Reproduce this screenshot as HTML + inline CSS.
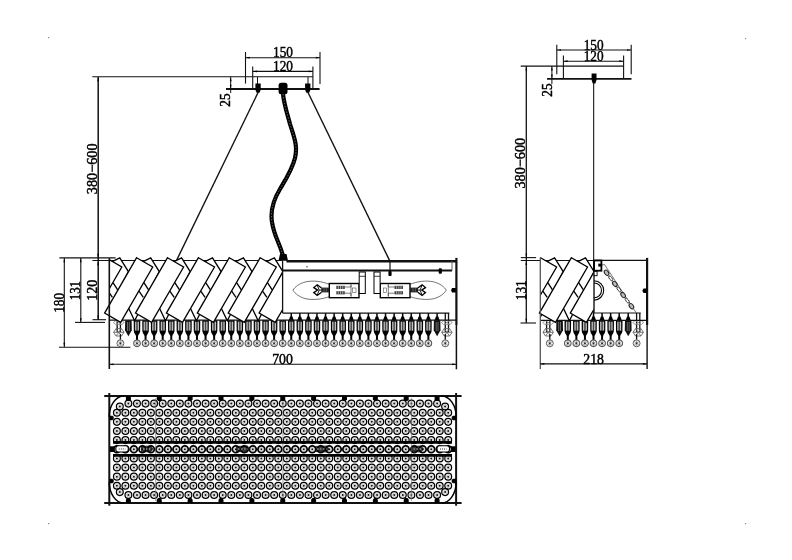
<!DOCTYPE html>
<html><head><meta charset="utf-8"><style>
html,body{margin:0;padding:0;background:#fff;}
svg{display:block;will-change:transform;}
</style></head><body>
<svg width="792" height="560" viewBox="0 0 792 560" shape-rendering="geometricPrecision">
<rect width="792" height="560" fill="#fff"/>
<line x1="92.30" y1="76.80" x2="312.90" y2="76.80" stroke="#111" stroke-width="1.1"/>
<line x1="98.20" y1="77.00" x2="98.20" y2="320.00" stroke="#111" stroke-width="1.5"/>
<path d="M98.10,77.00 l-0.85,4.20 l1.7,0 z" fill="#000"/>
<path d="M98.10,258.00 l-0.85,-4.20 l1.7,0 z" fill="#000"/>
<path d="M98.10,261.00 l-0.85,4.20 l1.7,0 z" fill="#000"/>
<path d="M98.10,319.70 l-0.85,-4.20 l1.7,0 z" fill="#000"/>
<text x="0" y="0" font-family="Liberation Serif"  font-size="15" text-anchor="middle" fill="#000" stroke="#000" stroke-width="0.45" transform="translate(97.00,168.80) rotate(-90) scale(0.95,1)">380−600</text>
<line x1="245.50" y1="57.70" x2="320.00" y2="57.70" stroke="#111" stroke-width="1.1"/>
<path d="M245.50,57.70 l4.20,-0.85 l0,1.7 z" fill="#000"/>
<path d="M320.00,57.70 l-4.20,-0.85 l0,1.7 z" fill="#000"/>
<line x1="245.50" y1="52.00" x2="245.50" y2="83.60" stroke="#111" stroke-width="1.1"/>
<line x1="320.00" y1="52.00" x2="320.00" y2="84.00" stroke="#111" stroke-width="1.1"/>
<text x="0" y="0" font-family="Liberation Serif"  font-size="14" text-anchor="middle" fill="#000" stroke="#000" stroke-width="0.45" transform="translate(283.00,56.60) scale(0.95,1)">150</text>
<line x1="252.70" y1="71.40" x2="312.90" y2="71.40" stroke="#111" stroke-width="1.1"/>
<path d="M252.70,71.40 l4.20,-0.85 l0,1.7 z" fill="#000"/>
<path d="M312.90,71.40 l-4.20,-0.85 l0,1.7 z" fill="#000"/>
<line x1="252.70" y1="66.60" x2="252.70" y2="89.00" stroke="#111" stroke-width="1.1"/>
<line x1="312.90" y1="66.60" x2="312.90" y2="89.00" stroke="#111" stroke-width="1.1"/>
<line x1="257.50" y1="77.00" x2="257.50" y2="89.00" stroke="#111" stroke-width="1"/>
<line x1="308.00" y1="77.00" x2="308.00" y2="89.00" stroke="#111" stroke-width="1"/>
<text x="0" y="0" font-family="Liberation Serif"  font-size="14" text-anchor="middle" fill="#000" stroke="#000" stroke-width="0.45" transform="translate(283.00,70.50) scale(0.95,1)">120</text>
<line x1="226.00" y1="89.00" x2="319.60" y2="89.00" stroke="#111" stroke-width="2"/>
<line x1="230.70" y1="76.80" x2="230.70" y2="93.00" stroke="#111" stroke-width="1"/>
<path d="M230.70,77.00 l-0.85,4.20 l1.7,0 z" fill="#000"/>
<path d="M230.70,89.00 l-0.85,-4.20 l1.7,0 z" fill="#000"/>
<line x1="226.00" y1="89.00" x2="236.00" y2="89.00" stroke="#111" stroke-width="1"/>
<text x="0" y="0" font-family="Liberation Serif"  font-size="14" text-anchor="middle" fill="#000" stroke="#000" stroke-width="0.45" transform="translate(230.20,100.00) rotate(-90) scale(0.95,1)">25</text>
<path d="M255.4,83.6 h5.3 v6.2 l-1.2,3 h-2.9 l-1.2,-3 z" fill="#000"/>
<path d="M305.1,83.6 h5.3 v6.2 l-1.2,3 h-2.9 l-1.2,-3 z" fill="#000"/>
<rect x="278.6" y="82.7" width="8.9" height="11.6" rx="2.5" fill="#000"/>
<line x1="258.30" y1="92.00" x2="176.40" y2="260.70" stroke="#111" stroke-width="1.4"/>
<line x1="307.80" y1="92.00" x2="390.00" y2="261.40" stroke="#111" stroke-width="1.4"/>
<path d="M283,94 C284,104 287,113 290,124 C294,137 298,146 295,158 C292,170 286,179 280,189 C274,199 270,210 272,222 C274,236 280,244 283,256" fill="none" stroke="#000" stroke-width="4.2" stroke-linecap="round"/>
<path d="M283,94 C284,104 287,113 290,124 C294,137 298,146 295,158 C292,170 286,179 280,189 C274,199 270,210 272,222 C274,236 280,244 283,256" fill="none" stroke="#666" stroke-width="1" stroke-dasharray="1.5 1.5"/>
<path d="M280,254 h6.5 l1.5,6.8 h-9.5 z" fill="#000"/>
<line x1="59.40" y1="257.90" x2="115.60" y2="257.90" stroke="#111" stroke-width="1.1"/>
<line x1="64.30" y1="257.90" x2="64.30" y2="347.00" stroke="#111" stroke-width="1.1"/>
<path d="M64.30,258.00 l-0.85,4.20 l1.7,0 z" fill="#000"/>
<path d="M64.30,347.00 l-0.85,-4.20 l1.7,0 z" fill="#000"/>
<line x1="80.80" y1="257.90" x2="80.80" y2="322.40" stroke="#111" stroke-width="1.1"/>
<path d="M80.80,258.00 l-0.85,4.20 l1.7,0 z" fill="#000"/>
<path d="M80.80,322.40 l-0.85,-4.20 l1.7,0 z" fill="#000"/>
<line x1="92.50" y1="319.70" x2="106.00" y2="319.70" stroke="#111" stroke-width="1.1"/>
<line x1="75.00" y1="322.40" x2="105.00" y2="322.40" stroke="#111" stroke-width="1.1"/>
<line x1="59.00" y1="347.20" x2="130.40" y2="347.20" stroke="#111" stroke-width="1.1"/>
<text x="0" y="0" font-family="Liberation Serif"  font-size="14" text-anchor="middle" fill="#000" stroke="#000" stroke-width="0.45" transform="translate(63.50,302.80) rotate(-90) scale(0.95,1)">180</text>
<text x="0" y="0" font-family="Liberation Serif"  font-size="14" text-anchor="middle" fill="#000" stroke="#000" stroke-width="0.45" transform="translate(80.00,290.60) rotate(-90) scale(0.92,1)">131</text>
<text x="0" y="0" font-family="Liberation Serif"  font-size="14" text-anchor="middle" fill="#000" stroke="#000" stroke-width="0.45" transform="translate(96.80,290.30) rotate(-90) scale(1.0,1)">120</text>
<line x1="109.30" y1="364.30" x2="456.40" y2="364.30" stroke="#111" stroke-width="1.1"/>
<path d="M109.30,364.30 l4.20,-0.85 l0,1.7 z" fill="#000"/>
<path d="M456.40,364.30 l-4.20,-0.85 l0,1.7 z" fill="#000"/>
<text x="0" y="0" font-family="Liberation Serif"  font-size="14.5" text-anchor="middle" fill="#000" stroke="#000" stroke-width="0.45" transform="translate(282.50,363.80) scale(0.95,1)">700</text>
<line x1="556.80" y1="50.00" x2="631.20" y2="50.00" stroke="#111" stroke-width="1.1"/>
<path d="M556.80,50.00 l4.20,-0.85 l0,1.7 z" fill="#000"/>
<path d="M631.20,50.00 l-4.20,-0.85 l0,1.7 z" fill="#000"/>
<line x1="556.80" y1="44.80" x2="556.80" y2="74.30" stroke="#111" stroke-width="1.1"/>
<line x1="631.20" y1="44.80" x2="631.20" y2="74.30" stroke="#111" stroke-width="1.1"/>
<text x="0" y="0" font-family="Liberation Serif"  font-size="14" text-anchor="middle" fill="#000" stroke="#000" stroke-width="0.45" transform="translate(593.70,49.60) scale(0.95,1)">150</text>
<line x1="563.40" y1="61.20" x2="623.60" y2="61.20" stroke="#111" stroke-width="1.1"/>
<path d="M563.40,61.20 l4.20,-0.85 l0,1.7 z" fill="#000"/>
<path d="M623.60,61.20 l-4.20,-0.85 l0,1.7 z" fill="#000"/>
<line x1="563.40" y1="55.50" x2="563.40" y2="78.00" stroke="#111" stroke-width="1.1"/>
<line x1="623.60" y1="55.50" x2="623.60" y2="78.00" stroke="#111" stroke-width="1.1"/>
<text x="0" y="0" font-family="Liberation Serif"  font-size="14" text-anchor="middle" fill="#000" stroke="#000" stroke-width="0.45" transform="translate(593.70,60.90) scale(0.95,1)">120</text>
<line x1="520.70" y1="66.10" x2="623.60" y2="66.10" stroke="#111" stroke-width="1.1"/>
<line x1="547.00" y1="78.80" x2="631.50" y2="78.80" stroke="#111" stroke-width="1.8"/>
<path d="M591.6,73.5 h4.9 v6.5 l-1.2,3.5 h-2.5 l-1.2,-3.5 z" fill="#000"/>
<line x1="593.70" y1="79.00" x2="593.70" y2="313.00" stroke="#000" stroke-width="1.0"/>
<line x1="551.90" y1="66.10" x2="551.90" y2="84.00" stroke="#111" stroke-width="1"/>
<path d="M551.90,66.30 l-0.85,4.20 l1.7,0 z" fill="#000"/>
<path d="M551.90,78.80 l-0.85,-4.20 l1.7,0 z" fill="#000"/>
<text x="0" y="0" font-family="Liberation Serif"  font-size="14" text-anchor="middle" fill="#000" stroke="#000" stroke-width="0.45" transform="translate(551.50,90.00) rotate(-90) scale(0.95,1)">25</text>
<line x1="526.30" y1="66.10" x2="526.30" y2="323.00" stroke="#111" stroke-width="1.3"/>
<path d="M526.30,66.30 l-0.85,4.20 l1.7,0 z" fill="#000"/>
<path d="M526.30,257.70 l-0.85,-4.20 l1.7,0 z" fill="#000"/>
<path d="M526.30,260.70 l-0.85,4.20 l1.7,0 z" fill="#000"/>
<path d="M526.30,323.00 l-0.85,-4.20 l1.7,0 z" fill="#000"/>
<line x1="520.80" y1="257.60" x2="536.10" y2="257.60" stroke="#111" stroke-width="1.1"/>
<text x="0" y="0" font-family="Liberation Serif"  font-size="15" text-anchor="middle" fill="#000" stroke="#000" stroke-width="0.45" transform="translate(524.80,163.20) rotate(-90) scale(0.95,1)">380−600</text>
<text x="0" y="0" font-family="Liberation Serif"  font-size="14" text-anchor="middle" fill="#000" stroke="#000" stroke-width="0.45" transform="translate(525.80,290.20) rotate(-90) scale(0.95,1)">131</text>
<line x1="520.50" y1="323.00" x2="536.00" y2="323.00" stroke="#111" stroke-width="1.1"/>
<circle cx="128.40" cy="403.60" r="3.4" fill="none" stroke="#000" stroke-width="1.25"/>
<circle cx="128.40" cy="403.60" r="1.9" fill="none" stroke="#aaa" stroke-width="0.6"/>
<circle cx="128.40" cy="403.60" r="1.0" fill="#111"/>
<circle cx="136.97" cy="403.60" r="3.4" fill="none" stroke="#000" stroke-width="1.25"/>
<circle cx="136.97" cy="403.60" r="1.9" fill="none" stroke="#aaa" stroke-width="0.6"/>
<circle cx="136.97" cy="403.60" r="1.0" fill="#111"/>
<circle cx="145.55" cy="403.60" r="3.4" fill="none" stroke="#000" stroke-width="1.25"/>
<circle cx="145.55" cy="403.60" r="1.9" fill="none" stroke="#aaa" stroke-width="0.6"/>
<circle cx="145.55" cy="403.60" r="1.0" fill="#111"/>
<circle cx="154.12" cy="403.60" r="3.4" fill="none" stroke="#000" stroke-width="1.25"/>
<circle cx="154.12" cy="403.60" r="1.9" fill="none" stroke="#aaa" stroke-width="0.6"/>
<circle cx="154.12" cy="403.60" r="1.0" fill="#111"/>
<circle cx="162.70" cy="403.60" r="3.4" fill="none" stroke="#000" stroke-width="1.25"/>
<circle cx="162.70" cy="403.60" r="1.9" fill="none" stroke="#aaa" stroke-width="0.6"/>
<circle cx="162.70" cy="403.60" r="1.0" fill="#111"/>
<circle cx="171.28" cy="403.60" r="3.4" fill="none" stroke="#000" stroke-width="1.25"/>
<circle cx="171.28" cy="403.60" r="1.9" fill="none" stroke="#aaa" stroke-width="0.6"/>
<circle cx="171.28" cy="403.60" r="1.0" fill="#111"/>
<circle cx="179.85" cy="403.60" r="3.4" fill="none" stroke="#000" stroke-width="1.25"/>
<circle cx="179.85" cy="403.60" r="1.9" fill="none" stroke="#aaa" stroke-width="0.6"/>
<circle cx="179.85" cy="403.60" r="1.0" fill="#111"/>
<circle cx="188.43" cy="403.60" r="3.4" fill="none" stroke="#000" stroke-width="1.25"/>
<circle cx="188.43" cy="403.60" r="1.9" fill="none" stroke="#aaa" stroke-width="0.6"/>
<circle cx="188.43" cy="403.60" r="1.0" fill="#111"/>
<circle cx="197.00" cy="403.60" r="3.4" fill="none" stroke="#000" stroke-width="1.25"/>
<circle cx="197.00" cy="403.60" r="1.9" fill="none" stroke="#aaa" stroke-width="0.6"/>
<circle cx="197.00" cy="403.60" r="1.0" fill="#111"/>
<circle cx="205.57" cy="403.60" r="3.4" fill="none" stroke="#000" stroke-width="1.25"/>
<circle cx="205.57" cy="403.60" r="1.9" fill="none" stroke="#aaa" stroke-width="0.6"/>
<circle cx="205.57" cy="403.60" r="1.0" fill="#111"/>
<circle cx="214.15" cy="403.60" r="3.4" fill="none" stroke="#000" stroke-width="1.25"/>
<circle cx="214.15" cy="403.60" r="1.9" fill="none" stroke="#aaa" stroke-width="0.6"/>
<circle cx="214.15" cy="403.60" r="1.0" fill="#111"/>
<circle cx="222.72" cy="403.60" r="3.4" fill="none" stroke="#000" stroke-width="1.25"/>
<circle cx="222.72" cy="403.60" r="1.9" fill="none" stroke="#aaa" stroke-width="0.6"/>
<circle cx="222.72" cy="403.60" r="1.0" fill="#111"/>
<circle cx="231.30" cy="403.60" r="3.4" fill="none" stroke="#000" stroke-width="1.25"/>
<circle cx="231.30" cy="403.60" r="1.9" fill="none" stroke="#aaa" stroke-width="0.6"/>
<circle cx="231.30" cy="403.60" r="1.0" fill="#111"/>
<circle cx="239.88" cy="403.60" r="3.4" fill="none" stroke="#000" stroke-width="1.25"/>
<circle cx="239.88" cy="403.60" r="1.9" fill="none" stroke="#aaa" stroke-width="0.6"/>
<circle cx="239.88" cy="403.60" r="1.0" fill="#111"/>
<circle cx="248.45" cy="403.60" r="3.4" fill="none" stroke="#000" stroke-width="1.25"/>
<circle cx="248.45" cy="403.60" r="1.9" fill="none" stroke="#aaa" stroke-width="0.6"/>
<circle cx="248.45" cy="403.60" r="1.0" fill="#111"/>
<circle cx="257.02" cy="403.60" r="3.4" fill="none" stroke="#000" stroke-width="1.25"/>
<circle cx="257.02" cy="403.60" r="1.9" fill="none" stroke="#aaa" stroke-width="0.6"/>
<circle cx="257.02" cy="403.60" r="1.0" fill="#111"/>
<circle cx="265.60" cy="403.60" r="3.4" fill="none" stroke="#000" stroke-width="1.25"/>
<circle cx="265.60" cy="403.60" r="1.9" fill="none" stroke="#aaa" stroke-width="0.6"/>
<circle cx="265.60" cy="403.60" r="1.0" fill="#111"/>
<circle cx="274.17" cy="403.60" r="3.4" fill="none" stroke="#000" stroke-width="1.25"/>
<circle cx="274.17" cy="403.60" r="1.9" fill="none" stroke="#aaa" stroke-width="0.6"/>
<circle cx="274.17" cy="403.60" r="1.0" fill="#111"/>
<circle cx="282.75" cy="403.60" r="3.4" fill="none" stroke="#000" stroke-width="1.25"/>
<circle cx="282.75" cy="403.60" r="1.9" fill="none" stroke="#aaa" stroke-width="0.6"/>
<circle cx="282.75" cy="403.60" r="1.0" fill="#111"/>
<circle cx="291.32" cy="403.60" r="3.4" fill="none" stroke="#000" stroke-width="1.25"/>
<circle cx="291.32" cy="403.60" r="1.9" fill="none" stroke="#aaa" stroke-width="0.6"/>
<circle cx="291.32" cy="403.60" r="1.0" fill="#111"/>
<circle cx="299.90" cy="403.60" r="3.4" fill="none" stroke="#000" stroke-width="1.25"/>
<circle cx="299.90" cy="403.60" r="1.9" fill="none" stroke="#aaa" stroke-width="0.6"/>
<circle cx="299.90" cy="403.60" r="1.0" fill="#111"/>
<circle cx="308.48" cy="403.60" r="3.4" fill="none" stroke="#000" stroke-width="1.25"/>
<circle cx="308.48" cy="403.60" r="1.9" fill="none" stroke="#aaa" stroke-width="0.6"/>
<circle cx="308.48" cy="403.60" r="1.0" fill="#111"/>
<circle cx="317.05" cy="403.60" r="3.4" fill="none" stroke="#000" stroke-width="1.25"/>
<circle cx="317.05" cy="403.60" r="1.9" fill="none" stroke="#aaa" stroke-width="0.6"/>
<circle cx="317.05" cy="403.60" r="1.0" fill="#111"/>
<circle cx="325.62" cy="403.60" r="3.4" fill="none" stroke="#000" stroke-width="1.25"/>
<circle cx="325.62" cy="403.60" r="1.9" fill="none" stroke="#aaa" stroke-width="0.6"/>
<circle cx="325.62" cy="403.60" r="1.0" fill="#111"/>
<circle cx="334.20" cy="403.60" r="3.4" fill="none" stroke="#000" stroke-width="1.25"/>
<circle cx="334.20" cy="403.60" r="1.9" fill="none" stroke="#aaa" stroke-width="0.6"/>
<circle cx="334.20" cy="403.60" r="1.0" fill="#111"/>
<circle cx="342.77" cy="403.60" r="3.4" fill="none" stroke="#000" stroke-width="1.25"/>
<circle cx="342.77" cy="403.60" r="1.9" fill="none" stroke="#aaa" stroke-width="0.6"/>
<circle cx="342.77" cy="403.60" r="1.0" fill="#111"/>
<circle cx="351.35" cy="403.60" r="3.4" fill="none" stroke="#000" stroke-width="1.25"/>
<circle cx="351.35" cy="403.60" r="1.9" fill="none" stroke="#aaa" stroke-width="0.6"/>
<circle cx="351.35" cy="403.60" r="1.0" fill="#111"/>
<circle cx="359.92" cy="403.60" r="3.4" fill="none" stroke="#000" stroke-width="1.25"/>
<circle cx="359.92" cy="403.60" r="1.9" fill="none" stroke="#aaa" stroke-width="0.6"/>
<circle cx="359.92" cy="403.60" r="1.0" fill="#111"/>
<circle cx="368.50" cy="403.60" r="3.4" fill="none" stroke="#000" stroke-width="1.25"/>
<circle cx="368.50" cy="403.60" r="1.9" fill="none" stroke="#aaa" stroke-width="0.6"/>
<circle cx="368.50" cy="403.60" r="1.0" fill="#111"/>
<circle cx="377.07" cy="403.60" r="3.4" fill="none" stroke="#000" stroke-width="1.25"/>
<circle cx="377.07" cy="403.60" r="1.9" fill="none" stroke="#aaa" stroke-width="0.6"/>
<circle cx="377.07" cy="403.60" r="1.0" fill="#111"/>
<circle cx="385.65" cy="403.60" r="3.4" fill="none" stroke="#000" stroke-width="1.25"/>
<circle cx="385.65" cy="403.60" r="1.9" fill="none" stroke="#aaa" stroke-width="0.6"/>
<circle cx="385.65" cy="403.60" r="1.0" fill="#111"/>
<circle cx="394.23" cy="403.60" r="3.4" fill="none" stroke="#000" stroke-width="1.25"/>
<circle cx="394.23" cy="403.60" r="1.9" fill="none" stroke="#aaa" stroke-width="0.6"/>
<circle cx="394.23" cy="403.60" r="1.0" fill="#111"/>
<circle cx="402.80" cy="403.60" r="3.4" fill="none" stroke="#000" stroke-width="1.25"/>
<circle cx="402.80" cy="403.60" r="1.9" fill="none" stroke="#aaa" stroke-width="0.6"/>
<circle cx="402.80" cy="403.60" r="1.0" fill="#111"/>
<circle cx="411.38" cy="403.60" r="3.4" fill="none" stroke="#000" stroke-width="1.25"/>
<circle cx="411.38" cy="403.60" r="1.9" fill="none" stroke="#aaa" stroke-width="0.6"/>
<circle cx="411.38" cy="403.60" r="1.0" fill="#111"/>
<circle cx="419.95" cy="403.60" r="3.4" fill="none" stroke="#000" stroke-width="1.25"/>
<circle cx="419.95" cy="403.60" r="1.9" fill="none" stroke="#aaa" stroke-width="0.6"/>
<circle cx="419.95" cy="403.60" r="1.0" fill="#111"/>
<circle cx="428.52" cy="403.60" r="3.4" fill="none" stroke="#000" stroke-width="1.25"/>
<circle cx="428.52" cy="403.60" r="1.9" fill="none" stroke="#aaa" stroke-width="0.6"/>
<circle cx="428.52" cy="403.60" r="1.0" fill="#111"/>
<circle cx="437.10" cy="403.60" r="3.4" fill="none" stroke="#000" stroke-width="1.25"/>
<circle cx="437.10" cy="403.60" r="1.9" fill="none" stroke="#aaa" stroke-width="0.6"/>
<circle cx="437.10" cy="403.60" r="1.0" fill="#111"/>
<circle cx="116.90" cy="412.73" r="3.4" fill="none" stroke="#000" stroke-width="1.25"/>
<circle cx="116.90" cy="412.73" r="1.9" fill="none" stroke="#aaa" stroke-width="0.6"/>
<circle cx="116.90" cy="412.73" r="1.0" fill="#111"/>
<circle cx="125.40" cy="412.73" r="3.4" fill="none" stroke="#000" stroke-width="1.25"/>
<circle cx="125.40" cy="412.73" r="1.9" fill="none" stroke="#aaa" stroke-width="0.6"/>
<circle cx="125.40" cy="412.73" r="1.0" fill="#111"/>
<circle cx="133.89" cy="412.73" r="3.4" fill="none" stroke="#000" stroke-width="1.25"/>
<circle cx="133.89" cy="412.73" r="1.9" fill="none" stroke="#aaa" stroke-width="0.6"/>
<circle cx="133.89" cy="412.73" r="1.0" fill="#111"/>
<circle cx="142.38" cy="412.73" r="3.4" fill="none" stroke="#000" stroke-width="1.25"/>
<circle cx="142.38" cy="412.73" r="1.9" fill="none" stroke="#aaa" stroke-width="0.6"/>
<circle cx="142.38" cy="412.73" r="1.0" fill="#111"/>
<circle cx="150.88" cy="412.73" r="3.4" fill="none" stroke="#000" stroke-width="1.25"/>
<circle cx="150.88" cy="412.73" r="1.9" fill="none" stroke="#aaa" stroke-width="0.6"/>
<circle cx="150.88" cy="412.73" r="1.0" fill="#111"/>
<circle cx="159.38" cy="412.73" r="3.4" fill="none" stroke="#000" stroke-width="1.25"/>
<circle cx="159.38" cy="412.73" r="1.9" fill="none" stroke="#aaa" stroke-width="0.6"/>
<circle cx="159.38" cy="412.73" r="1.0" fill="#111"/>
<circle cx="167.87" cy="412.73" r="3.4" fill="none" stroke="#000" stroke-width="1.25"/>
<circle cx="167.87" cy="412.73" r="1.9" fill="none" stroke="#aaa" stroke-width="0.6"/>
<circle cx="167.87" cy="412.73" r="1.0" fill="#111"/>
<circle cx="176.37" cy="412.73" r="3.4" fill="none" stroke="#000" stroke-width="1.25"/>
<circle cx="176.37" cy="412.73" r="1.9" fill="none" stroke="#aaa" stroke-width="0.6"/>
<circle cx="176.37" cy="412.73" r="1.0" fill="#111"/>
<circle cx="184.86" cy="412.73" r="3.4" fill="none" stroke="#000" stroke-width="1.25"/>
<circle cx="184.86" cy="412.73" r="1.9" fill="none" stroke="#aaa" stroke-width="0.6"/>
<circle cx="184.86" cy="412.73" r="1.0" fill="#111"/>
<circle cx="193.36" cy="412.73" r="3.4" fill="none" stroke="#000" stroke-width="1.25"/>
<circle cx="193.36" cy="412.73" r="1.9" fill="none" stroke="#aaa" stroke-width="0.6"/>
<circle cx="193.36" cy="412.73" r="1.0" fill="#111"/>
<circle cx="201.85" cy="412.73" r="3.4" fill="none" stroke="#000" stroke-width="1.25"/>
<circle cx="201.85" cy="412.73" r="1.9" fill="none" stroke="#aaa" stroke-width="0.6"/>
<circle cx="201.85" cy="412.73" r="1.0" fill="#111"/>
<circle cx="210.34" cy="412.73" r="3.4" fill="none" stroke="#000" stroke-width="1.25"/>
<circle cx="210.34" cy="412.73" r="1.9" fill="none" stroke="#aaa" stroke-width="0.6"/>
<circle cx="210.34" cy="412.73" r="1.0" fill="#111"/>
<circle cx="218.84" cy="412.73" r="3.4" fill="none" stroke="#000" stroke-width="1.25"/>
<circle cx="218.84" cy="412.73" r="1.9" fill="none" stroke="#aaa" stroke-width="0.6"/>
<circle cx="218.84" cy="412.73" r="1.0" fill="#111"/>
<circle cx="227.33" cy="412.73" r="3.4" fill="none" stroke="#000" stroke-width="1.25"/>
<circle cx="227.33" cy="412.73" r="1.9" fill="none" stroke="#aaa" stroke-width="0.6"/>
<circle cx="227.33" cy="412.73" r="1.0" fill="#111"/>
<circle cx="235.83" cy="412.73" r="3.4" fill="none" stroke="#000" stroke-width="1.25"/>
<circle cx="235.83" cy="412.73" r="1.9" fill="none" stroke="#aaa" stroke-width="0.6"/>
<circle cx="235.83" cy="412.73" r="1.0" fill="#111"/>
<circle cx="244.32" cy="412.73" r="3.4" fill="none" stroke="#000" stroke-width="1.25"/>
<circle cx="244.32" cy="412.73" r="1.9" fill="none" stroke="#aaa" stroke-width="0.6"/>
<circle cx="244.32" cy="412.73" r="1.0" fill="#111"/>
<circle cx="252.82" cy="412.73" r="3.4" fill="none" stroke="#000" stroke-width="1.25"/>
<circle cx="252.82" cy="412.73" r="1.9" fill="none" stroke="#aaa" stroke-width="0.6"/>
<circle cx="252.82" cy="412.73" r="1.0" fill="#111"/>
<circle cx="261.31" cy="412.73" r="3.4" fill="none" stroke="#000" stroke-width="1.25"/>
<circle cx="261.31" cy="412.73" r="1.9" fill="none" stroke="#aaa" stroke-width="0.6"/>
<circle cx="261.31" cy="412.73" r="1.0" fill="#111"/>
<circle cx="269.81" cy="412.73" r="3.4" fill="none" stroke="#000" stroke-width="1.25"/>
<circle cx="269.81" cy="412.73" r="1.9" fill="none" stroke="#aaa" stroke-width="0.6"/>
<circle cx="269.81" cy="412.73" r="1.0" fill="#111"/>
<circle cx="278.30" cy="412.73" r="3.4" fill="none" stroke="#000" stroke-width="1.25"/>
<circle cx="278.30" cy="412.73" r="1.9" fill="none" stroke="#aaa" stroke-width="0.6"/>
<circle cx="278.30" cy="412.73" r="1.0" fill="#111"/>
<circle cx="286.80" cy="412.73" r="3.4" fill="none" stroke="#000" stroke-width="1.25"/>
<circle cx="286.80" cy="412.73" r="1.9" fill="none" stroke="#aaa" stroke-width="0.6"/>
<circle cx="286.80" cy="412.73" r="1.0" fill="#111"/>
<circle cx="295.29" cy="412.73" r="3.4" fill="none" stroke="#000" stroke-width="1.25"/>
<circle cx="295.29" cy="412.73" r="1.9" fill="none" stroke="#aaa" stroke-width="0.6"/>
<circle cx="295.29" cy="412.73" r="1.0" fill="#111"/>
<circle cx="303.79" cy="412.73" r="3.4" fill="none" stroke="#000" stroke-width="1.25"/>
<circle cx="303.79" cy="412.73" r="1.9" fill="none" stroke="#aaa" stroke-width="0.6"/>
<circle cx="303.79" cy="412.73" r="1.0" fill="#111"/>
<circle cx="312.28" cy="412.73" r="3.4" fill="none" stroke="#000" stroke-width="1.25"/>
<circle cx="312.28" cy="412.73" r="1.9" fill="none" stroke="#aaa" stroke-width="0.6"/>
<circle cx="312.28" cy="412.73" r="1.0" fill="#111"/>
<circle cx="320.78" cy="412.73" r="3.4" fill="none" stroke="#000" stroke-width="1.25"/>
<circle cx="320.78" cy="412.73" r="1.9" fill="none" stroke="#aaa" stroke-width="0.6"/>
<circle cx="320.78" cy="412.73" r="1.0" fill="#111"/>
<circle cx="329.27" cy="412.73" r="3.4" fill="none" stroke="#000" stroke-width="1.25"/>
<circle cx="329.27" cy="412.73" r="1.9" fill="none" stroke="#aaa" stroke-width="0.6"/>
<circle cx="329.27" cy="412.73" r="1.0" fill="#111"/>
<circle cx="337.77" cy="412.73" r="3.4" fill="none" stroke="#000" stroke-width="1.25"/>
<circle cx="337.77" cy="412.73" r="1.9" fill="none" stroke="#aaa" stroke-width="0.6"/>
<circle cx="337.77" cy="412.73" r="1.0" fill="#111"/>
<circle cx="346.26" cy="412.73" r="3.4" fill="none" stroke="#000" stroke-width="1.25"/>
<circle cx="346.26" cy="412.73" r="1.9" fill="none" stroke="#aaa" stroke-width="0.6"/>
<circle cx="346.26" cy="412.73" r="1.0" fill="#111"/>
<circle cx="354.76" cy="412.73" r="3.4" fill="none" stroke="#000" stroke-width="1.25"/>
<circle cx="354.76" cy="412.73" r="1.9" fill="none" stroke="#aaa" stroke-width="0.6"/>
<circle cx="354.76" cy="412.73" r="1.0" fill="#111"/>
<circle cx="363.25" cy="412.73" r="3.4" fill="none" stroke="#000" stroke-width="1.25"/>
<circle cx="363.25" cy="412.73" r="1.9" fill="none" stroke="#aaa" stroke-width="0.6"/>
<circle cx="363.25" cy="412.73" r="1.0" fill="#111"/>
<circle cx="371.75" cy="412.73" r="3.4" fill="none" stroke="#000" stroke-width="1.25"/>
<circle cx="371.75" cy="412.73" r="1.9" fill="none" stroke="#aaa" stroke-width="0.6"/>
<circle cx="371.75" cy="412.73" r="1.0" fill="#111"/>
<circle cx="380.25" cy="412.73" r="3.4" fill="none" stroke="#000" stroke-width="1.25"/>
<circle cx="380.25" cy="412.73" r="1.9" fill="none" stroke="#aaa" stroke-width="0.6"/>
<circle cx="380.25" cy="412.73" r="1.0" fill="#111"/>
<circle cx="388.74" cy="412.73" r="3.4" fill="none" stroke="#000" stroke-width="1.25"/>
<circle cx="388.74" cy="412.73" r="1.9" fill="none" stroke="#aaa" stroke-width="0.6"/>
<circle cx="388.74" cy="412.73" r="1.0" fill="#111"/>
<circle cx="397.24" cy="412.73" r="3.4" fill="none" stroke="#000" stroke-width="1.25"/>
<circle cx="397.24" cy="412.73" r="1.9" fill="none" stroke="#aaa" stroke-width="0.6"/>
<circle cx="397.24" cy="412.73" r="1.0" fill="#111"/>
<circle cx="405.73" cy="412.73" r="3.4" fill="none" stroke="#000" stroke-width="1.25"/>
<circle cx="405.73" cy="412.73" r="1.9" fill="none" stroke="#aaa" stroke-width="0.6"/>
<circle cx="405.73" cy="412.73" r="1.0" fill="#111"/>
<circle cx="414.23" cy="412.73" r="3.4" fill="none" stroke="#000" stroke-width="1.25"/>
<circle cx="414.23" cy="412.73" r="1.9" fill="none" stroke="#aaa" stroke-width="0.6"/>
<circle cx="414.23" cy="412.73" r="1.0" fill="#111"/>
<circle cx="422.72" cy="412.73" r="3.4" fill="none" stroke="#000" stroke-width="1.25"/>
<circle cx="422.72" cy="412.73" r="1.9" fill="none" stroke="#aaa" stroke-width="0.6"/>
<circle cx="422.72" cy="412.73" r="1.0" fill="#111"/>
<circle cx="431.22" cy="412.73" r="3.4" fill="none" stroke="#000" stroke-width="1.25"/>
<circle cx="431.22" cy="412.73" r="1.9" fill="none" stroke="#aaa" stroke-width="0.6"/>
<circle cx="431.22" cy="412.73" r="1.0" fill="#111"/>
<circle cx="439.71" cy="412.73" r="3.4" fill="none" stroke="#000" stroke-width="1.25"/>
<circle cx="439.71" cy="412.73" r="1.9" fill="none" stroke="#aaa" stroke-width="0.6"/>
<circle cx="439.71" cy="412.73" r="1.0" fill="#111"/>
<circle cx="448.20" cy="412.73" r="3.4" fill="none" stroke="#000" stroke-width="1.25"/>
<circle cx="448.20" cy="412.73" r="1.9" fill="none" stroke="#aaa" stroke-width="0.6"/>
<circle cx="448.20" cy="412.73" r="1.0" fill="#111"/>
<circle cx="116.90" cy="421.86" r="3.4" fill="none" stroke="#000" stroke-width="1.25"/>
<circle cx="116.90" cy="421.86" r="1.9" fill="none" stroke="#aaa" stroke-width="0.6"/>
<circle cx="116.90" cy="421.86" r="1.0" fill="#111"/>
<circle cx="125.40" cy="421.86" r="3.4" fill="none" stroke="#000" stroke-width="1.25"/>
<circle cx="125.40" cy="421.86" r="1.9" fill="none" stroke="#aaa" stroke-width="0.6"/>
<circle cx="125.40" cy="421.86" r="1.0" fill="#111"/>
<circle cx="133.89" cy="421.86" r="3.4" fill="none" stroke="#000" stroke-width="1.25"/>
<circle cx="133.89" cy="421.86" r="1.9" fill="none" stroke="#aaa" stroke-width="0.6"/>
<circle cx="133.89" cy="421.86" r="1.0" fill="#111"/>
<circle cx="142.38" cy="421.86" r="3.4" fill="none" stroke="#000" stroke-width="1.25"/>
<circle cx="142.38" cy="421.86" r="1.9" fill="none" stroke="#aaa" stroke-width="0.6"/>
<circle cx="142.38" cy="421.86" r="1.0" fill="#111"/>
<circle cx="150.88" cy="421.86" r="3.4" fill="none" stroke="#000" stroke-width="1.25"/>
<circle cx="150.88" cy="421.86" r="1.9" fill="none" stroke="#aaa" stroke-width="0.6"/>
<circle cx="150.88" cy="421.86" r="1.0" fill="#111"/>
<circle cx="159.38" cy="421.86" r="3.4" fill="none" stroke="#000" stroke-width="1.25"/>
<circle cx="159.38" cy="421.86" r="1.9" fill="none" stroke="#aaa" stroke-width="0.6"/>
<circle cx="159.38" cy="421.86" r="1.0" fill="#111"/>
<circle cx="167.87" cy="421.86" r="3.4" fill="none" stroke="#000" stroke-width="1.25"/>
<circle cx="167.87" cy="421.86" r="1.9" fill="none" stroke="#aaa" stroke-width="0.6"/>
<circle cx="167.87" cy="421.86" r="1.0" fill="#111"/>
<circle cx="176.37" cy="421.86" r="3.4" fill="none" stroke="#000" stroke-width="1.25"/>
<circle cx="176.37" cy="421.86" r="1.9" fill="none" stroke="#aaa" stroke-width="0.6"/>
<circle cx="176.37" cy="421.86" r="1.0" fill="#111"/>
<circle cx="184.86" cy="421.86" r="3.4" fill="none" stroke="#000" stroke-width="1.25"/>
<circle cx="184.86" cy="421.86" r="1.9" fill="none" stroke="#aaa" stroke-width="0.6"/>
<circle cx="184.86" cy="421.86" r="1.0" fill="#111"/>
<circle cx="193.36" cy="421.86" r="3.4" fill="none" stroke="#000" stroke-width="1.25"/>
<circle cx="193.36" cy="421.86" r="1.9" fill="none" stroke="#aaa" stroke-width="0.6"/>
<circle cx="193.36" cy="421.86" r="1.0" fill="#111"/>
<circle cx="201.85" cy="421.86" r="3.4" fill="none" stroke="#000" stroke-width="1.25"/>
<circle cx="201.85" cy="421.86" r="1.9" fill="none" stroke="#aaa" stroke-width="0.6"/>
<circle cx="201.85" cy="421.86" r="1.0" fill="#111"/>
<circle cx="210.34" cy="421.86" r="3.4" fill="none" stroke="#000" stroke-width="1.25"/>
<circle cx="210.34" cy="421.86" r="1.9" fill="none" stroke="#aaa" stroke-width="0.6"/>
<circle cx="210.34" cy="421.86" r="1.0" fill="#111"/>
<circle cx="218.84" cy="421.86" r="3.4" fill="none" stroke="#000" stroke-width="1.25"/>
<circle cx="218.84" cy="421.86" r="1.9" fill="none" stroke="#aaa" stroke-width="0.6"/>
<circle cx="218.84" cy="421.86" r="1.0" fill="#111"/>
<circle cx="227.33" cy="421.86" r="3.4" fill="none" stroke="#000" stroke-width="1.25"/>
<circle cx="227.33" cy="421.86" r="1.9" fill="none" stroke="#aaa" stroke-width="0.6"/>
<circle cx="227.33" cy="421.86" r="1.0" fill="#111"/>
<circle cx="235.83" cy="421.86" r="3.4" fill="none" stroke="#000" stroke-width="1.25"/>
<circle cx="235.83" cy="421.86" r="1.9" fill="none" stroke="#aaa" stroke-width="0.6"/>
<circle cx="235.83" cy="421.86" r="1.0" fill="#111"/>
<circle cx="244.32" cy="421.86" r="3.4" fill="none" stroke="#000" stroke-width="1.25"/>
<circle cx="244.32" cy="421.86" r="1.9" fill="none" stroke="#aaa" stroke-width="0.6"/>
<circle cx="244.32" cy="421.86" r="1.0" fill="#111"/>
<circle cx="252.82" cy="421.86" r="3.4" fill="none" stroke="#000" stroke-width="1.25"/>
<circle cx="252.82" cy="421.86" r="1.9" fill="none" stroke="#aaa" stroke-width="0.6"/>
<circle cx="252.82" cy="421.86" r="1.0" fill="#111"/>
<circle cx="261.31" cy="421.86" r="3.4" fill="none" stroke="#000" stroke-width="1.25"/>
<circle cx="261.31" cy="421.86" r="1.9" fill="none" stroke="#aaa" stroke-width="0.6"/>
<circle cx="261.31" cy="421.86" r="1.0" fill="#111"/>
<circle cx="269.81" cy="421.86" r="3.4" fill="none" stroke="#000" stroke-width="1.25"/>
<circle cx="269.81" cy="421.86" r="1.9" fill="none" stroke="#aaa" stroke-width="0.6"/>
<circle cx="269.81" cy="421.86" r="1.0" fill="#111"/>
<circle cx="278.30" cy="421.86" r="3.4" fill="none" stroke="#000" stroke-width="1.25"/>
<circle cx="278.30" cy="421.86" r="1.9" fill="none" stroke="#aaa" stroke-width="0.6"/>
<circle cx="278.30" cy="421.86" r="1.0" fill="#111"/>
<circle cx="286.80" cy="421.86" r="3.4" fill="none" stroke="#000" stroke-width="1.25"/>
<circle cx="286.80" cy="421.86" r="1.9" fill="none" stroke="#aaa" stroke-width="0.6"/>
<circle cx="286.80" cy="421.86" r="1.0" fill="#111"/>
<circle cx="295.29" cy="421.86" r="3.4" fill="none" stroke="#000" stroke-width="1.25"/>
<circle cx="295.29" cy="421.86" r="1.9" fill="none" stroke="#aaa" stroke-width="0.6"/>
<circle cx="295.29" cy="421.86" r="1.0" fill="#111"/>
<circle cx="303.79" cy="421.86" r="3.4" fill="none" stroke="#000" stroke-width="1.25"/>
<circle cx="303.79" cy="421.86" r="1.9" fill="none" stroke="#aaa" stroke-width="0.6"/>
<circle cx="303.79" cy="421.86" r="1.0" fill="#111"/>
<circle cx="312.28" cy="421.86" r="3.4" fill="none" stroke="#000" stroke-width="1.25"/>
<circle cx="312.28" cy="421.86" r="1.9" fill="none" stroke="#aaa" stroke-width="0.6"/>
<circle cx="312.28" cy="421.86" r="1.0" fill="#111"/>
<circle cx="320.78" cy="421.86" r="3.4" fill="none" stroke="#000" stroke-width="1.25"/>
<circle cx="320.78" cy="421.86" r="1.9" fill="none" stroke="#aaa" stroke-width="0.6"/>
<circle cx="320.78" cy="421.86" r="1.0" fill="#111"/>
<circle cx="329.27" cy="421.86" r="3.4" fill="none" stroke="#000" stroke-width="1.25"/>
<circle cx="329.27" cy="421.86" r="1.9" fill="none" stroke="#aaa" stroke-width="0.6"/>
<circle cx="329.27" cy="421.86" r="1.0" fill="#111"/>
<circle cx="337.77" cy="421.86" r="3.4" fill="none" stroke="#000" stroke-width="1.25"/>
<circle cx="337.77" cy="421.86" r="1.9" fill="none" stroke="#aaa" stroke-width="0.6"/>
<circle cx="337.77" cy="421.86" r="1.0" fill="#111"/>
<circle cx="346.26" cy="421.86" r="3.4" fill="none" stroke="#000" stroke-width="1.25"/>
<circle cx="346.26" cy="421.86" r="1.9" fill="none" stroke="#aaa" stroke-width="0.6"/>
<circle cx="346.26" cy="421.86" r="1.0" fill="#111"/>
<circle cx="354.76" cy="421.86" r="3.4" fill="none" stroke="#000" stroke-width="1.25"/>
<circle cx="354.76" cy="421.86" r="1.9" fill="none" stroke="#aaa" stroke-width="0.6"/>
<circle cx="354.76" cy="421.86" r="1.0" fill="#111"/>
<circle cx="363.25" cy="421.86" r="3.4" fill="none" stroke="#000" stroke-width="1.25"/>
<circle cx="363.25" cy="421.86" r="1.9" fill="none" stroke="#aaa" stroke-width="0.6"/>
<circle cx="363.25" cy="421.86" r="1.0" fill="#111"/>
<circle cx="371.75" cy="421.86" r="3.4" fill="none" stroke="#000" stroke-width="1.25"/>
<circle cx="371.75" cy="421.86" r="1.9" fill="none" stroke="#aaa" stroke-width="0.6"/>
<circle cx="371.75" cy="421.86" r="1.0" fill="#111"/>
<circle cx="380.25" cy="421.86" r="3.4" fill="none" stroke="#000" stroke-width="1.25"/>
<circle cx="380.25" cy="421.86" r="1.9" fill="none" stroke="#aaa" stroke-width="0.6"/>
<circle cx="380.25" cy="421.86" r="1.0" fill="#111"/>
<circle cx="388.74" cy="421.86" r="3.4" fill="none" stroke="#000" stroke-width="1.25"/>
<circle cx="388.74" cy="421.86" r="1.9" fill="none" stroke="#aaa" stroke-width="0.6"/>
<circle cx="388.74" cy="421.86" r="1.0" fill="#111"/>
<circle cx="397.24" cy="421.86" r="3.4" fill="none" stroke="#000" stroke-width="1.25"/>
<circle cx="397.24" cy="421.86" r="1.9" fill="none" stroke="#aaa" stroke-width="0.6"/>
<circle cx="397.24" cy="421.86" r="1.0" fill="#111"/>
<circle cx="405.73" cy="421.86" r="3.4" fill="none" stroke="#000" stroke-width="1.25"/>
<circle cx="405.73" cy="421.86" r="1.9" fill="none" stroke="#aaa" stroke-width="0.6"/>
<circle cx="405.73" cy="421.86" r="1.0" fill="#111"/>
<circle cx="414.23" cy="421.86" r="3.4" fill="none" stroke="#000" stroke-width="1.25"/>
<circle cx="414.23" cy="421.86" r="1.9" fill="none" stroke="#aaa" stroke-width="0.6"/>
<circle cx="414.23" cy="421.86" r="1.0" fill="#111"/>
<circle cx="422.72" cy="421.86" r="3.4" fill="none" stroke="#000" stroke-width="1.25"/>
<circle cx="422.72" cy="421.86" r="1.9" fill="none" stroke="#aaa" stroke-width="0.6"/>
<circle cx="422.72" cy="421.86" r="1.0" fill="#111"/>
<circle cx="431.22" cy="421.86" r="3.4" fill="none" stroke="#000" stroke-width="1.25"/>
<circle cx="431.22" cy="421.86" r="1.9" fill="none" stroke="#aaa" stroke-width="0.6"/>
<circle cx="431.22" cy="421.86" r="1.0" fill="#111"/>
<circle cx="439.71" cy="421.86" r="3.4" fill="none" stroke="#000" stroke-width="1.25"/>
<circle cx="439.71" cy="421.86" r="1.9" fill="none" stroke="#aaa" stroke-width="0.6"/>
<circle cx="439.71" cy="421.86" r="1.0" fill="#111"/>
<circle cx="448.20" cy="421.86" r="3.4" fill="none" stroke="#000" stroke-width="1.25"/>
<circle cx="448.20" cy="421.86" r="1.9" fill="none" stroke="#aaa" stroke-width="0.6"/>
<circle cx="448.20" cy="421.86" r="1.0" fill="#111"/>
<circle cx="116.90" cy="430.99" r="3.4" fill="none" stroke="#000" stroke-width="1.25"/>
<circle cx="116.90" cy="430.99" r="1.9" fill="none" stroke="#aaa" stroke-width="0.6"/>
<circle cx="116.90" cy="430.99" r="1.0" fill="#111"/>
<circle cx="125.40" cy="430.99" r="3.4" fill="none" stroke="#000" stroke-width="1.25"/>
<circle cx="125.40" cy="430.99" r="1.9" fill="none" stroke="#aaa" stroke-width="0.6"/>
<circle cx="125.40" cy="430.99" r="1.0" fill="#111"/>
<circle cx="133.89" cy="430.99" r="3.4" fill="none" stroke="#000" stroke-width="1.25"/>
<circle cx="133.89" cy="430.99" r="1.9" fill="none" stroke="#aaa" stroke-width="0.6"/>
<circle cx="133.89" cy="430.99" r="1.0" fill="#111"/>
<circle cx="142.38" cy="430.99" r="3.4" fill="none" stroke="#000" stroke-width="1.25"/>
<circle cx="142.38" cy="430.99" r="1.9" fill="none" stroke="#aaa" stroke-width="0.6"/>
<circle cx="142.38" cy="430.99" r="1.0" fill="#111"/>
<circle cx="150.88" cy="430.99" r="3.4" fill="none" stroke="#000" stroke-width="1.25"/>
<circle cx="150.88" cy="430.99" r="1.9" fill="none" stroke="#aaa" stroke-width="0.6"/>
<circle cx="150.88" cy="430.99" r="1.0" fill="#111"/>
<circle cx="159.38" cy="430.99" r="3.4" fill="none" stroke="#000" stroke-width="1.25"/>
<circle cx="159.38" cy="430.99" r="1.9" fill="none" stroke="#aaa" stroke-width="0.6"/>
<circle cx="159.38" cy="430.99" r="1.0" fill="#111"/>
<circle cx="167.87" cy="430.99" r="3.4" fill="none" stroke="#000" stroke-width="1.25"/>
<circle cx="167.87" cy="430.99" r="1.9" fill="none" stroke="#aaa" stroke-width="0.6"/>
<circle cx="167.87" cy="430.99" r="1.0" fill="#111"/>
<circle cx="176.37" cy="430.99" r="3.4" fill="none" stroke="#000" stroke-width="1.25"/>
<circle cx="176.37" cy="430.99" r="1.9" fill="none" stroke="#aaa" stroke-width="0.6"/>
<circle cx="176.37" cy="430.99" r="1.0" fill="#111"/>
<circle cx="184.86" cy="430.99" r="3.4" fill="none" stroke="#000" stroke-width="1.25"/>
<circle cx="184.86" cy="430.99" r="1.9" fill="none" stroke="#aaa" stroke-width="0.6"/>
<circle cx="184.86" cy="430.99" r="1.0" fill="#111"/>
<circle cx="193.36" cy="430.99" r="3.4" fill="none" stroke="#000" stroke-width="1.25"/>
<circle cx="193.36" cy="430.99" r="1.9" fill="none" stroke="#aaa" stroke-width="0.6"/>
<circle cx="193.36" cy="430.99" r="1.0" fill="#111"/>
<circle cx="201.85" cy="430.99" r="3.4" fill="none" stroke="#000" stroke-width="1.25"/>
<circle cx="201.85" cy="430.99" r="1.9" fill="none" stroke="#aaa" stroke-width="0.6"/>
<circle cx="201.85" cy="430.99" r="1.0" fill="#111"/>
<circle cx="210.34" cy="430.99" r="3.4" fill="none" stroke="#000" stroke-width="1.25"/>
<circle cx="210.34" cy="430.99" r="1.9" fill="none" stroke="#aaa" stroke-width="0.6"/>
<circle cx="210.34" cy="430.99" r="1.0" fill="#111"/>
<circle cx="218.84" cy="430.99" r="3.4" fill="none" stroke="#000" stroke-width="1.25"/>
<circle cx="218.84" cy="430.99" r="1.9" fill="none" stroke="#aaa" stroke-width="0.6"/>
<circle cx="218.84" cy="430.99" r="1.0" fill="#111"/>
<circle cx="227.33" cy="430.99" r="3.4" fill="none" stroke="#000" stroke-width="1.25"/>
<circle cx="227.33" cy="430.99" r="1.9" fill="none" stroke="#aaa" stroke-width="0.6"/>
<circle cx="227.33" cy="430.99" r="1.0" fill="#111"/>
<circle cx="235.83" cy="430.99" r="3.4" fill="none" stroke="#000" stroke-width="1.25"/>
<circle cx="235.83" cy="430.99" r="1.9" fill="none" stroke="#aaa" stroke-width="0.6"/>
<circle cx="235.83" cy="430.99" r="1.0" fill="#111"/>
<circle cx="244.32" cy="430.99" r="3.4" fill="none" stroke="#000" stroke-width="1.25"/>
<circle cx="244.32" cy="430.99" r="1.9" fill="none" stroke="#aaa" stroke-width="0.6"/>
<circle cx="244.32" cy="430.99" r="1.0" fill="#111"/>
<circle cx="252.82" cy="430.99" r="3.4" fill="none" stroke="#000" stroke-width="1.25"/>
<circle cx="252.82" cy="430.99" r="1.9" fill="none" stroke="#aaa" stroke-width="0.6"/>
<circle cx="252.82" cy="430.99" r="1.0" fill="#111"/>
<circle cx="261.31" cy="430.99" r="3.4" fill="none" stroke="#000" stroke-width="1.25"/>
<circle cx="261.31" cy="430.99" r="1.9" fill="none" stroke="#aaa" stroke-width="0.6"/>
<circle cx="261.31" cy="430.99" r="1.0" fill="#111"/>
<circle cx="269.81" cy="430.99" r="3.4" fill="none" stroke="#000" stroke-width="1.25"/>
<circle cx="269.81" cy="430.99" r="1.9" fill="none" stroke="#aaa" stroke-width="0.6"/>
<circle cx="269.81" cy="430.99" r="1.0" fill="#111"/>
<circle cx="278.30" cy="430.99" r="3.4" fill="none" stroke="#000" stroke-width="1.25"/>
<circle cx="278.30" cy="430.99" r="1.9" fill="none" stroke="#aaa" stroke-width="0.6"/>
<circle cx="278.30" cy="430.99" r="1.0" fill="#111"/>
<circle cx="286.80" cy="430.99" r="3.4" fill="none" stroke="#000" stroke-width="1.25"/>
<circle cx="286.80" cy="430.99" r="1.9" fill="none" stroke="#aaa" stroke-width="0.6"/>
<circle cx="286.80" cy="430.99" r="1.0" fill="#111"/>
<circle cx="295.29" cy="430.99" r="3.4" fill="none" stroke="#000" stroke-width="1.25"/>
<circle cx="295.29" cy="430.99" r="1.9" fill="none" stroke="#aaa" stroke-width="0.6"/>
<circle cx="295.29" cy="430.99" r="1.0" fill="#111"/>
<circle cx="303.79" cy="430.99" r="3.4" fill="none" stroke="#000" stroke-width="1.25"/>
<circle cx="303.79" cy="430.99" r="1.9" fill="none" stroke="#aaa" stroke-width="0.6"/>
<circle cx="303.79" cy="430.99" r="1.0" fill="#111"/>
<circle cx="312.28" cy="430.99" r="3.4" fill="none" stroke="#000" stroke-width="1.25"/>
<circle cx="312.28" cy="430.99" r="1.9" fill="none" stroke="#aaa" stroke-width="0.6"/>
<circle cx="312.28" cy="430.99" r="1.0" fill="#111"/>
<circle cx="320.78" cy="430.99" r="3.4" fill="none" stroke="#000" stroke-width="1.25"/>
<circle cx="320.78" cy="430.99" r="1.9" fill="none" stroke="#aaa" stroke-width="0.6"/>
<circle cx="320.78" cy="430.99" r="1.0" fill="#111"/>
<circle cx="329.27" cy="430.99" r="3.4" fill="none" stroke="#000" stroke-width="1.25"/>
<circle cx="329.27" cy="430.99" r="1.9" fill="none" stroke="#aaa" stroke-width="0.6"/>
<circle cx="329.27" cy="430.99" r="1.0" fill="#111"/>
<circle cx="337.77" cy="430.99" r="3.4" fill="none" stroke="#000" stroke-width="1.25"/>
<circle cx="337.77" cy="430.99" r="1.9" fill="none" stroke="#aaa" stroke-width="0.6"/>
<circle cx="337.77" cy="430.99" r="1.0" fill="#111"/>
<circle cx="346.26" cy="430.99" r="3.4" fill="none" stroke="#000" stroke-width="1.25"/>
<circle cx="346.26" cy="430.99" r="1.9" fill="none" stroke="#aaa" stroke-width="0.6"/>
<circle cx="346.26" cy="430.99" r="1.0" fill="#111"/>
<circle cx="354.76" cy="430.99" r="3.4" fill="none" stroke="#000" stroke-width="1.25"/>
<circle cx="354.76" cy="430.99" r="1.9" fill="none" stroke="#aaa" stroke-width="0.6"/>
<circle cx="354.76" cy="430.99" r="1.0" fill="#111"/>
<circle cx="363.25" cy="430.99" r="3.4" fill="none" stroke="#000" stroke-width="1.25"/>
<circle cx="363.25" cy="430.99" r="1.9" fill="none" stroke="#aaa" stroke-width="0.6"/>
<circle cx="363.25" cy="430.99" r="1.0" fill="#111"/>
<circle cx="371.75" cy="430.99" r="3.4" fill="none" stroke="#000" stroke-width="1.25"/>
<circle cx="371.75" cy="430.99" r="1.9" fill="none" stroke="#aaa" stroke-width="0.6"/>
<circle cx="371.75" cy="430.99" r="1.0" fill="#111"/>
<circle cx="380.25" cy="430.99" r="3.4" fill="none" stroke="#000" stroke-width="1.25"/>
<circle cx="380.25" cy="430.99" r="1.9" fill="none" stroke="#aaa" stroke-width="0.6"/>
<circle cx="380.25" cy="430.99" r="1.0" fill="#111"/>
<circle cx="388.74" cy="430.99" r="3.4" fill="none" stroke="#000" stroke-width="1.25"/>
<circle cx="388.74" cy="430.99" r="1.9" fill="none" stroke="#aaa" stroke-width="0.6"/>
<circle cx="388.74" cy="430.99" r="1.0" fill="#111"/>
<circle cx="397.24" cy="430.99" r="3.4" fill="none" stroke="#000" stroke-width="1.25"/>
<circle cx="397.24" cy="430.99" r="1.9" fill="none" stroke="#aaa" stroke-width="0.6"/>
<circle cx="397.24" cy="430.99" r="1.0" fill="#111"/>
<circle cx="405.73" cy="430.99" r="3.4" fill="none" stroke="#000" stroke-width="1.25"/>
<circle cx="405.73" cy="430.99" r="1.9" fill="none" stroke="#aaa" stroke-width="0.6"/>
<circle cx="405.73" cy="430.99" r="1.0" fill="#111"/>
<circle cx="414.23" cy="430.99" r="3.4" fill="none" stroke="#000" stroke-width="1.25"/>
<circle cx="414.23" cy="430.99" r="1.9" fill="none" stroke="#aaa" stroke-width="0.6"/>
<circle cx="414.23" cy="430.99" r="1.0" fill="#111"/>
<circle cx="422.72" cy="430.99" r="3.4" fill="none" stroke="#000" stroke-width="1.25"/>
<circle cx="422.72" cy="430.99" r="1.9" fill="none" stroke="#aaa" stroke-width="0.6"/>
<circle cx="422.72" cy="430.99" r="1.0" fill="#111"/>
<circle cx="431.22" cy="430.99" r="3.4" fill="none" stroke="#000" stroke-width="1.25"/>
<circle cx="431.22" cy="430.99" r="1.9" fill="none" stroke="#aaa" stroke-width="0.6"/>
<circle cx="431.22" cy="430.99" r="1.0" fill="#111"/>
<circle cx="439.71" cy="430.99" r="3.4" fill="none" stroke="#000" stroke-width="1.25"/>
<circle cx="439.71" cy="430.99" r="1.9" fill="none" stroke="#aaa" stroke-width="0.6"/>
<circle cx="439.71" cy="430.99" r="1.0" fill="#111"/>
<circle cx="448.20" cy="430.99" r="3.4" fill="none" stroke="#000" stroke-width="1.25"/>
<circle cx="448.20" cy="430.99" r="1.9" fill="none" stroke="#aaa" stroke-width="0.6"/>
<circle cx="448.20" cy="430.99" r="1.0" fill="#111"/>
<circle cx="116.90" cy="440.12" r="3.4" fill="none" stroke="#000" stroke-width="1.25"/>
<circle cx="116.90" cy="440.12" r="1.9" fill="none" stroke="#aaa" stroke-width="0.6"/>
<circle cx="116.90" cy="440.12" r="1.0" fill="#111"/>
<circle cx="125.40" cy="440.12" r="3.4" fill="none" stroke="#000" stroke-width="1.25"/>
<circle cx="125.40" cy="440.12" r="1.9" fill="none" stroke="#aaa" stroke-width="0.6"/>
<circle cx="125.40" cy="440.12" r="1.0" fill="#111"/>
<circle cx="133.89" cy="440.12" r="3.4" fill="none" stroke="#000" stroke-width="1.25"/>
<circle cx="133.89" cy="440.12" r="1.9" fill="none" stroke="#aaa" stroke-width="0.6"/>
<circle cx="133.89" cy="440.12" r="1.0" fill="#111"/>
<circle cx="142.38" cy="440.12" r="3.4" fill="none" stroke="#000" stroke-width="1.25"/>
<circle cx="142.38" cy="440.12" r="1.9" fill="none" stroke="#aaa" stroke-width="0.6"/>
<circle cx="142.38" cy="440.12" r="1.0" fill="#111"/>
<circle cx="150.88" cy="440.12" r="3.4" fill="none" stroke="#000" stroke-width="1.25"/>
<circle cx="150.88" cy="440.12" r="1.9" fill="none" stroke="#aaa" stroke-width="0.6"/>
<circle cx="150.88" cy="440.12" r="1.0" fill="#111"/>
<circle cx="159.38" cy="440.12" r="3.4" fill="none" stroke="#000" stroke-width="1.25"/>
<circle cx="159.38" cy="440.12" r="1.9" fill="none" stroke="#aaa" stroke-width="0.6"/>
<circle cx="159.38" cy="440.12" r="1.0" fill="#111"/>
<circle cx="167.87" cy="440.12" r="3.4" fill="none" stroke="#000" stroke-width="1.25"/>
<circle cx="167.87" cy="440.12" r="1.9" fill="none" stroke="#aaa" stroke-width="0.6"/>
<circle cx="167.87" cy="440.12" r="1.0" fill="#111"/>
<circle cx="176.37" cy="440.12" r="3.4" fill="none" stroke="#000" stroke-width="1.25"/>
<circle cx="176.37" cy="440.12" r="1.9" fill="none" stroke="#aaa" stroke-width="0.6"/>
<circle cx="176.37" cy="440.12" r="1.0" fill="#111"/>
<circle cx="184.86" cy="440.12" r="3.4" fill="none" stroke="#000" stroke-width="1.25"/>
<circle cx="184.86" cy="440.12" r="1.9" fill="none" stroke="#aaa" stroke-width="0.6"/>
<circle cx="184.86" cy="440.12" r="1.0" fill="#111"/>
<circle cx="193.36" cy="440.12" r="3.4" fill="none" stroke="#000" stroke-width="1.25"/>
<circle cx="193.36" cy="440.12" r="1.9" fill="none" stroke="#aaa" stroke-width="0.6"/>
<circle cx="193.36" cy="440.12" r="1.0" fill="#111"/>
<circle cx="201.85" cy="440.12" r="3.4" fill="none" stroke="#000" stroke-width="1.25"/>
<circle cx="201.85" cy="440.12" r="1.9" fill="none" stroke="#aaa" stroke-width="0.6"/>
<circle cx="201.85" cy="440.12" r="1.0" fill="#111"/>
<circle cx="210.34" cy="440.12" r="3.4" fill="none" stroke="#000" stroke-width="1.25"/>
<circle cx="210.34" cy="440.12" r="1.9" fill="none" stroke="#aaa" stroke-width="0.6"/>
<circle cx="210.34" cy="440.12" r="1.0" fill="#111"/>
<circle cx="218.84" cy="440.12" r="3.4" fill="none" stroke="#000" stroke-width="1.25"/>
<circle cx="218.84" cy="440.12" r="1.9" fill="none" stroke="#aaa" stroke-width="0.6"/>
<circle cx="218.84" cy="440.12" r="1.0" fill="#111"/>
<circle cx="227.33" cy="440.12" r="3.4" fill="none" stroke="#000" stroke-width="1.25"/>
<circle cx="227.33" cy="440.12" r="1.9" fill="none" stroke="#aaa" stroke-width="0.6"/>
<circle cx="227.33" cy="440.12" r="1.0" fill="#111"/>
<circle cx="235.83" cy="440.12" r="3.4" fill="none" stroke="#000" stroke-width="1.25"/>
<circle cx="235.83" cy="440.12" r="1.9" fill="none" stroke="#aaa" stroke-width="0.6"/>
<circle cx="235.83" cy="440.12" r="1.0" fill="#111"/>
<circle cx="244.32" cy="440.12" r="3.4" fill="none" stroke="#000" stroke-width="1.25"/>
<circle cx="244.32" cy="440.12" r="1.9" fill="none" stroke="#aaa" stroke-width="0.6"/>
<circle cx="244.32" cy="440.12" r="1.0" fill="#111"/>
<circle cx="252.82" cy="440.12" r="3.4" fill="none" stroke="#000" stroke-width="1.25"/>
<circle cx="252.82" cy="440.12" r="1.9" fill="none" stroke="#aaa" stroke-width="0.6"/>
<circle cx="252.82" cy="440.12" r="1.0" fill="#111"/>
<circle cx="261.31" cy="440.12" r="3.4" fill="none" stroke="#000" stroke-width="1.25"/>
<circle cx="261.31" cy="440.12" r="1.9" fill="none" stroke="#aaa" stroke-width="0.6"/>
<circle cx="261.31" cy="440.12" r="1.0" fill="#111"/>
<circle cx="269.81" cy="440.12" r="3.4" fill="none" stroke="#000" stroke-width="1.25"/>
<circle cx="269.81" cy="440.12" r="1.9" fill="none" stroke="#aaa" stroke-width="0.6"/>
<circle cx="269.81" cy="440.12" r="1.0" fill="#111"/>
<circle cx="278.30" cy="440.12" r="3.4" fill="none" stroke="#000" stroke-width="1.25"/>
<circle cx="278.30" cy="440.12" r="1.9" fill="none" stroke="#aaa" stroke-width="0.6"/>
<circle cx="278.30" cy="440.12" r="1.0" fill="#111"/>
<circle cx="286.80" cy="440.12" r="3.4" fill="none" stroke="#000" stroke-width="1.25"/>
<circle cx="286.80" cy="440.12" r="1.9" fill="none" stroke="#aaa" stroke-width="0.6"/>
<circle cx="286.80" cy="440.12" r="1.0" fill="#111"/>
<circle cx="295.29" cy="440.12" r="3.4" fill="none" stroke="#000" stroke-width="1.25"/>
<circle cx="295.29" cy="440.12" r="1.9" fill="none" stroke="#aaa" stroke-width="0.6"/>
<circle cx="295.29" cy="440.12" r="1.0" fill="#111"/>
<circle cx="303.79" cy="440.12" r="3.4" fill="none" stroke="#000" stroke-width="1.25"/>
<circle cx="303.79" cy="440.12" r="1.9" fill="none" stroke="#aaa" stroke-width="0.6"/>
<circle cx="303.79" cy="440.12" r="1.0" fill="#111"/>
<circle cx="312.28" cy="440.12" r="3.4" fill="none" stroke="#000" stroke-width="1.25"/>
<circle cx="312.28" cy="440.12" r="1.9" fill="none" stroke="#aaa" stroke-width="0.6"/>
<circle cx="312.28" cy="440.12" r="1.0" fill="#111"/>
<circle cx="320.78" cy="440.12" r="3.4" fill="none" stroke="#000" stroke-width="1.25"/>
<circle cx="320.78" cy="440.12" r="1.9" fill="none" stroke="#aaa" stroke-width="0.6"/>
<circle cx="320.78" cy="440.12" r="1.0" fill="#111"/>
<circle cx="329.27" cy="440.12" r="3.4" fill="none" stroke="#000" stroke-width="1.25"/>
<circle cx="329.27" cy="440.12" r="1.9" fill="none" stroke="#aaa" stroke-width="0.6"/>
<circle cx="329.27" cy="440.12" r="1.0" fill="#111"/>
<circle cx="337.77" cy="440.12" r="3.4" fill="none" stroke="#000" stroke-width="1.25"/>
<circle cx="337.77" cy="440.12" r="1.9" fill="none" stroke="#aaa" stroke-width="0.6"/>
<circle cx="337.77" cy="440.12" r="1.0" fill="#111"/>
<circle cx="346.26" cy="440.12" r="3.4" fill="none" stroke="#000" stroke-width="1.25"/>
<circle cx="346.26" cy="440.12" r="1.9" fill="none" stroke="#aaa" stroke-width="0.6"/>
<circle cx="346.26" cy="440.12" r="1.0" fill="#111"/>
<circle cx="354.76" cy="440.12" r="3.4" fill="none" stroke="#000" stroke-width="1.25"/>
<circle cx="354.76" cy="440.12" r="1.9" fill="none" stroke="#aaa" stroke-width="0.6"/>
<circle cx="354.76" cy="440.12" r="1.0" fill="#111"/>
<circle cx="363.25" cy="440.12" r="3.4" fill="none" stroke="#000" stroke-width="1.25"/>
<circle cx="363.25" cy="440.12" r="1.9" fill="none" stroke="#aaa" stroke-width="0.6"/>
<circle cx="363.25" cy="440.12" r="1.0" fill="#111"/>
<circle cx="371.75" cy="440.12" r="3.4" fill="none" stroke="#000" stroke-width="1.25"/>
<circle cx="371.75" cy="440.12" r="1.9" fill="none" stroke="#aaa" stroke-width="0.6"/>
<circle cx="371.75" cy="440.12" r="1.0" fill="#111"/>
<circle cx="380.25" cy="440.12" r="3.4" fill="none" stroke="#000" stroke-width="1.25"/>
<circle cx="380.25" cy="440.12" r="1.9" fill="none" stroke="#aaa" stroke-width="0.6"/>
<circle cx="380.25" cy="440.12" r="1.0" fill="#111"/>
<circle cx="388.74" cy="440.12" r="3.4" fill="none" stroke="#000" stroke-width="1.25"/>
<circle cx="388.74" cy="440.12" r="1.9" fill="none" stroke="#aaa" stroke-width="0.6"/>
<circle cx="388.74" cy="440.12" r="1.0" fill="#111"/>
<circle cx="397.24" cy="440.12" r="3.4" fill="none" stroke="#000" stroke-width="1.25"/>
<circle cx="397.24" cy="440.12" r="1.9" fill="none" stroke="#aaa" stroke-width="0.6"/>
<circle cx="397.24" cy="440.12" r="1.0" fill="#111"/>
<circle cx="405.73" cy="440.12" r="3.4" fill="none" stroke="#000" stroke-width="1.25"/>
<circle cx="405.73" cy="440.12" r="1.9" fill="none" stroke="#aaa" stroke-width="0.6"/>
<circle cx="405.73" cy="440.12" r="1.0" fill="#111"/>
<circle cx="414.23" cy="440.12" r="3.4" fill="none" stroke="#000" stroke-width="1.25"/>
<circle cx="414.23" cy="440.12" r="1.9" fill="none" stroke="#aaa" stroke-width="0.6"/>
<circle cx="414.23" cy="440.12" r="1.0" fill="#111"/>
<circle cx="422.72" cy="440.12" r="3.4" fill="none" stroke="#000" stroke-width="1.25"/>
<circle cx="422.72" cy="440.12" r="1.9" fill="none" stroke="#aaa" stroke-width="0.6"/>
<circle cx="422.72" cy="440.12" r="1.0" fill="#111"/>
<circle cx="431.22" cy="440.12" r="3.4" fill="none" stroke="#000" stroke-width="1.25"/>
<circle cx="431.22" cy="440.12" r="1.9" fill="none" stroke="#aaa" stroke-width="0.6"/>
<circle cx="431.22" cy="440.12" r="1.0" fill="#111"/>
<circle cx="439.71" cy="440.12" r="3.4" fill="none" stroke="#000" stroke-width="1.25"/>
<circle cx="439.71" cy="440.12" r="1.9" fill="none" stroke="#aaa" stroke-width="0.6"/>
<circle cx="439.71" cy="440.12" r="1.0" fill="#111"/>
<circle cx="448.20" cy="440.12" r="3.4" fill="none" stroke="#000" stroke-width="1.25"/>
<circle cx="448.20" cy="440.12" r="1.9" fill="none" stroke="#aaa" stroke-width="0.6"/>
<circle cx="448.20" cy="440.12" r="1.0" fill="#111"/>
<circle cx="116.90" cy="449.25" r="3.4" fill="none" stroke="#000" stroke-width="1.8"/>
<circle cx="116.90" cy="449.25" r="1.9" fill="none" stroke="#aaa" stroke-width="0.6"/>
<circle cx="116.90" cy="449.25" r="1.0" fill="#111"/>
<circle cx="125.40" cy="449.25" r="3.4" fill="none" stroke="#000" stroke-width="1.8"/>
<circle cx="125.40" cy="449.25" r="1.9" fill="none" stroke="#aaa" stroke-width="0.6"/>
<circle cx="125.40" cy="449.25" r="1.0" fill="#111"/>
<circle cx="133.89" cy="449.25" r="3.4" fill="none" stroke="#000" stroke-width="1.8"/>
<circle cx="133.89" cy="449.25" r="1.9" fill="none" stroke="#aaa" stroke-width="0.6"/>
<circle cx="133.89" cy="449.25" r="1.0" fill="#111"/>
<circle cx="142.38" cy="449.25" r="3.4" fill="none" stroke="#000" stroke-width="1.8"/>
<circle cx="142.38" cy="449.25" r="1.9" fill="none" stroke="#aaa" stroke-width="0.6"/>
<circle cx="142.38" cy="449.25" r="1.0" fill="#111"/>
<circle cx="150.88" cy="449.25" r="3.4" fill="none" stroke="#000" stroke-width="1.8"/>
<circle cx="150.88" cy="449.25" r="1.9" fill="none" stroke="#aaa" stroke-width="0.6"/>
<circle cx="150.88" cy="449.25" r="1.0" fill="#111"/>
<circle cx="159.38" cy="449.25" r="3.4" fill="none" stroke="#000" stroke-width="1.8"/>
<circle cx="159.38" cy="449.25" r="1.9" fill="none" stroke="#aaa" stroke-width="0.6"/>
<circle cx="159.38" cy="449.25" r="1.0" fill="#111"/>
<circle cx="167.87" cy="449.25" r="3.4" fill="none" stroke="#000" stroke-width="1.8"/>
<circle cx="167.87" cy="449.25" r="1.9" fill="none" stroke="#aaa" stroke-width="0.6"/>
<circle cx="167.87" cy="449.25" r="1.0" fill="#111"/>
<circle cx="176.37" cy="449.25" r="3.4" fill="none" stroke="#000" stroke-width="1.8"/>
<circle cx="176.37" cy="449.25" r="1.9" fill="none" stroke="#aaa" stroke-width="0.6"/>
<circle cx="176.37" cy="449.25" r="1.0" fill="#111"/>
<circle cx="184.86" cy="449.25" r="3.4" fill="none" stroke="#000" stroke-width="1.8"/>
<circle cx="184.86" cy="449.25" r="1.9" fill="none" stroke="#aaa" stroke-width="0.6"/>
<circle cx="184.86" cy="449.25" r="1.0" fill="#111"/>
<circle cx="193.36" cy="449.25" r="3.4" fill="none" stroke="#000" stroke-width="1.8"/>
<circle cx="193.36" cy="449.25" r="1.9" fill="none" stroke="#aaa" stroke-width="0.6"/>
<circle cx="193.36" cy="449.25" r="1.0" fill="#111"/>
<circle cx="201.85" cy="449.25" r="3.4" fill="none" stroke="#000" stroke-width="1.8"/>
<circle cx="201.85" cy="449.25" r="1.9" fill="none" stroke="#aaa" stroke-width="0.6"/>
<circle cx="201.85" cy="449.25" r="1.0" fill="#111"/>
<circle cx="210.34" cy="449.25" r="3.4" fill="none" stroke="#000" stroke-width="1.8"/>
<circle cx="210.34" cy="449.25" r="1.9" fill="none" stroke="#aaa" stroke-width="0.6"/>
<circle cx="210.34" cy="449.25" r="1.0" fill="#111"/>
<circle cx="218.84" cy="449.25" r="3.4" fill="none" stroke="#000" stroke-width="1.8"/>
<circle cx="218.84" cy="449.25" r="1.9" fill="none" stroke="#aaa" stroke-width="0.6"/>
<circle cx="218.84" cy="449.25" r="1.0" fill="#111"/>
<circle cx="227.33" cy="449.25" r="3.4" fill="none" stroke="#000" stroke-width="1.8"/>
<circle cx="227.33" cy="449.25" r="1.9" fill="none" stroke="#aaa" stroke-width="0.6"/>
<circle cx="227.33" cy="449.25" r="1.0" fill="#111"/>
<circle cx="235.83" cy="449.25" r="3.4" fill="none" stroke="#000" stroke-width="1.8"/>
<circle cx="235.83" cy="449.25" r="1.9" fill="none" stroke="#aaa" stroke-width="0.6"/>
<circle cx="235.83" cy="449.25" r="1.0" fill="#111"/>
<circle cx="244.32" cy="449.25" r="3.4" fill="none" stroke="#000" stroke-width="1.8"/>
<circle cx="244.32" cy="449.25" r="1.9" fill="none" stroke="#aaa" stroke-width="0.6"/>
<circle cx="244.32" cy="449.25" r="1.0" fill="#111"/>
<circle cx="252.82" cy="449.25" r="3.4" fill="none" stroke="#000" stroke-width="1.8"/>
<circle cx="252.82" cy="449.25" r="1.9" fill="none" stroke="#aaa" stroke-width="0.6"/>
<circle cx="252.82" cy="449.25" r="1.0" fill="#111"/>
<circle cx="261.31" cy="449.25" r="3.4" fill="none" stroke="#000" stroke-width="1.8"/>
<circle cx="261.31" cy="449.25" r="1.9" fill="none" stroke="#aaa" stroke-width="0.6"/>
<circle cx="261.31" cy="449.25" r="1.0" fill="#111"/>
<circle cx="269.81" cy="449.25" r="3.4" fill="none" stroke="#000" stroke-width="1.8"/>
<circle cx="269.81" cy="449.25" r="1.9" fill="none" stroke="#aaa" stroke-width="0.6"/>
<circle cx="269.81" cy="449.25" r="1.0" fill="#111"/>
<circle cx="278.30" cy="449.25" r="3.4" fill="none" stroke="#000" stroke-width="1.8"/>
<circle cx="278.30" cy="449.25" r="1.9" fill="none" stroke="#aaa" stroke-width="0.6"/>
<circle cx="278.30" cy="449.25" r="1.0" fill="#111"/>
<circle cx="286.80" cy="449.25" r="3.4" fill="none" stroke="#000" stroke-width="1.8"/>
<circle cx="286.80" cy="449.25" r="1.9" fill="none" stroke="#aaa" stroke-width="0.6"/>
<circle cx="286.80" cy="449.25" r="1.0" fill="#111"/>
<circle cx="295.29" cy="449.25" r="3.4" fill="none" stroke="#000" stroke-width="1.8"/>
<circle cx="295.29" cy="449.25" r="1.9" fill="none" stroke="#aaa" stroke-width="0.6"/>
<circle cx="295.29" cy="449.25" r="1.0" fill="#111"/>
<circle cx="303.79" cy="449.25" r="3.4" fill="none" stroke="#000" stroke-width="1.8"/>
<circle cx="303.79" cy="449.25" r="1.9" fill="none" stroke="#aaa" stroke-width="0.6"/>
<circle cx="303.79" cy="449.25" r="1.0" fill="#111"/>
<circle cx="312.28" cy="449.25" r="3.4" fill="none" stroke="#000" stroke-width="1.8"/>
<circle cx="312.28" cy="449.25" r="1.9" fill="none" stroke="#aaa" stroke-width="0.6"/>
<circle cx="312.28" cy="449.25" r="1.0" fill="#111"/>
<circle cx="320.78" cy="449.25" r="3.4" fill="none" stroke="#000" stroke-width="1.8"/>
<circle cx="320.78" cy="449.25" r="1.9" fill="none" stroke="#aaa" stroke-width="0.6"/>
<circle cx="320.78" cy="449.25" r="1.0" fill="#111"/>
<circle cx="329.27" cy="449.25" r="3.4" fill="none" stroke="#000" stroke-width="1.8"/>
<circle cx="329.27" cy="449.25" r="1.9" fill="none" stroke="#aaa" stroke-width="0.6"/>
<circle cx="329.27" cy="449.25" r="1.0" fill="#111"/>
<circle cx="337.77" cy="449.25" r="3.4" fill="none" stroke="#000" stroke-width="1.8"/>
<circle cx="337.77" cy="449.25" r="1.9" fill="none" stroke="#aaa" stroke-width="0.6"/>
<circle cx="337.77" cy="449.25" r="1.0" fill="#111"/>
<circle cx="346.26" cy="449.25" r="3.4" fill="none" stroke="#000" stroke-width="1.8"/>
<circle cx="346.26" cy="449.25" r="1.9" fill="none" stroke="#aaa" stroke-width="0.6"/>
<circle cx="346.26" cy="449.25" r="1.0" fill="#111"/>
<circle cx="354.76" cy="449.25" r="3.4" fill="none" stroke="#000" stroke-width="1.8"/>
<circle cx="354.76" cy="449.25" r="1.9" fill="none" stroke="#aaa" stroke-width="0.6"/>
<circle cx="354.76" cy="449.25" r="1.0" fill="#111"/>
<circle cx="363.25" cy="449.25" r="3.4" fill="none" stroke="#000" stroke-width="1.8"/>
<circle cx="363.25" cy="449.25" r="1.9" fill="none" stroke="#aaa" stroke-width="0.6"/>
<circle cx="363.25" cy="449.25" r="1.0" fill="#111"/>
<circle cx="371.75" cy="449.25" r="3.4" fill="none" stroke="#000" stroke-width="1.8"/>
<circle cx="371.75" cy="449.25" r="1.9" fill="none" stroke="#aaa" stroke-width="0.6"/>
<circle cx="371.75" cy="449.25" r="1.0" fill="#111"/>
<circle cx="380.25" cy="449.25" r="3.4" fill="none" stroke="#000" stroke-width="1.8"/>
<circle cx="380.25" cy="449.25" r="1.9" fill="none" stroke="#aaa" stroke-width="0.6"/>
<circle cx="380.25" cy="449.25" r="1.0" fill="#111"/>
<circle cx="388.74" cy="449.25" r="3.4" fill="none" stroke="#000" stroke-width="1.8"/>
<circle cx="388.74" cy="449.25" r="1.9" fill="none" stroke="#aaa" stroke-width="0.6"/>
<circle cx="388.74" cy="449.25" r="1.0" fill="#111"/>
<circle cx="397.24" cy="449.25" r="3.4" fill="none" stroke="#000" stroke-width="1.8"/>
<circle cx="397.24" cy="449.25" r="1.9" fill="none" stroke="#aaa" stroke-width="0.6"/>
<circle cx="397.24" cy="449.25" r="1.0" fill="#111"/>
<circle cx="405.73" cy="449.25" r="3.4" fill="none" stroke="#000" stroke-width="1.8"/>
<circle cx="405.73" cy="449.25" r="1.9" fill="none" stroke="#aaa" stroke-width="0.6"/>
<circle cx="405.73" cy="449.25" r="1.0" fill="#111"/>
<circle cx="414.23" cy="449.25" r="3.4" fill="none" stroke="#000" stroke-width="1.8"/>
<circle cx="414.23" cy="449.25" r="1.9" fill="none" stroke="#aaa" stroke-width="0.6"/>
<circle cx="414.23" cy="449.25" r="1.0" fill="#111"/>
<circle cx="422.72" cy="449.25" r="3.4" fill="none" stroke="#000" stroke-width="1.8"/>
<circle cx="422.72" cy="449.25" r="1.9" fill="none" stroke="#aaa" stroke-width="0.6"/>
<circle cx="422.72" cy="449.25" r="1.0" fill="#111"/>
<circle cx="431.22" cy="449.25" r="3.4" fill="none" stroke="#000" stroke-width="1.8"/>
<circle cx="431.22" cy="449.25" r="1.9" fill="none" stroke="#aaa" stroke-width="0.6"/>
<circle cx="431.22" cy="449.25" r="1.0" fill="#111"/>
<circle cx="439.71" cy="449.25" r="3.4" fill="none" stroke="#000" stroke-width="1.8"/>
<circle cx="439.71" cy="449.25" r="1.9" fill="none" stroke="#aaa" stroke-width="0.6"/>
<circle cx="439.71" cy="449.25" r="1.0" fill="#111"/>
<circle cx="448.20" cy="449.25" r="3.4" fill="none" stroke="#000" stroke-width="1.8"/>
<circle cx="448.20" cy="449.25" r="1.9" fill="none" stroke="#aaa" stroke-width="0.6"/>
<circle cx="448.20" cy="449.25" r="1.0" fill="#111"/>
<circle cx="116.90" cy="458.38" r="3.4" fill="none" stroke="#000" stroke-width="1.25"/>
<circle cx="116.90" cy="458.38" r="1.9" fill="none" stroke="#aaa" stroke-width="0.6"/>
<circle cx="116.90" cy="458.38" r="1.0" fill="#111"/>
<circle cx="125.40" cy="458.38" r="3.4" fill="none" stroke="#000" stroke-width="1.25"/>
<circle cx="125.40" cy="458.38" r="1.9" fill="none" stroke="#aaa" stroke-width="0.6"/>
<circle cx="125.40" cy="458.38" r="1.0" fill="#111"/>
<circle cx="133.89" cy="458.38" r="3.4" fill="none" stroke="#000" stroke-width="1.25"/>
<circle cx="133.89" cy="458.38" r="1.9" fill="none" stroke="#aaa" stroke-width="0.6"/>
<circle cx="133.89" cy="458.38" r="1.0" fill="#111"/>
<circle cx="142.38" cy="458.38" r="3.4" fill="none" stroke="#000" stroke-width="1.25"/>
<circle cx="142.38" cy="458.38" r="1.9" fill="none" stroke="#aaa" stroke-width="0.6"/>
<circle cx="142.38" cy="458.38" r="1.0" fill="#111"/>
<circle cx="150.88" cy="458.38" r="3.4" fill="none" stroke="#000" stroke-width="1.25"/>
<circle cx="150.88" cy="458.38" r="1.9" fill="none" stroke="#aaa" stroke-width="0.6"/>
<circle cx="150.88" cy="458.38" r="1.0" fill="#111"/>
<circle cx="159.38" cy="458.38" r="3.4" fill="none" stroke="#000" stroke-width="1.25"/>
<circle cx="159.38" cy="458.38" r="1.9" fill="none" stroke="#aaa" stroke-width="0.6"/>
<circle cx="159.38" cy="458.38" r="1.0" fill="#111"/>
<circle cx="167.87" cy="458.38" r="3.4" fill="none" stroke="#000" stroke-width="1.25"/>
<circle cx="167.87" cy="458.38" r="1.9" fill="none" stroke="#aaa" stroke-width="0.6"/>
<circle cx="167.87" cy="458.38" r="1.0" fill="#111"/>
<circle cx="176.37" cy="458.38" r="3.4" fill="none" stroke="#000" stroke-width="1.25"/>
<circle cx="176.37" cy="458.38" r="1.9" fill="none" stroke="#aaa" stroke-width="0.6"/>
<circle cx="176.37" cy="458.38" r="1.0" fill="#111"/>
<circle cx="184.86" cy="458.38" r="3.4" fill="none" stroke="#000" stroke-width="1.25"/>
<circle cx="184.86" cy="458.38" r="1.9" fill="none" stroke="#aaa" stroke-width="0.6"/>
<circle cx="184.86" cy="458.38" r="1.0" fill="#111"/>
<circle cx="193.36" cy="458.38" r="3.4" fill="none" stroke="#000" stroke-width="1.25"/>
<circle cx="193.36" cy="458.38" r="1.9" fill="none" stroke="#aaa" stroke-width="0.6"/>
<circle cx="193.36" cy="458.38" r="1.0" fill="#111"/>
<circle cx="201.85" cy="458.38" r="3.4" fill="none" stroke="#000" stroke-width="1.25"/>
<circle cx="201.85" cy="458.38" r="1.9" fill="none" stroke="#aaa" stroke-width="0.6"/>
<circle cx="201.85" cy="458.38" r="1.0" fill="#111"/>
<circle cx="210.34" cy="458.38" r="3.4" fill="none" stroke="#000" stroke-width="1.25"/>
<circle cx="210.34" cy="458.38" r="1.9" fill="none" stroke="#aaa" stroke-width="0.6"/>
<circle cx="210.34" cy="458.38" r="1.0" fill="#111"/>
<circle cx="218.84" cy="458.38" r="3.4" fill="none" stroke="#000" stroke-width="1.25"/>
<circle cx="218.84" cy="458.38" r="1.9" fill="none" stroke="#aaa" stroke-width="0.6"/>
<circle cx="218.84" cy="458.38" r="1.0" fill="#111"/>
<circle cx="227.33" cy="458.38" r="3.4" fill="none" stroke="#000" stroke-width="1.25"/>
<circle cx="227.33" cy="458.38" r="1.9" fill="none" stroke="#aaa" stroke-width="0.6"/>
<circle cx="227.33" cy="458.38" r="1.0" fill="#111"/>
<circle cx="235.83" cy="458.38" r="3.4" fill="none" stroke="#000" stroke-width="1.25"/>
<circle cx="235.83" cy="458.38" r="1.9" fill="none" stroke="#aaa" stroke-width="0.6"/>
<circle cx="235.83" cy="458.38" r="1.0" fill="#111"/>
<circle cx="244.32" cy="458.38" r="3.4" fill="none" stroke="#000" stroke-width="1.25"/>
<circle cx="244.32" cy="458.38" r="1.9" fill="none" stroke="#aaa" stroke-width="0.6"/>
<circle cx="244.32" cy="458.38" r="1.0" fill="#111"/>
<circle cx="252.82" cy="458.38" r="3.4" fill="none" stroke="#000" stroke-width="1.25"/>
<circle cx="252.82" cy="458.38" r="1.9" fill="none" stroke="#aaa" stroke-width="0.6"/>
<circle cx="252.82" cy="458.38" r="1.0" fill="#111"/>
<circle cx="261.31" cy="458.38" r="3.4" fill="none" stroke="#000" stroke-width="1.25"/>
<circle cx="261.31" cy="458.38" r="1.9" fill="none" stroke="#aaa" stroke-width="0.6"/>
<circle cx="261.31" cy="458.38" r="1.0" fill="#111"/>
<circle cx="269.81" cy="458.38" r="3.4" fill="none" stroke="#000" stroke-width="1.25"/>
<circle cx="269.81" cy="458.38" r="1.9" fill="none" stroke="#aaa" stroke-width="0.6"/>
<circle cx="269.81" cy="458.38" r="1.0" fill="#111"/>
<circle cx="278.30" cy="458.38" r="3.4" fill="none" stroke="#000" stroke-width="1.25"/>
<circle cx="278.30" cy="458.38" r="1.9" fill="none" stroke="#aaa" stroke-width="0.6"/>
<circle cx="278.30" cy="458.38" r="1.0" fill="#111"/>
<circle cx="286.80" cy="458.38" r="3.4" fill="none" stroke="#000" stroke-width="1.25"/>
<circle cx="286.80" cy="458.38" r="1.9" fill="none" stroke="#aaa" stroke-width="0.6"/>
<circle cx="286.80" cy="458.38" r="1.0" fill="#111"/>
<circle cx="295.29" cy="458.38" r="3.4" fill="none" stroke="#000" stroke-width="1.25"/>
<circle cx="295.29" cy="458.38" r="1.9" fill="none" stroke="#aaa" stroke-width="0.6"/>
<circle cx="295.29" cy="458.38" r="1.0" fill="#111"/>
<circle cx="303.79" cy="458.38" r="3.4" fill="none" stroke="#000" stroke-width="1.25"/>
<circle cx="303.79" cy="458.38" r="1.9" fill="none" stroke="#aaa" stroke-width="0.6"/>
<circle cx="303.79" cy="458.38" r="1.0" fill="#111"/>
<circle cx="312.28" cy="458.38" r="3.4" fill="none" stroke="#000" stroke-width="1.25"/>
<circle cx="312.28" cy="458.38" r="1.9" fill="none" stroke="#aaa" stroke-width="0.6"/>
<circle cx="312.28" cy="458.38" r="1.0" fill="#111"/>
<circle cx="320.78" cy="458.38" r="3.4" fill="none" stroke="#000" stroke-width="1.25"/>
<circle cx="320.78" cy="458.38" r="1.9" fill="none" stroke="#aaa" stroke-width="0.6"/>
<circle cx="320.78" cy="458.38" r="1.0" fill="#111"/>
<circle cx="329.27" cy="458.38" r="3.4" fill="none" stroke="#000" stroke-width="1.25"/>
<circle cx="329.27" cy="458.38" r="1.9" fill="none" stroke="#aaa" stroke-width="0.6"/>
<circle cx="329.27" cy="458.38" r="1.0" fill="#111"/>
<circle cx="337.77" cy="458.38" r="3.4" fill="none" stroke="#000" stroke-width="1.25"/>
<circle cx="337.77" cy="458.38" r="1.9" fill="none" stroke="#aaa" stroke-width="0.6"/>
<circle cx="337.77" cy="458.38" r="1.0" fill="#111"/>
<circle cx="346.26" cy="458.38" r="3.4" fill="none" stroke="#000" stroke-width="1.25"/>
<circle cx="346.26" cy="458.38" r="1.9" fill="none" stroke="#aaa" stroke-width="0.6"/>
<circle cx="346.26" cy="458.38" r="1.0" fill="#111"/>
<circle cx="354.76" cy="458.38" r="3.4" fill="none" stroke="#000" stroke-width="1.25"/>
<circle cx="354.76" cy="458.38" r="1.9" fill="none" stroke="#aaa" stroke-width="0.6"/>
<circle cx="354.76" cy="458.38" r="1.0" fill="#111"/>
<circle cx="363.25" cy="458.38" r="3.4" fill="none" stroke="#000" stroke-width="1.25"/>
<circle cx="363.25" cy="458.38" r="1.9" fill="none" stroke="#aaa" stroke-width="0.6"/>
<circle cx="363.25" cy="458.38" r="1.0" fill="#111"/>
<circle cx="371.75" cy="458.38" r="3.4" fill="none" stroke="#000" stroke-width="1.25"/>
<circle cx="371.75" cy="458.38" r="1.9" fill="none" stroke="#aaa" stroke-width="0.6"/>
<circle cx="371.75" cy="458.38" r="1.0" fill="#111"/>
<circle cx="380.25" cy="458.38" r="3.4" fill="none" stroke="#000" stroke-width="1.25"/>
<circle cx="380.25" cy="458.38" r="1.9" fill="none" stroke="#aaa" stroke-width="0.6"/>
<circle cx="380.25" cy="458.38" r="1.0" fill="#111"/>
<circle cx="388.74" cy="458.38" r="3.4" fill="none" stroke="#000" stroke-width="1.25"/>
<circle cx="388.74" cy="458.38" r="1.9" fill="none" stroke="#aaa" stroke-width="0.6"/>
<circle cx="388.74" cy="458.38" r="1.0" fill="#111"/>
<circle cx="397.24" cy="458.38" r="3.4" fill="none" stroke="#000" stroke-width="1.25"/>
<circle cx="397.24" cy="458.38" r="1.9" fill="none" stroke="#aaa" stroke-width="0.6"/>
<circle cx="397.24" cy="458.38" r="1.0" fill="#111"/>
<circle cx="405.73" cy="458.38" r="3.4" fill="none" stroke="#000" stroke-width="1.25"/>
<circle cx="405.73" cy="458.38" r="1.9" fill="none" stroke="#aaa" stroke-width="0.6"/>
<circle cx="405.73" cy="458.38" r="1.0" fill="#111"/>
<circle cx="414.23" cy="458.38" r="3.4" fill="none" stroke="#000" stroke-width="1.25"/>
<circle cx="414.23" cy="458.38" r="1.9" fill="none" stroke="#aaa" stroke-width="0.6"/>
<circle cx="414.23" cy="458.38" r="1.0" fill="#111"/>
<circle cx="422.72" cy="458.38" r="3.4" fill="none" stroke="#000" stroke-width="1.25"/>
<circle cx="422.72" cy="458.38" r="1.9" fill="none" stroke="#aaa" stroke-width="0.6"/>
<circle cx="422.72" cy="458.38" r="1.0" fill="#111"/>
<circle cx="431.22" cy="458.38" r="3.4" fill="none" stroke="#000" stroke-width="1.25"/>
<circle cx="431.22" cy="458.38" r="1.9" fill="none" stroke="#aaa" stroke-width="0.6"/>
<circle cx="431.22" cy="458.38" r="1.0" fill="#111"/>
<circle cx="439.71" cy="458.38" r="3.4" fill="none" stroke="#000" stroke-width="1.25"/>
<circle cx="439.71" cy="458.38" r="1.9" fill="none" stroke="#aaa" stroke-width="0.6"/>
<circle cx="439.71" cy="458.38" r="1.0" fill="#111"/>
<circle cx="448.20" cy="458.38" r="3.4" fill="none" stroke="#000" stroke-width="1.25"/>
<circle cx="448.20" cy="458.38" r="1.9" fill="none" stroke="#aaa" stroke-width="0.6"/>
<circle cx="448.20" cy="458.38" r="1.0" fill="#111"/>
<circle cx="116.90" cy="467.51" r="3.4" fill="none" stroke="#000" stroke-width="1.25"/>
<circle cx="116.90" cy="467.51" r="1.9" fill="none" stroke="#aaa" stroke-width="0.6"/>
<circle cx="116.90" cy="467.51" r="1.0" fill="#111"/>
<circle cx="125.40" cy="467.51" r="3.4" fill="none" stroke="#000" stroke-width="1.25"/>
<circle cx="125.40" cy="467.51" r="1.9" fill="none" stroke="#aaa" stroke-width="0.6"/>
<circle cx="125.40" cy="467.51" r="1.0" fill="#111"/>
<circle cx="133.89" cy="467.51" r="3.4" fill="none" stroke="#000" stroke-width="1.25"/>
<circle cx="133.89" cy="467.51" r="1.9" fill="none" stroke="#aaa" stroke-width="0.6"/>
<circle cx="133.89" cy="467.51" r="1.0" fill="#111"/>
<circle cx="142.38" cy="467.51" r="3.4" fill="none" stroke="#000" stroke-width="1.25"/>
<circle cx="142.38" cy="467.51" r="1.9" fill="none" stroke="#aaa" stroke-width="0.6"/>
<circle cx="142.38" cy="467.51" r="1.0" fill="#111"/>
<circle cx="150.88" cy="467.51" r="3.4" fill="none" stroke="#000" stroke-width="1.25"/>
<circle cx="150.88" cy="467.51" r="1.9" fill="none" stroke="#aaa" stroke-width="0.6"/>
<circle cx="150.88" cy="467.51" r="1.0" fill="#111"/>
<circle cx="159.38" cy="467.51" r="3.4" fill="none" stroke="#000" stroke-width="1.25"/>
<circle cx="159.38" cy="467.51" r="1.9" fill="none" stroke="#aaa" stroke-width="0.6"/>
<circle cx="159.38" cy="467.51" r="1.0" fill="#111"/>
<circle cx="167.87" cy="467.51" r="3.4" fill="none" stroke="#000" stroke-width="1.25"/>
<circle cx="167.87" cy="467.51" r="1.9" fill="none" stroke="#aaa" stroke-width="0.6"/>
<circle cx="167.87" cy="467.51" r="1.0" fill="#111"/>
<circle cx="176.37" cy="467.51" r="3.4" fill="none" stroke="#000" stroke-width="1.25"/>
<circle cx="176.37" cy="467.51" r="1.9" fill="none" stroke="#aaa" stroke-width="0.6"/>
<circle cx="176.37" cy="467.51" r="1.0" fill="#111"/>
<circle cx="184.86" cy="467.51" r="3.4" fill="none" stroke="#000" stroke-width="1.25"/>
<circle cx="184.86" cy="467.51" r="1.9" fill="none" stroke="#aaa" stroke-width="0.6"/>
<circle cx="184.86" cy="467.51" r="1.0" fill="#111"/>
<circle cx="193.36" cy="467.51" r="3.4" fill="none" stroke="#000" stroke-width="1.25"/>
<circle cx="193.36" cy="467.51" r="1.9" fill="none" stroke="#aaa" stroke-width="0.6"/>
<circle cx="193.36" cy="467.51" r="1.0" fill="#111"/>
<circle cx="201.85" cy="467.51" r="3.4" fill="none" stroke="#000" stroke-width="1.25"/>
<circle cx="201.85" cy="467.51" r="1.9" fill="none" stroke="#aaa" stroke-width="0.6"/>
<circle cx="201.85" cy="467.51" r="1.0" fill="#111"/>
<circle cx="210.34" cy="467.51" r="3.4" fill="none" stroke="#000" stroke-width="1.25"/>
<circle cx="210.34" cy="467.51" r="1.9" fill="none" stroke="#aaa" stroke-width="0.6"/>
<circle cx="210.34" cy="467.51" r="1.0" fill="#111"/>
<circle cx="218.84" cy="467.51" r="3.4" fill="none" stroke="#000" stroke-width="1.25"/>
<circle cx="218.84" cy="467.51" r="1.9" fill="none" stroke="#aaa" stroke-width="0.6"/>
<circle cx="218.84" cy="467.51" r="1.0" fill="#111"/>
<circle cx="227.33" cy="467.51" r="3.4" fill="none" stroke="#000" stroke-width="1.25"/>
<circle cx="227.33" cy="467.51" r="1.9" fill="none" stroke="#aaa" stroke-width="0.6"/>
<circle cx="227.33" cy="467.51" r="1.0" fill="#111"/>
<circle cx="235.83" cy="467.51" r="3.4" fill="none" stroke="#000" stroke-width="1.25"/>
<circle cx="235.83" cy="467.51" r="1.9" fill="none" stroke="#aaa" stroke-width="0.6"/>
<circle cx="235.83" cy="467.51" r="1.0" fill="#111"/>
<circle cx="244.32" cy="467.51" r="3.4" fill="none" stroke="#000" stroke-width="1.25"/>
<circle cx="244.32" cy="467.51" r="1.9" fill="none" stroke="#aaa" stroke-width="0.6"/>
<circle cx="244.32" cy="467.51" r="1.0" fill="#111"/>
<circle cx="252.82" cy="467.51" r="3.4" fill="none" stroke="#000" stroke-width="1.25"/>
<circle cx="252.82" cy="467.51" r="1.9" fill="none" stroke="#aaa" stroke-width="0.6"/>
<circle cx="252.82" cy="467.51" r="1.0" fill="#111"/>
<circle cx="261.31" cy="467.51" r="3.4" fill="none" stroke="#000" stroke-width="1.25"/>
<circle cx="261.31" cy="467.51" r="1.9" fill="none" stroke="#aaa" stroke-width="0.6"/>
<circle cx="261.31" cy="467.51" r="1.0" fill="#111"/>
<circle cx="269.81" cy="467.51" r="3.4" fill="none" stroke="#000" stroke-width="1.25"/>
<circle cx="269.81" cy="467.51" r="1.9" fill="none" stroke="#aaa" stroke-width="0.6"/>
<circle cx="269.81" cy="467.51" r="1.0" fill="#111"/>
<circle cx="278.30" cy="467.51" r="3.4" fill="none" stroke="#000" stroke-width="1.25"/>
<circle cx="278.30" cy="467.51" r="1.9" fill="none" stroke="#aaa" stroke-width="0.6"/>
<circle cx="278.30" cy="467.51" r="1.0" fill="#111"/>
<circle cx="286.80" cy="467.51" r="3.4" fill="none" stroke="#000" stroke-width="1.25"/>
<circle cx="286.80" cy="467.51" r="1.9" fill="none" stroke="#aaa" stroke-width="0.6"/>
<circle cx="286.80" cy="467.51" r="1.0" fill="#111"/>
<circle cx="295.29" cy="467.51" r="3.4" fill="none" stroke="#000" stroke-width="1.25"/>
<circle cx="295.29" cy="467.51" r="1.9" fill="none" stroke="#aaa" stroke-width="0.6"/>
<circle cx="295.29" cy="467.51" r="1.0" fill="#111"/>
<circle cx="303.79" cy="467.51" r="3.4" fill="none" stroke="#000" stroke-width="1.25"/>
<circle cx="303.79" cy="467.51" r="1.9" fill="none" stroke="#aaa" stroke-width="0.6"/>
<circle cx="303.79" cy="467.51" r="1.0" fill="#111"/>
<circle cx="312.28" cy="467.51" r="3.4" fill="none" stroke="#000" stroke-width="1.25"/>
<circle cx="312.28" cy="467.51" r="1.9" fill="none" stroke="#aaa" stroke-width="0.6"/>
<circle cx="312.28" cy="467.51" r="1.0" fill="#111"/>
<circle cx="320.78" cy="467.51" r="3.4" fill="none" stroke="#000" stroke-width="1.25"/>
<circle cx="320.78" cy="467.51" r="1.9" fill="none" stroke="#aaa" stroke-width="0.6"/>
<circle cx="320.78" cy="467.51" r="1.0" fill="#111"/>
<circle cx="329.27" cy="467.51" r="3.4" fill="none" stroke="#000" stroke-width="1.25"/>
<circle cx="329.27" cy="467.51" r="1.9" fill="none" stroke="#aaa" stroke-width="0.6"/>
<circle cx="329.27" cy="467.51" r="1.0" fill="#111"/>
<circle cx="337.77" cy="467.51" r="3.4" fill="none" stroke="#000" stroke-width="1.25"/>
<circle cx="337.77" cy="467.51" r="1.9" fill="none" stroke="#aaa" stroke-width="0.6"/>
<circle cx="337.77" cy="467.51" r="1.0" fill="#111"/>
<circle cx="346.26" cy="467.51" r="3.4" fill="none" stroke="#000" stroke-width="1.25"/>
<circle cx="346.26" cy="467.51" r="1.9" fill="none" stroke="#aaa" stroke-width="0.6"/>
<circle cx="346.26" cy="467.51" r="1.0" fill="#111"/>
<circle cx="354.76" cy="467.51" r="3.4" fill="none" stroke="#000" stroke-width="1.25"/>
<circle cx="354.76" cy="467.51" r="1.9" fill="none" stroke="#aaa" stroke-width="0.6"/>
<circle cx="354.76" cy="467.51" r="1.0" fill="#111"/>
<circle cx="363.25" cy="467.51" r="3.4" fill="none" stroke="#000" stroke-width="1.25"/>
<circle cx="363.25" cy="467.51" r="1.9" fill="none" stroke="#aaa" stroke-width="0.6"/>
<circle cx="363.25" cy="467.51" r="1.0" fill="#111"/>
<circle cx="371.75" cy="467.51" r="3.4" fill="none" stroke="#000" stroke-width="1.25"/>
<circle cx="371.75" cy="467.51" r="1.9" fill="none" stroke="#aaa" stroke-width="0.6"/>
<circle cx="371.75" cy="467.51" r="1.0" fill="#111"/>
<circle cx="380.25" cy="467.51" r="3.4" fill="none" stroke="#000" stroke-width="1.25"/>
<circle cx="380.25" cy="467.51" r="1.9" fill="none" stroke="#aaa" stroke-width="0.6"/>
<circle cx="380.25" cy="467.51" r="1.0" fill="#111"/>
<circle cx="388.74" cy="467.51" r="3.4" fill="none" stroke="#000" stroke-width="1.25"/>
<circle cx="388.74" cy="467.51" r="1.9" fill="none" stroke="#aaa" stroke-width="0.6"/>
<circle cx="388.74" cy="467.51" r="1.0" fill="#111"/>
<circle cx="397.24" cy="467.51" r="3.4" fill="none" stroke="#000" stroke-width="1.25"/>
<circle cx="397.24" cy="467.51" r="1.9" fill="none" stroke="#aaa" stroke-width="0.6"/>
<circle cx="397.24" cy="467.51" r="1.0" fill="#111"/>
<circle cx="405.73" cy="467.51" r="3.4" fill="none" stroke="#000" stroke-width="1.25"/>
<circle cx="405.73" cy="467.51" r="1.9" fill="none" stroke="#aaa" stroke-width="0.6"/>
<circle cx="405.73" cy="467.51" r="1.0" fill="#111"/>
<circle cx="414.23" cy="467.51" r="3.4" fill="none" stroke="#000" stroke-width="1.25"/>
<circle cx="414.23" cy="467.51" r="1.9" fill="none" stroke="#aaa" stroke-width="0.6"/>
<circle cx="414.23" cy="467.51" r="1.0" fill="#111"/>
<circle cx="422.72" cy="467.51" r="3.4" fill="none" stroke="#000" stroke-width="1.25"/>
<circle cx="422.72" cy="467.51" r="1.9" fill="none" stroke="#aaa" stroke-width="0.6"/>
<circle cx="422.72" cy="467.51" r="1.0" fill="#111"/>
<circle cx="431.22" cy="467.51" r="3.4" fill="none" stroke="#000" stroke-width="1.25"/>
<circle cx="431.22" cy="467.51" r="1.9" fill="none" stroke="#aaa" stroke-width="0.6"/>
<circle cx="431.22" cy="467.51" r="1.0" fill="#111"/>
<circle cx="439.71" cy="467.51" r="3.4" fill="none" stroke="#000" stroke-width="1.25"/>
<circle cx="439.71" cy="467.51" r="1.9" fill="none" stroke="#aaa" stroke-width="0.6"/>
<circle cx="439.71" cy="467.51" r="1.0" fill="#111"/>
<circle cx="448.20" cy="467.51" r="3.4" fill="none" stroke="#000" stroke-width="1.25"/>
<circle cx="448.20" cy="467.51" r="1.9" fill="none" stroke="#aaa" stroke-width="0.6"/>
<circle cx="448.20" cy="467.51" r="1.0" fill="#111"/>
<circle cx="116.90" cy="476.64" r="3.4" fill="none" stroke="#000" stroke-width="1.25"/>
<circle cx="116.90" cy="476.64" r="1.9" fill="none" stroke="#aaa" stroke-width="0.6"/>
<circle cx="116.90" cy="476.64" r="1.0" fill="#111"/>
<circle cx="125.40" cy="476.64" r="3.4" fill="none" stroke="#000" stroke-width="1.25"/>
<circle cx="125.40" cy="476.64" r="1.9" fill="none" stroke="#aaa" stroke-width="0.6"/>
<circle cx="125.40" cy="476.64" r="1.0" fill="#111"/>
<circle cx="133.89" cy="476.64" r="3.4" fill="none" stroke="#000" stroke-width="1.25"/>
<circle cx="133.89" cy="476.64" r="1.9" fill="none" stroke="#aaa" stroke-width="0.6"/>
<circle cx="133.89" cy="476.64" r="1.0" fill="#111"/>
<circle cx="142.38" cy="476.64" r="3.4" fill="none" stroke="#000" stroke-width="1.25"/>
<circle cx="142.38" cy="476.64" r="1.9" fill="none" stroke="#aaa" stroke-width="0.6"/>
<circle cx="142.38" cy="476.64" r="1.0" fill="#111"/>
<circle cx="150.88" cy="476.64" r="3.4" fill="none" stroke="#000" stroke-width="1.25"/>
<circle cx="150.88" cy="476.64" r="1.9" fill="none" stroke="#aaa" stroke-width="0.6"/>
<circle cx="150.88" cy="476.64" r="1.0" fill="#111"/>
<circle cx="159.38" cy="476.64" r="3.4" fill="none" stroke="#000" stroke-width="1.25"/>
<circle cx="159.38" cy="476.64" r="1.9" fill="none" stroke="#aaa" stroke-width="0.6"/>
<circle cx="159.38" cy="476.64" r="1.0" fill="#111"/>
<circle cx="167.87" cy="476.64" r="3.4" fill="none" stroke="#000" stroke-width="1.25"/>
<circle cx="167.87" cy="476.64" r="1.9" fill="none" stroke="#aaa" stroke-width="0.6"/>
<circle cx="167.87" cy="476.64" r="1.0" fill="#111"/>
<circle cx="176.37" cy="476.64" r="3.4" fill="none" stroke="#000" stroke-width="1.25"/>
<circle cx="176.37" cy="476.64" r="1.9" fill="none" stroke="#aaa" stroke-width="0.6"/>
<circle cx="176.37" cy="476.64" r="1.0" fill="#111"/>
<circle cx="184.86" cy="476.64" r="3.4" fill="none" stroke="#000" stroke-width="1.25"/>
<circle cx="184.86" cy="476.64" r="1.9" fill="none" stroke="#aaa" stroke-width="0.6"/>
<circle cx="184.86" cy="476.64" r="1.0" fill="#111"/>
<circle cx="193.36" cy="476.64" r="3.4" fill="none" stroke="#000" stroke-width="1.25"/>
<circle cx="193.36" cy="476.64" r="1.9" fill="none" stroke="#aaa" stroke-width="0.6"/>
<circle cx="193.36" cy="476.64" r="1.0" fill="#111"/>
<circle cx="201.85" cy="476.64" r="3.4" fill="none" stroke="#000" stroke-width="1.25"/>
<circle cx="201.85" cy="476.64" r="1.9" fill="none" stroke="#aaa" stroke-width="0.6"/>
<circle cx="201.85" cy="476.64" r="1.0" fill="#111"/>
<circle cx="210.34" cy="476.64" r="3.4" fill="none" stroke="#000" stroke-width="1.25"/>
<circle cx="210.34" cy="476.64" r="1.9" fill="none" stroke="#aaa" stroke-width="0.6"/>
<circle cx="210.34" cy="476.64" r="1.0" fill="#111"/>
<circle cx="218.84" cy="476.64" r="3.4" fill="none" stroke="#000" stroke-width="1.25"/>
<circle cx="218.84" cy="476.64" r="1.9" fill="none" stroke="#aaa" stroke-width="0.6"/>
<circle cx="218.84" cy="476.64" r="1.0" fill="#111"/>
<circle cx="227.33" cy="476.64" r="3.4" fill="none" stroke="#000" stroke-width="1.25"/>
<circle cx="227.33" cy="476.64" r="1.9" fill="none" stroke="#aaa" stroke-width="0.6"/>
<circle cx="227.33" cy="476.64" r="1.0" fill="#111"/>
<circle cx="235.83" cy="476.64" r="3.4" fill="none" stroke="#000" stroke-width="1.25"/>
<circle cx="235.83" cy="476.64" r="1.9" fill="none" stroke="#aaa" stroke-width="0.6"/>
<circle cx="235.83" cy="476.64" r="1.0" fill="#111"/>
<circle cx="244.32" cy="476.64" r="3.4" fill="none" stroke="#000" stroke-width="1.25"/>
<circle cx="244.32" cy="476.64" r="1.9" fill="none" stroke="#aaa" stroke-width="0.6"/>
<circle cx="244.32" cy="476.64" r="1.0" fill="#111"/>
<circle cx="252.82" cy="476.64" r="3.4" fill="none" stroke="#000" stroke-width="1.25"/>
<circle cx="252.82" cy="476.64" r="1.9" fill="none" stroke="#aaa" stroke-width="0.6"/>
<circle cx="252.82" cy="476.64" r="1.0" fill="#111"/>
<circle cx="261.31" cy="476.64" r="3.4" fill="none" stroke="#000" stroke-width="1.25"/>
<circle cx="261.31" cy="476.64" r="1.9" fill="none" stroke="#aaa" stroke-width="0.6"/>
<circle cx="261.31" cy="476.64" r="1.0" fill="#111"/>
<circle cx="269.81" cy="476.64" r="3.4" fill="none" stroke="#000" stroke-width="1.25"/>
<circle cx="269.81" cy="476.64" r="1.9" fill="none" stroke="#aaa" stroke-width="0.6"/>
<circle cx="269.81" cy="476.64" r="1.0" fill="#111"/>
<circle cx="278.30" cy="476.64" r="3.4" fill="none" stroke="#000" stroke-width="1.25"/>
<circle cx="278.30" cy="476.64" r="1.9" fill="none" stroke="#aaa" stroke-width="0.6"/>
<circle cx="278.30" cy="476.64" r="1.0" fill="#111"/>
<circle cx="286.80" cy="476.64" r="3.4" fill="none" stroke="#000" stroke-width="1.25"/>
<circle cx="286.80" cy="476.64" r="1.9" fill="none" stroke="#aaa" stroke-width="0.6"/>
<circle cx="286.80" cy="476.64" r="1.0" fill="#111"/>
<circle cx="295.29" cy="476.64" r="3.4" fill="none" stroke="#000" stroke-width="1.25"/>
<circle cx="295.29" cy="476.64" r="1.9" fill="none" stroke="#aaa" stroke-width="0.6"/>
<circle cx="295.29" cy="476.64" r="1.0" fill="#111"/>
<circle cx="303.79" cy="476.64" r="3.4" fill="none" stroke="#000" stroke-width="1.25"/>
<circle cx="303.79" cy="476.64" r="1.9" fill="none" stroke="#aaa" stroke-width="0.6"/>
<circle cx="303.79" cy="476.64" r="1.0" fill="#111"/>
<circle cx="312.28" cy="476.64" r="3.4" fill="none" stroke="#000" stroke-width="1.25"/>
<circle cx="312.28" cy="476.64" r="1.9" fill="none" stroke="#aaa" stroke-width="0.6"/>
<circle cx="312.28" cy="476.64" r="1.0" fill="#111"/>
<circle cx="320.78" cy="476.64" r="3.4" fill="none" stroke="#000" stroke-width="1.25"/>
<circle cx="320.78" cy="476.64" r="1.9" fill="none" stroke="#aaa" stroke-width="0.6"/>
<circle cx="320.78" cy="476.64" r="1.0" fill="#111"/>
<circle cx="329.27" cy="476.64" r="3.4" fill="none" stroke="#000" stroke-width="1.25"/>
<circle cx="329.27" cy="476.64" r="1.9" fill="none" stroke="#aaa" stroke-width="0.6"/>
<circle cx="329.27" cy="476.64" r="1.0" fill="#111"/>
<circle cx="337.77" cy="476.64" r="3.4" fill="none" stroke="#000" stroke-width="1.25"/>
<circle cx="337.77" cy="476.64" r="1.9" fill="none" stroke="#aaa" stroke-width="0.6"/>
<circle cx="337.77" cy="476.64" r="1.0" fill="#111"/>
<circle cx="346.26" cy="476.64" r="3.4" fill="none" stroke="#000" stroke-width="1.25"/>
<circle cx="346.26" cy="476.64" r="1.9" fill="none" stroke="#aaa" stroke-width="0.6"/>
<circle cx="346.26" cy="476.64" r="1.0" fill="#111"/>
<circle cx="354.76" cy="476.64" r="3.4" fill="none" stroke="#000" stroke-width="1.25"/>
<circle cx="354.76" cy="476.64" r="1.9" fill="none" stroke="#aaa" stroke-width="0.6"/>
<circle cx="354.76" cy="476.64" r="1.0" fill="#111"/>
<circle cx="363.25" cy="476.64" r="3.4" fill="none" stroke="#000" stroke-width="1.25"/>
<circle cx="363.25" cy="476.64" r="1.9" fill="none" stroke="#aaa" stroke-width="0.6"/>
<circle cx="363.25" cy="476.64" r="1.0" fill="#111"/>
<circle cx="371.75" cy="476.64" r="3.4" fill="none" stroke="#000" stroke-width="1.25"/>
<circle cx="371.75" cy="476.64" r="1.9" fill="none" stroke="#aaa" stroke-width="0.6"/>
<circle cx="371.75" cy="476.64" r="1.0" fill="#111"/>
<circle cx="380.25" cy="476.64" r="3.4" fill="none" stroke="#000" stroke-width="1.25"/>
<circle cx="380.25" cy="476.64" r="1.9" fill="none" stroke="#aaa" stroke-width="0.6"/>
<circle cx="380.25" cy="476.64" r="1.0" fill="#111"/>
<circle cx="388.74" cy="476.64" r="3.4" fill="none" stroke="#000" stroke-width="1.25"/>
<circle cx="388.74" cy="476.64" r="1.9" fill="none" stroke="#aaa" stroke-width="0.6"/>
<circle cx="388.74" cy="476.64" r="1.0" fill="#111"/>
<circle cx="397.24" cy="476.64" r="3.4" fill="none" stroke="#000" stroke-width="1.25"/>
<circle cx="397.24" cy="476.64" r="1.9" fill="none" stroke="#aaa" stroke-width="0.6"/>
<circle cx="397.24" cy="476.64" r="1.0" fill="#111"/>
<circle cx="405.73" cy="476.64" r="3.4" fill="none" stroke="#000" stroke-width="1.25"/>
<circle cx="405.73" cy="476.64" r="1.9" fill="none" stroke="#aaa" stroke-width="0.6"/>
<circle cx="405.73" cy="476.64" r="1.0" fill="#111"/>
<circle cx="414.23" cy="476.64" r="3.4" fill="none" stroke="#000" stroke-width="1.25"/>
<circle cx="414.23" cy="476.64" r="1.9" fill="none" stroke="#aaa" stroke-width="0.6"/>
<circle cx="414.23" cy="476.64" r="1.0" fill="#111"/>
<circle cx="422.72" cy="476.64" r="3.4" fill="none" stroke="#000" stroke-width="1.25"/>
<circle cx="422.72" cy="476.64" r="1.9" fill="none" stroke="#aaa" stroke-width="0.6"/>
<circle cx="422.72" cy="476.64" r="1.0" fill="#111"/>
<circle cx="431.22" cy="476.64" r="3.4" fill="none" stroke="#000" stroke-width="1.25"/>
<circle cx="431.22" cy="476.64" r="1.9" fill="none" stroke="#aaa" stroke-width="0.6"/>
<circle cx="431.22" cy="476.64" r="1.0" fill="#111"/>
<circle cx="439.71" cy="476.64" r="3.4" fill="none" stroke="#000" stroke-width="1.25"/>
<circle cx="439.71" cy="476.64" r="1.9" fill="none" stroke="#aaa" stroke-width="0.6"/>
<circle cx="439.71" cy="476.64" r="1.0" fill="#111"/>
<circle cx="448.20" cy="476.64" r="3.4" fill="none" stroke="#000" stroke-width="1.25"/>
<circle cx="448.20" cy="476.64" r="1.9" fill="none" stroke="#aaa" stroke-width="0.6"/>
<circle cx="448.20" cy="476.64" r="1.0" fill="#111"/>
<circle cx="116.90" cy="485.77" r="3.4" fill="none" stroke="#000" stroke-width="1.25"/>
<circle cx="116.90" cy="485.77" r="1.9" fill="none" stroke="#aaa" stroke-width="0.6"/>
<circle cx="116.90" cy="485.77" r="1.0" fill="#111"/>
<circle cx="125.40" cy="485.77" r="3.4" fill="none" stroke="#000" stroke-width="1.25"/>
<circle cx="125.40" cy="485.77" r="1.9" fill="none" stroke="#aaa" stroke-width="0.6"/>
<circle cx="125.40" cy="485.77" r="1.0" fill="#111"/>
<circle cx="133.89" cy="485.77" r="3.4" fill="none" stroke="#000" stroke-width="1.25"/>
<circle cx="133.89" cy="485.77" r="1.9" fill="none" stroke="#aaa" stroke-width="0.6"/>
<circle cx="133.89" cy="485.77" r="1.0" fill="#111"/>
<circle cx="142.38" cy="485.77" r="3.4" fill="none" stroke="#000" stroke-width="1.25"/>
<circle cx="142.38" cy="485.77" r="1.9" fill="none" stroke="#aaa" stroke-width="0.6"/>
<circle cx="142.38" cy="485.77" r="1.0" fill="#111"/>
<circle cx="150.88" cy="485.77" r="3.4" fill="none" stroke="#000" stroke-width="1.25"/>
<circle cx="150.88" cy="485.77" r="1.9" fill="none" stroke="#aaa" stroke-width="0.6"/>
<circle cx="150.88" cy="485.77" r="1.0" fill="#111"/>
<circle cx="159.38" cy="485.77" r="3.4" fill="none" stroke="#000" stroke-width="1.25"/>
<circle cx="159.38" cy="485.77" r="1.9" fill="none" stroke="#aaa" stroke-width="0.6"/>
<circle cx="159.38" cy="485.77" r="1.0" fill="#111"/>
<circle cx="167.87" cy="485.77" r="3.4" fill="none" stroke="#000" stroke-width="1.25"/>
<circle cx="167.87" cy="485.77" r="1.9" fill="none" stroke="#aaa" stroke-width="0.6"/>
<circle cx="167.87" cy="485.77" r="1.0" fill="#111"/>
<circle cx="176.37" cy="485.77" r="3.4" fill="none" stroke="#000" stroke-width="1.25"/>
<circle cx="176.37" cy="485.77" r="1.9" fill="none" stroke="#aaa" stroke-width="0.6"/>
<circle cx="176.37" cy="485.77" r="1.0" fill="#111"/>
<circle cx="184.86" cy="485.77" r="3.4" fill="none" stroke="#000" stroke-width="1.25"/>
<circle cx="184.86" cy="485.77" r="1.9" fill="none" stroke="#aaa" stroke-width="0.6"/>
<circle cx="184.86" cy="485.77" r="1.0" fill="#111"/>
<circle cx="193.36" cy="485.77" r="3.4" fill="none" stroke="#000" stroke-width="1.25"/>
<circle cx="193.36" cy="485.77" r="1.9" fill="none" stroke="#aaa" stroke-width="0.6"/>
<circle cx="193.36" cy="485.77" r="1.0" fill="#111"/>
<circle cx="201.85" cy="485.77" r="3.4" fill="none" stroke="#000" stroke-width="1.25"/>
<circle cx="201.85" cy="485.77" r="1.9" fill="none" stroke="#aaa" stroke-width="0.6"/>
<circle cx="201.85" cy="485.77" r="1.0" fill="#111"/>
<circle cx="210.34" cy="485.77" r="3.4" fill="none" stroke="#000" stroke-width="1.25"/>
<circle cx="210.34" cy="485.77" r="1.9" fill="none" stroke="#aaa" stroke-width="0.6"/>
<circle cx="210.34" cy="485.77" r="1.0" fill="#111"/>
<circle cx="218.84" cy="485.77" r="3.4" fill="none" stroke="#000" stroke-width="1.25"/>
<circle cx="218.84" cy="485.77" r="1.9" fill="none" stroke="#aaa" stroke-width="0.6"/>
<circle cx="218.84" cy="485.77" r="1.0" fill="#111"/>
<circle cx="227.33" cy="485.77" r="3.4" fill="none" stroke="#000" stroke-width="1.25"/>
<circle cx="227.33" cy="485.77" r="1.9" fill="none" stroke="#aaa" stroke-width="0.6"/>
<circle cx="227.33" cy="485.77" r="1.0" fill="#111"/>
<circle cx="235.83" cy="485.77" r="3.4" fill="none" stroke="#000" stroke-width="1.25"/>
<circle cx="235.83" cy="485.77" r="1.9" fill="none" stroke="#aaa" stroke-width="0.6"/>
<circle cx="235.83" cy="485.77" r="1.0" fill="#111"/>
<circle cx="244.32" cy="485.77" r="3.4" fill="none" stroke="#000" stroke-width="1.25"/>
<circle cx="244.32" cy="485.77" r="1.9" fill="none" stroke="#aaa" stroke-width="0.6"/>
<circle cx="244.32" cy="485.77" r="1.0" fill="#111"/>
<circle cx="252.82" cy="485.77" r="3.4" fill="none" stroke="#000" stroke-width="1.25"/>
<circle cx="252.82" cy="485.77" r="1.9" fill="none" stroke="#aaa" stroke-width="0.6"/>
<circle cx="252.82" cy="485.77" r="1.0" fill="#111"/>
<circle cx="261.31" cy="485.77" r="3.4" fill="none" stroke="#000" stroke-width="1.25"/>
<circle cx="261.31" cy="485.77" r="1.9" fill="none" stroke="#aaa" stroke-width="0.6"/>
<circle cx="261.31" cy="485.77" r="1.0" fill="#111"/>
<circle cx="269.81" cy="485.77" r="3.4" fill="none" stroke="#000" stroke-width="1.25"/>
<circle cx="269.81" cy="485.77" r="1.9" fill="none" stroke="#aaa" stroke-width="0.6"/>
<circle cx="269.81" cy="485.77" r="1.0" fill="#111"/>
<circle cx="278.30" cy="485.77" r="3.4" fill="none" stroke="#000" stroke-width="1.25"/>
<circle cx="278.30" cy="485.77" r="1.9" fill="none" stroke="#aaa" stroke-width="0.6"/>
<circle cx="278.30" cy="485.77" r="1.0" fill="#111"/>
<circle cx="286.80" cy="485.77" r="3.4" fill="none" stroke="#000" stroke-width="1.25"/>
<circle cx="286.80" cy="485.77" r="1.9" fill="none" stroke="#aaa" stroke-width="0.6"/>
<circle cx="286.80" cy="485.77" r="1.0" fill="#111"/>
<circle cx="295.29" cy="485.77" r="3.4" fill="none" stroke="#000" stroke-width="1.25"/>
<circle cx="295.29" cy="485.77" r="1.9" fill="none" stroke="#aaa" stroke-width="0.6"/>
<circle cx="295.29" cy="485.77" r="1.0" fill="#111"/>
<circle cx="303.79" cy="485.77" r="3.4" fill="none" stroke="#000" stroke-width="1.25"/>
<circle cx="303.79" cy="485.77" r="1.9" fill="none" stroke="#aaa" stroke-width="0.6"/>
<circle cx="303.79" cy="485.77" r="1.0" fill="#111"/>
<circle cx="312.28" cy="485.77" r="3.4" fill="none" stroke="#000" stroke-width="1.25"/>
<circle cx="312.28" cy="485.77" r="1.9" fill="none" stroke="#aaa" stroke-width="0.6"/>
<circle cx="312.28" cy="485.77" r="1.0" fill="#111"/>
<circle cx="320.78" cy="485.77" r="3.4" fill="none" stroke="#000" stroke-width="1.25"/>
<circle cx="320.78" cy="485.77" r="1.9" fill="none" stroke="#aaa" stroke-width="0.6"/>
<circle cx="320.78" cy="485.77" r="1.0" fill="#111"/>
<circle cx="329.27" cy="485.77" r="3.4" fill="none" stroke="#000" stroke-width="1.25"/>
<circle cx="329.27" cy="485.77" r="1.9" fill="none" stroke="#aaa" stroke-width="0.6"/>
<circle cx="329.27" cy="485.77" r="1.0" fill="#111"/>
<circle cx="337.77" cy="485.77" r="3.4" fill="none" stroke="#000" stroke-width="1.25"/>
<circle cx="337.77" cy="485.77" r="1.9" fill="none" stroke="#aaa" stroke-width="0.6"/>
<circle cx="337.77" cy="485.77" r="1.0" fill="#111"/>
<circle cx="346.26" cy="485.77" r="3.4" fill="none" stroke="#000" stroke-width="1.25"/>
<circle cx="346.26" cy="485.77" r="1.9" fill="none" stroke="#aaa" stroke-width="0.6"/>
<circle cx="346.26" cy="485.77" r="1.0" fill="#111"/>
<circle cx="354.76" cy="485.77" r="3.4" fill="none" stroke="#000" stroke-width="1.25"/>
<circle cx="354.76" cy="485.77" r="1.9" fill="none" stroke="#aaa" stroke-width="0.6"/>
<circle cx="354.76" cy="485.77" r="1.0" fill="#111"/>
<circle cx="363.25" cy="485.77" r="3.4" fill="none" stroke="#000" stroke-width="1.25"/>
<circle cx="363.25" cy="485.77" r="1.9" fill="none" stroke="#aaa" stroke-width="0.6"/>
<circle cx="363.25" cy="485.77" r="1.0" fill="#111"/>
<circle cx="371.75" cy="485.77" r="3.4" fill="none" stroke="#000" stroke-width="1.25"/>
<circle cx="371.75" cy="485.77" r="1.9" fill="none" stroke="#aaa" stroke-width="0.6"/>
<circle cx="371.75" cy="485.77" r="1.0" fill="#111"/>
<circle cx="380.25" cy="485.77" r="3.4" fill="none" stroke="#000" stroke-width="1.25"/>
<circle cx="380.25" cy="485.77" r="1.9" fill="none" stroke="#aaa" stroke-width="0.6"/>
<circle cx="380.25" cy="485.77" r="1.0" fill="#111"/>
<circle cx="388.74" cy="485.77" r="3.4" fill="none" stroke="#000" stroke-width="1.25"/>
<circle cx="388.74" cy="485.77" r="1.9" fill="none" stroke="#aaa" stroke-width="0.6"/>
<circle cx="388.74" cy="485.77" r="1.0" fill="#111"/>
<circle cx="397.24" cy="485.77" r="3.4" fill="none" stroke="#000" stroke-width="1.25"/>
<circle cx="397.24" cy="485.77" r="1.9" fill="none" stroke="#aaa" stroke-width="0.6"/>
<circle cx="397.24" cy="485.77" r="1.0" fill="#111"/>
<circle cx="405.73" cy="485.77" r="3.4" fill="none" stroke="#000" stroke-width="1.25"/>
<circle cx="405.73" cy="485.77" r="1.9" fill="none" stroke="#aaa" stroke-width="0.6"/>
<circle cx="405.73" cy="485.77" r="1.0" fill="#111"/>
<circle cx="414.23" cy="485.77" r="3.4" fill="none" stroke="#000" stroke-width="1.25"/>
<circle cx="414.23" cy="485.77" r="1.9" fill="none" stroke="#aaa" stroke-width="0.6"/>
<circle cx="414.23" cy="485.77" r="1.0" fill="#111"/>
<circle cx="422.72" cy="485.77" r="3.4" fill="none" stroke="#000" stroke-width="1.25"/>
<circle cx="422.72" cy="485.77" r="1.9" fill="none" stroke="#aaa" stroke-width="0.6"/>
<circle cx="422.72" cy="485.77" r="1.0" fill="#111"/>
<circle cx="431.22" cy="485.77" r="3.4" fill="none" stroke="#000" stroke-width="1.25"/>
<circle cx="431.22" cy="485.77" r="1.9" fill="none" stroke="#aaa" stroke-width="0.6"/>
<circle cx="431.22" cy="485.77" r="1.0" fill="#111"/>
<circle cx="439.71" cy="485.77" r="3.4" fill="none" stroke="#000" stroke-width="1.25"/>
<circle cx="439.71" cy="485.77" r="1.9" fill="none" stroke="#aaa" stroke-width="0.6"/>
<circle cx="439.71" cy="485.77" r="1.0" fill="#111"/>
<circle cx="448.20" cy="485.77" r="3.4" fill="none" stroke="#000" stroke-width="1.25"/>
<circle cx="448.20" cy="485.77" r="1.9" fill="none" stroke="#aaa" stroke-width="0.6"/>
<circle cx="448.20" cy="485.77" r="1.0" fill="#111"/>
<circle cx="128.40" cy="494.90" r="3.4" fill="none" stroke="#000" stroke-width="1.25"/>
<circle cx="128.40" cy="494.90" r="1.9" fill="none" stroke="#aaa" stroke-width="0.6"/>
<circle cx="128.40" cy="494.90" r="1.0" fill="#111"/>
<circle cx="136.97" cy="494.90" r="3.4" fill="none" stroke="#000" stroke-width="1.25"/>
<circle cx="136.97" cy="494.90" r="1.9" fill="none" stroke="#aaa" stroke-width="0.6"/>
<circle cx="136.97" cy="494.90" r="1.0" fill="#111"/>
<circle cx="145.55" cy="494.90" r="3.4" fill="none" stroke="#000" stroke-width="1.25"/>
<circle cx="145.55" cy="494.90" r="1.9" fill="none" stroke="#aaa" stroke-width="0.6"/>
<circle cx="145.55" cy="494.90" r="1.0" fill="#111"/>
<circle cx="154.12" cy="494.90" r="3.4" fill="none" stroke="#000" stroke-width="1.25"/>
<circle cx="154.12" cy="494.90" r="1.9" fill="none" stroke="#aaa" stroke-width="0.6"/>
<circle cx="154.12" cy="494.90" r="1.0" fill="#111"/>
<circle cx="162.70" cy="494.90" r="3.4" fill="none" stroke="#000" stroke-width="1.25"/>
<circle cx="162.70" cy="494.90" r="1.9" fill="none" stroke="#aaa" stroke-width="0.6"/>
<circle cx="162.70" cy="494.90" r="1.0" fill="#111"/>
<circle cx="171.28" cy="494.90" r="3.4" fill="none" stroke="#000" stroke-width="1.25"/>
<circle cx="171.28" cy="494.90" r="1.9" fill="none" stroke="#aaa" stroke-width="0.6"/>
<circle cx="171.28" cy="494.90" r="1.0" fill="#111"/>
<circle cx="179.85" cy="494.90" r="3.4" fill="none" stroke="#000" stroke-width="1.25"/>
<circle cx="179.85" cy="494.90" r="1.9" fill="none" stroke="#aaa" stroke-width="0.6"/>
<circle cx="179.85" cy="494.90" r="1.0" fill="#111"/>
<circle cx="188.43" cy="494.90" r="3.4" fill="none" stroke="#000" stroke-width="1.25"/>
<circle cx="188.43" cy="494.90" r="1.9" fill="none" stroke="#aaa" stroke-width="0.6"/>
<circle cx="188.43" cy="494.90" r="1.0" fill="#111"/>
<circle cx="197.00" cy="494.90" r="3.4" fill="none" stroke="#000" stroke-width="1.25"/>
<circle cx="197.00" cy="494.90" r="1.9" fill="none" stroke="#aaa" stroke-width="0.6"/>
<circle cx="197.00" cy="494.90" r="1.0" fill="#111"/>
<circle cx="205.57" cy="494.90" r="3.4" fill="none" stroke="#000" stroke-width="1.25"/>
<circle cx="205.57" cy="494.90" r="1.9" fill="none" stroke="#aaa" stroke-width="0.6"/>
<circle cx="205.57" cy="494.90" r="1.0" fill="#111"/>
<circle cx="214.15" cy="494.90" r="3.4" fill="none" stroke="#000" stroke-width="1.25"/>
<circle cx="214.15" cy="494.90" r="1.9" fill="none" stroke="#aaa" stroke-width="0.6"/>
<circle cx="214.15" cy="494.90" r="1.0" fill="#111"/>
<circle cx="222.72" cy="494.90" r="3.4" fill="none" stroke="#000" stroke-width="1.25"/>
<circle cx="222.72" cy="494.90" r="1.9" fill="none" stroke="#aaa" stroke-width="0.6"/>
<circle cx="222.72" cy="494.90" r="1.0" fill="#111"/>
<circle cx="231.30" cy="494.90" r="3.4" fill="none" stroke="#000" stroke-width="1.25"/>
<circle cx="231.30" cy="494.90" r="1.9" fill="none" stroke="#aaa" stroke-width="0.6"/>
<circle cx="231.30" cy="494.90" r="1.0" fill="#111"/>
<circle cx="239.88" cy="494.90" r="3.4" fill="none" stroke="#000" stroke-width="1.25"/>
<circle cx="239.88" cy="494.90" r="1.9" fill="none" stroke="#aaa" stroke-width="0.6"/>
<circle cx="239.88" cy="494.90" r="1.0" fill="#111"/>
<circle cx="248.45" cy="494.90" r="3.4" fill="none" stroke="#000" stroke-width="1.25"/>
<circle cx="248.45" cy="494.90" r="1.9" fill="none" stroke="#aaa" stroke-width="0.6"/>
<circle cx="248.45" cy="494.90" r="1.0" fill="#111"/>
<circle cx="257.02" cy="494.90" r="3.4" fill="none" stroke="#000" stroke-width="1.25"/>
<circle cx="257.02" cy="494.90" r="1.9" fill="none" stroke="#aaa" stroke-width="0.6"/>
<circle cx="257.02" cy="494.90" r="1.0" fill="#111"/>
<circle cx="265.60" cy="494.90" r="3.4" fill="none" stroke="#000" stroke-width="1.25"/>
<circle cx="265.60" cy="494.90" r="1.9" fill="none" stroke="#aaa" stroke-width="0.6"/>
<circle cx="265.60" cy="494.90" r="1.0" fill="#111"/>
<circle cx="274.17" cy="494.90" r="3.4" fill="none" stroke="#000" stroke-width="1.25"/>
<circle cx="274.17" cy="494.90" r="1.9" fill="none" stroke="#aaa" stroke-width="0.6"/>
<circle cx="274.17" cy="494.90" r="1.0" fill="#111"/>
<circle cx="282.75" cy="494.90" r="3.4" fill="none" stroke="#000" stroke-width="1.25"/>
<circle cx="282.75" cy="494.90" r="1.9" fill="none" stroke="#aaa" stroke-width="0.6"/>
<circle cx="282.75" cy="494.90" r="1.0" fill="#111"/>
<circle cx="291.32" cy="494.90" r="3.4" fill="none" stroke="#000" stroke-width="1.25"/>
<circle cx="291.32" cy="494.90" r="1.9" fill="none" stroke="#aaa" stroke-width="0.6"/>
<circle cx="291.32" cy="494.90" r="1.0" fill="#111"/>
<circle cx="299.90" cy="494.90" r="3.4" fill="none" stroke="#000" stroke-width="1.25"/>
<circle cx="299.90" cy="494.90" r="1.9" fill="none" stroke="#aaa" stroke-width="0.6"/>
<circle cx="299.90" cy="494.90" r="1.0" fill="#111"/>
<circle cx="308.48" cy="494.90" r="3.4" fill="none" stroke="#000" stroke-width="1.25"/>
<circle cx="308.48" cy="494.90" r="1.9" fill="none" stroke="#aaa" stroke-width="0.6"/>
<circle cx="308.48" cy="494.90" r="1.0" fill="#111"/>
<circle cx="317.05" cy="494.90" r="3.4" fill="none" stroke="#000" stroke-width="1.25"/>
<circle cx="317.05" cy="494.90" r="1.9" fill="none" stroke="#aaa" stroke-width="0.6"/>
<circle cx="317.05" cy="494.90" r="1.0" fill="#111"/>
<circle cx="325.62" cy="494.90" r="3.4" fill="none" stroke="#000" stroke-width="1.25"/>
<circle cx="325.62" cy="494.90" r="1.9" fill="none" stroke="#aaa" stroke-width="0.6"/>
<circle cx="325.62" cy="494.90" r="1.0" fill="#111"/>
<circle cx="334.20" cy="494.90" r="3.4" fill="none" stroke="#000" stroke-width="1.25"/>
<circle cx="334.20" cy="494.90" r="1.9" fill="none" stroke="#aaa" stroke-width="0.6"/>
<circle cx="334.20" cy="494.90" r="1.0" fill="#111"/>
<circle cx="342.77" cy="494.90" r="3.4" fill="none" stroke="#000" stroke-width="1.25"/>
<circle cx="342.77" cy="494.90" r="1.9" fill="none" stroke="#aaa" stroke-width="0.6"/>
<circle cx="342.77" cy="494.90" r="1.0" fill="#111"/>
<circle cx="351.35" cy="494.90" r="3.4" fill="none" stroke="#000" stroke-width="1.25"/>
<circle cx="351.35" cy="494.90" r="1.9" fill="none" stroke="#aaa" stroke-width="0.6"/>
<circle cx="351.35" cy="494.90" r="1.0" fill="#111"/>
<circle cx="359.92" cy="494.90" r="3.4" fill="none" stroke="#000" stroke-width="1.25"/>
<circle cx="359.92" cy="494.90" r="1.9" fill="none" stroke="#aaa" stroke-width="0.6"/>
<circle cx="359.92" cy="494.90" r="1.0" fill="#111"/>
<circle cx="368.50" cy="494.90" r="3.4" fill="none" stroke="#000" stroke-width="1.25"/>
<circle cx="368.50" cy="494.90" r="1.9" fill="none" stroke="#aaa" stroke-width="0.6"/>
<circle cx="368.50" cy="494.90" r="1.0" fill="#111"/>
<circle cx="377.07" cy="494.90" r="3.4" fill="none" stroke="#000" stroke-width="1.25"/>
<circle cx="377.07" cy="494.90" r="1.9" fill="none" stroke="#aaa" stroke-width="0.6"/>
<circle cx="377.07" cy="494.90" r="1.0" fill="#111"/>
<circle cx="385.65" cy="494.90" r="3.4" fill="none" stroke="#000" stroke-width="1.25"/>
<circle cx="385.65" cy="494.90" r="1.9" fill="none" stroke="#aaa" stroke-width="0.6"/>
<circle cx="385.65" cy="494.90" r="1.0" fill="#111"/>
<circle cx="394.23" cy="494.90" r="3.4" fill="none" stroke="#000" stroke-width="1.25"/>
<circle cx="394.23" cy="494.90" r="1.9" fill="none" stroke="#aaa" stroke-width="0.6"/>
<circle cx="394.23" cy="494.90" r="1.0" fill="#111"/>
<circle cx="402.80" cy="494.90" r="3.4" fill="none" stroke="#000" stroke-width="1.25"/>
<circle cx="402.80" cy="494.90" r="1.9" fill="none" stroke="#aaa" stroke-width="0.6"/>
<circle cx="402.80" cy="494.90" r="1.0" fill="#111"/>
<circle cx="411.38" cy="494.90" r="3.4" fill="none" stroke="#000" stroke-width="1.25"/>
<circle cx="411.38" cy="494.90" r="1.9" fill="none" stroke="#aaa" stroke-width="0.6"/>
<circle cx="411.38" cy="494.90" r="1.0" fill="#111"/>
<circle cx="419.95" cy="494.90" r="3.4" fill="none" stroke="#000" stroke-width="1.25"/>
<circle cx="419.95" cy="494.90" r="1.9" fill="none" stroke="#aaa" stroke-width="0.6"/>
<circle cx="419.95" cy="494.90" r="1.0" fill="#111"/>
<circle cx="428.52" cy="494.90" r="3.4" fill="none" stroke="#000" stroke-width="1.25"/>
<circle cx="428.52" cy="494.90" r="1.9" fill="none" stroke="#aaa" stroke-width="0.6"/>
<circle cx="428.52" cy="494.90" r="1.0" fill="#111"/>
<circle cx="437.10" cy="494.90" r="3.4" fill="none" stroke="#000" stroke-width="1.25"/>
<circle cx="437.10" cy="494.90" r="1.9" fill="none" stroke="#aaa" stroke-width="0.6"/>
<circle cx="437.10" cy="494.90" r="1.0" fill="#111"/>
<circle cx="119.80" cy="406.40" r="3.4" fill="none" stroke="#000" stroke-width="1.25"/>
<circle cx="119.80" cy="406.40" r="1.9" fill="none" stroke="#aaa" stroke-width="0.6"/>
<circle cx="119.80" cy="406.40" r="1.0" fill="#111"/>
<circle cx="445.10" cy="406.40" r="3.4" fill="none" stroke="#000" stroke-width="1.25"/>
<circle cx="445.10" cy="406.40" r="1.9" fill="none" stroke="#aaa" stroke-width="0.6"/>
<circle cx="445.10" cy="406.40" r="1.0" fill="#111"/>
<circle cx="119.80" cy="492.10" r="3.4" fill="none" stroke="#000" stroke-width="1.25"/>
<circle cx="119.80" cy="492.10" r="1.9" fill="none" stroke="#aaa" stroke-width="0.6"/>
<circle cx="119.80" cy="492.10" r="1.0" fill="#111"/>
<circle cx="445.10" cy="492.10" r="3.4" fill="none" stroke="#000" stroke-width="1.25"/>
<circle cx="445.10" cy="492.10" r="1.9" fill="none" stroke="#aaa" stroke-width="0.6"/>
<circle cx="445.10" cy="492.10" r="1.0" fill="#111"/>
<line x1="155.70" y1="398.00" x2="155.70" y2="501.00" stroke="#777" stroke-width="0.7"/>
<line x1="282.90" y1="398.00" x2="282.90" y2="501.00" stroke="#777" stroke-width="0.7"/>
<line x1="411.40" y1="398.00" x2="411.40" y2="501.00" stroke="#777" stroke-width="0.7"/>
<line x1="113.00" y1="442.40" x2="452.00" y2="442.40" stroke="#000" stroke-width="2.6"/>
<line x1="113.00" y1="455.40" x2="452.00" y2="455.40" stroke="#000" stroke-width="2.6"/>
<rect x="109.3" y="446.3" width="5.5" height="5.7" fill="#000"/>
<rect x="451" y="446.3" width="5.5" height="5.7" fill="#000"/>
<path d="M141,446 L150.5,445.5 L153.5,449 L150.5,452.5 L141,452 z" fill="#000" opacity="0.75"/>
<path d="M143,449 H150.5" stroke="#fff" stroke-width="0.8" stroke-dasharray="1.5 1.5"/>
<path d="M236,446 L247.5,445.5 L250.5,449 L247.5,452.5 L236,452 z" fill="#000" opacity="0.75"/>
<path d="M238,449 H247.5" stroke="#fff" stroke-width="0.8" stroke-dasharray="1.5 1.5"/>
<path d="M315,446 L326.5,445.5 L329.5,449 L326.5,452.5 L315,452 z" fill="#000" opacity="0.75"/>
<path d="M317,449 H326.5" stroke="#fff" stroke-width="0.8" stroke-dasharray="1.5 1.5"/>
<path d="M411.5,446 L421,445.5 L424,449 L421,452.5 L411.5,452 z" fill="#000" opacity="0.75"/>
<path d="M413.5,449 H421" stroke="#fff" stroke-width="0.8" stroke-dasharray="1.5 1.5"/>
<rect x="115.8" y="445.8" width="12.5" height="6.2" rx="2.5" fill="#fff" stroke="#000" stroke-width="1.1"/>
<path d="M118.8,449 h6.5" stroke="#000" stroke-width="0.8" stroke-dasharray="1 1"/>
<rect x="437" y="445.8" width="12.5" height="6.2" rx="2.5" fill="#fff" stroke="#000" stroke-width="1.1"/>
<path d="M440,449 h6.5" stroke="#000" stroke-width="0.8" stroke-dasharray="1 1"/>
<line x1="104.20" y1="396.00" x2="461.60" y2="396.00" stroke="#111" stroke-width="2"/>
<line x1="104.20" y1="503.00" x2="461.60" y2="503.00" stroke="#111" stroke-width="2"/>
<line x1="109.30" y1="393.00" x2="109.30" y2="505.70" stroke="#111" stroke-width="2"/>
<line x1="456.10" y1="393.00" x2="456.10" y2="505.70" stroke="#111" stroke-width="2"/>
<path d="M109.3,417 A14.7,20.5 0 0 1 124,396" fill="none" stroke="#000" stroke-width="1.5"/>
<path d="M441.4,396 A14.7,20.5 0 0 1 456.1,417" fill="none" stroke="#000" stroke-width="1.5"/>
<path d="M456.1,482 A14.7,20.5 0 0 1 441.4,503" fill="none" stroke="#000" stroke-width="1.5"/>
<path d="M124,503 A14.7,20.5 0 0 1 109.3,482" fill="none" stroke="#000" stroke-width="1.5"/>
<path d="M125.90,396 h5 v3.2 l-1.3,1.8 h-2.4 l-1.3,-1.8 z" fill="#000"/>
<path d="M125.90,503 h5 v-3.2 l-1.3,-1.8 h-2.4 l-1.3,1.8 z" fill="#000"/>
<path d="M156.77,396 h5 v3.2 l-1.3,1.8 h-2.4 l-1.3,-1.8 z" fill="#000"/>
<path d="M156.77,503 h5 v-3.2 l-1.3,-1.8 h-2.4 l-1.3,1.8 z" fill="#000"/>
<path d="M187.64,396 h5 v3.2 l-1.3,1.8 h-2.4 l-1.3,-1.8 z" fill="#000"/>
<path d="M187.64,503 h5 v-3.2 l-1.3,-1.8 h-2.4 l-1.3,1.8 z" fill="#000"/>
<path d="M218.51,396 h5 v3.2 l-1.3,1.8 h-2.4 l-1.3,-1.8 z" fill="#000"/>
<path d="M218.51,503 h5 v-3.2 l-1.3,-1.8 h-2.4 l-1.3,1.8 z" fill="#000"/>
<path d="M249.38,396 h5 v3.2 l-1.3,1.8 h-2.4 l-1.3,-1.8 z" fill="#000"/>
<path d="M249.38,503 h5 v-3.2 l-1.3,-1.8 h-2.4 l-1.3,1.8 z" fill="#000"/>
<path d="M280.25,396 h5 v3.2 l-1.3,1.8 h-2.4 l-1.3,-1.8 z" fill="#000"/>
<path d="M280.25,503 h5 v-3.2 l-1.3,-1.8 h-2.4 l-1.3,1.8 z" fill="#000"/>
<path d="M311.12,396 h5 v3.2 l-1.3,1.8 h-2.4 l-1.3,-1.8 z" fill="#000"/>
<path d="M311.12,503 h5 v-3.2 l-1.3,-1.8 h-2.4 l-1.3,1.8 z" fill="#000"/>
<path d="M341.99,396 h5 v3.2 l-1.3,1.8 h-2.4 l-1.3,-1.8 z" fill="#000"/>
<path d="M341.99,503 h5 v-3.2 l-1.3,-1.8 h-2.4 l-1.3,1.8 z" fill="#000"/>
<path d="M372.86,396 h5 v3.2 l-1.3,1.8 h-2.4 l-1.3,-1.8 z" fill="#000"/>
<path d="M372.86,503 h5 v-3.2 l-1.3,-1.8 h-2.4 l-1.3,1.8 z" fill="#000"/>
<path d="M403.73,396 h5 v3.2 l-1.3,1.8 h-2.4 l-1.3,-1.8 z" fill="#000"/>
<path d="M403.73,503 h5 v-3.2 l-1.3,-1.8 h-2.4 l-1.3,1.8 z" fill="#000"/>
<path d="M434.60,396 h5 v3.2 l-1.3,1.8 h-2.4 l-1.3,-1.8 z" fill="#000"/>
<path d="M434.60,503 h5 v-3.2 l-1.3,-1.8 h-2.4 l-1.3,1.8 z" fill="#000"/>
<path d="M109.3,415.7 v4.6 h3 l1.4,-1 v-2.6 l-1.4,-1 z" fill="#000"/>
<path d="M456.1,415.7 v4.6 h-3 l-1.4,-1 v-2.6 l1.4,-1 z" fill="#000"/>
<path d="M109.3,478.7 v4.6 h3 l1.4,-1 v-2.6 l-1.4,-1 z" fill="#000"/>
<path d="M456.1,478.7 v4.6 h-3 l-1.4,-1 v-2.6 l1.4,-1 z" fill="#000"/>
<rect x="48" y="37" width="1.2" height="1.2" fill="#888"/>
<rect x="745" y="38" width="1.2" height="1.2" fill="#888"/>
<rect x="48" y="523" width="1.2" height="1.2" fill="#888"/>
<rect x="745" y="523" width="1.2" height="1.2" fill="#888"/>
<rect x="119.75" y="320" width="1.3" height="12" fill="#111"/>
<rect x="116.55" y="320" width="1.3" height="12" fill="#111"/>
<path d="M113.30,322.5 L115.80,320.6 H121.80 L124.30,322.5 L121.80,324.6 H115.80 Z M115.80,320.6 L121.80,324.6 M121.80,320.6 L115.80,324.6" fill="none" stroke="#888" stroke-width="0.8"/>
<path d="M113.60,332.3 L116.10,328.6 H121.50 L124.00,332.3 L121.50,336 H116.10 Z M116.10,328.6 L121.50,336 M121.50,328.6 L116.10,336 M113.60,332.3 H124.00" fill="none" stroke="#666" stroke-width="0.9"/>
<rect x="119.75" y="334" width="1.3" height="6.5" fill="#111"/>
<circle cx="120.40" cy="343.30" r="3.5" fill="#eee" stroke="#666" stroke-width="1.0"/>
<path d="M117.78,341.20 L123.03,345.40 M123.03,341.20 L117.78,345.40 M120.40,339.80 V346.80" stroke="#777" stroke-width="0.6"/>
<circle cx="120.40" cy="343.30" r="0.9" fill="#222"/>
<path d="M125.20,320.3 h6.4 l0.2,10 L128.40,336.3 L125.00,330.3 z" fill="#111"/>
<path d="M127.50,322 V331 M129.30,322 V331" stroke="#aaa" stroke-width="0.6"/>
<path d="M133.70,320.3 H140.30 L140.20,331 C140.00,333 138.60,334.5 138.00,336 V340.6 H136.00 V336 C135.40,334.5 134.00,333 133.80,331 z" fill="#000"/>
<rect x="134.90" y="321.6" width="4.2" height="9" fill="#6a6a6a"/>
<path d="M135.70,321.8 V330.5 M138.30,321.8 V330.5" stroke="#eee" stroke-width="0.7"/>
<path d="M137.00,321.8 V330.5" stroke="#333" stroke-width="0.6"/>
<circle cx="137.00" cy="343.30" r="3.3" fill="#eee" stroke="#555" stroke-width="1.05"/>
<path d="M134.53,341.32 L139.47,345.28 M139.47,341.32 L134.53,345.28 M137.00,340.00 V346.60" stroke="#777" stroke-width="0.6"/>
<circle cx="137.00" cy="343.30" r="0.9" fill="#222"/>
<path d="M142.27,320.3 H148.87 L148.77,331 C148.57,333 147.17,334.5 146.57,336 V340.6 H144.57 V336 C143.97,334.5 142.57,333 142.37,331 z" fill="#000"/>
<rect x="143.47" y="321.6" width="4.2" height="9" fill="#6a6a6a"/>
<path d="M144.27,321.8 V330.5 M146.87,321.8 V330.5" stroke="#eee" stroke-width="0.7"/>
<path d="M145.57,321.8 V330.5" stroke="#333" stroke-width="0.6"/>
<circle cx="145.57" cy="343.30" r="3.3" fill="#eee" stroke="#555" stroke-width="1.05"/>
<path d="M143.09,341.32 L148.04,345.28 M148.04,341.32 L143.09,345.28 M145.57,340.00 V346.60" stroke="#777" stroke-width="0.6"/>
<circle cx="145.57" cy="343.30" r="0.9" fill="#222"/>
<path d="M150.84,320.3 H157.44 L157.34,331 C157.14,333 155.74,334.5 155.14,336 V340.6 H153.14 V336 C152.54,334.5 151.14,333 150.94,331 z" fill="#000"/>
<rect x="152.04" y="321.6" width="4.2" height="9" fill="#6a6a6a"/>
<path d="M152.84,321.8 V330.5 M155.44,321.8 V330.5" stroke="#eee" stroke-width="0.7"/>
<path d="M154.14,321.8 V330.5" stroke="#333" stroke-width="0.6"/>
<circle cx="154.14" cy="343.30" r="3.3" fill="#eee" stroke="#555" stroke-width="1.05"/>
<path d="M151.66,341.32 L156.61,345.28 M156.61,341.32 L151.66,345.28 M154.14,340.00 V346.60" stroke="#777" stroke-width="0.6"/>
<circle cx="154.14" cy="343.30" r="0.9" fill="#222"/>
<path d="M159.41,320.3 H166.01 L165.91,331 C165.71,333 164.31,334.5 163.71,336 V340.6 H161.71 V336 C161.11,334.5 159.71,333 159.51,331 z" fill="#000"/>
<rect x="160.61" y="321.6" width="4.2" height="9" fill="#6a6a6a"/>
<path d="M161.41,321.8 V330.5 M164.01,321.8 V330.5" stroke="#eee" stroke-width="0.7"/>
<path d="M162.71,321.8 V330.5" stroke="#333" stroke-width="0.6"/>
<circle cx="162.71" cy="343.30" r="3.3" fill="#eee" stroke="#555" stroke-width="1.05"/>
<path d="M160.24,341.32 L165.19,345.28 M165.19,341.32 L160.24,345.28 M162.71,340.00 V346.60" stroke="#777" stroke-width="0.6"/>
<circle cx="162.71" cy="343.30" r="0.9" fill="#222"/>
<path d="M167.98,320.3 H174.58 L174.48,331 C174.28,333 172.88,334.5 172.28,336 V340.6 H170.28 V336 C169.68,334.5 168.28,333 168.08,331 z" fill="#000"/>
<rect x="169.18" y="321.6" width="4.2" height="9" fill="#6a6a6a"/>
<path d="M169.98,321.8 V330.5 M172.58,321.8 V330.5" stroke="#eee" stroke-width="0.7"/>
<path d="M171.28,321.8 V330.5" stroke="#333" stroke-width="0.6"/>
<circle cx="171.28" cy="343.30" r="3.3" fill="#eee" stroke="#555" stroke-width="1.05"/>
<path d="M168.81,341.32 L173.75,345.28 M173.75,341.32 L168.81,345.28 M171.28,340.00 V346.60" stroke="#777" stroke-width="0.6"/>
<circle cx="171.28" cy="343.30" r="0.9" fill="#222"/>
<path d="M176.55,320.3 H183.15 L183.05,331 C182.85,333 181.45,334.5 180.85,336 V340.6 H178.85 V336 C178.25,334.5 176.85,333 176.65,331 z" fill="#000"/>
<rect x="177.75" y="321.6" width="4.2" height="9" fill="#6a6a6a"/>
<path d="M178.55,321.8 V330.5 M181.15,321.8 V330.5" stroke="#eee" stroke-width="0.7"/>
<path d="M179.85,321.8 V330.5" stroke="#333" stroke-width="0.6"/>
<circle cx="179.85" cy="343.30" r="3.3" fill="#eee" stroke="#555" stroke-width="1.05"/>
<path d="M177.38,341.32 L182.32,345.28 M182.32,341.32 L177.38,345.28 M179.85,340.00 V346.60" stroke="#777" stroke-width="0.6"/>
<circle cx="179.85" cy="343.30" r="0.9" fill="#222"/>
<path d="M185.12,320.3 H191.72 L191.62,331 C191.42,333 190.02,334.5 189.42,336 V340.6 H187.42 V336 C186.82,334.5 185.42,333 185.22,331 z" fill="#000"/>
<rect x="186.32" y="321.6" width="4.2" height="9" fill="#6a6a6a"/>
<path d="M187.12,321.8 V330.5 M189.72,321.8 V330.5" stroke="#eee" stroke-width="0.7"/>
<path d="M188.42,321.8 V330.5" stroke="#333" stroke-width="0.6"/>
<circle cx="188.42" cy="343.30" r="3.3" fill="#eee" stroke="#555" stroke-width="1.05"/>
<path d="M185.95,341.32 L190.90,345.28 M190.90,341.32 L185.95,345.28 M188.42,340.00 V346.60" stroke="#777" stroke-width="0.6"/>
<circle cx="188.42" cy="343.30" r="0.9" fill="#222"/>
<path d="M193.69,320.3 H200.29 L200.19,331 C199.99,333 198.59,334.5 197.99,336 V340.6 H195.99 V336 C195.39,334.5 193.99,333 193.79,331 z" fill="#000"/>
<rect x="194.89" y="321.6" width="4.2" height="9" fill="#6a6a6a"/>
<path d="M195.69,321.8 V330.5 M198.29,321.8 V330.5" stroke="#eee" stroke-width="0.7"/>
<path d="M196.99,321.8 V330.5" stroke="#333" stroke-width="0.6"/>
<circle cx="196.99" cy="343.30" r="3.3" fill="#eee" stroke="#555" stroke-width="1.05"/>
<path d="M194.52,341.32 L199.47,345.28 M199.47,341.32 L194.52,345.28 M196.99,340.00 V346.60" stroke="#777" stroke-width="0.6"/>
<circle cx="196.99" cy="343.30" r="0.9" fill="#222"/>
<path d="M202.26,320.3 H208.86 L208.76,331 C208.56,333 207.16,334.5 206.56,336 V340.6 H204.56 V336 C203.96,334.5 202.56,333 202.36,331 z" fill="#000"/>
<rect x="203.46" y="321.6" width="4.2" height="9" fill="#6a6a6a"/>
<path d="M204.26,321.8 V330.5 M206.86,321.8 V330.5" stroke="#eee" stroke-width="0.7"/>
<path d="M205.56,321.8 V330.5" stroke="#333" stroke-width="0.6"/>
<circle cx="205.56" cy="343.30" r="3.3" fill="#eee" stroke="#555" stroke-width="1.05"/>
<path d="M203.09,341.32 L208.03,345.28 M208.03,341.32 L203.09,345.28 M205.56,340.00 V346.60" stroke="#777" stroke-width="0.6"/>
<circle cx="205.56" cy="343.30" r="0.9" fill="#222"/>
<path d="M210.83,320.3 H217.43 L217.33,331 C217.13,333 215.73,334.5 215.13,336 V340.6 H213.13 V336 C212.53,334.5 211.13,333 210.93,331 z" fill="#000"/>
<rect x="212.03" y="321.6" width="4.2" height="9" fill="#6a6a6a"/>
<path d="M212.83,321.8 V330.5 M215.43,321.8 V330.5" stroke="#eee" stroke-width="0.7"/>
<path d="M214.13,321.8 V330.5" stroke="#333" stroke-width="0.6"/>
<circle cx="214.13" cy="343.30" r="3.3" fill="#eee" stroke="#555" stroke-width="1.05"/>
<path d="M211.66,341.32 L216.60,345.28 M216.60,341.32 L211.66,345.28 M214.13,340.00 V346.60" stroke="#777" stroke-width="0.6"/>
<circle cx="214.13" cy="343.30" r="0.9" fill="#222"/>
<path d="M219.40,320.3 H226.00 L225.90,331 C225.70,333 224.30,334.5 223.70,336 V340.6 H221.70 V336 C221.10,334.5 219.70,333 219.50,331 z" fill="#000"/>
<rect x="220.60" y="321.6" width="4.2" height="9" fill="#6a6a6a"/>
<path d="M221.40,321.8 V330.5 M224.00,321.8 V330.5" stroke="#eee" stroke-width="0.7"/>
<path d="M222.70,321.8 V330.5" stroke="#333" stroke-width="0.6"/>
<circle cx="222.70" cy="343.30" r="3.3" fill="#eee" stroke="#555" stroke-width="1.05"/>
<path d="M220.22,341.32 L225.17,345.28 M225.17,341.32 L220.22,345.28 M222.70,340.00 V346.60" stroke="#777" stroke-width="0.6"/>
<circle cx="222.70" cy="343.30" r="0.9" fill="#222"/>
<path d="M227.97,320.3 H234.57 L234.47,331 C234.27,333 232.87,334.5 232.27,336 V340.6 H230.27 V336 C229.67,334.5 228.27,333 228.07,331 z" fill="#000"/>
<rect x="229.17" y="321.6" width="4.2" height="9" fill="#6a6a6a"/>
<path d="M229.97,321.8 V330.5 M232.57,321.8 V330.5" stroke="#eee" stroke-width="0.7"/>
<path d="M231.27,321.8 V330.5" stroke="#333" stroke-width="0.6"/>
<circle cx="231.27" cy="343.30" r="3.3" fill="#eee" stroke="#555" stroke-width="1.05"/>
<path d="M228.80,341.32 L233.75,345.28 M233.75,341.32 L228.80,345.28 M231.27,340.00 V346.60" stroke="#777" stroke-width="0.6"/>
<circle cx="231.27" cy="343.30" r="0.9" fill="#222"/>
<path d="M236.54,320.3 H243.14 L243.04,331 C242.84,333 241.44,334.5 240.84,336 V340.6 H238.84 V336 C238.24,334.5 236.84,333 236.64,331 z" fill="#000"/>
<rect x="237.74" y="321.6" width="4.2" height="9" fill="#6a6a6a"/>
<path d="M238.54,321.8 V330.5 M241.14,321.8 V330.5" stroke="#eee" stroke-width="0.7"/>
<path d="M239.84,321.8 V330.5" stroke="#333" stroke-width="0.6"/>
<circle cx="239.84" cy="343.30" r="3.3" fill="#eee" stroke="#555" stroke-width="1.05"/>
<path d="M237.37,341.32 L242.31,345.28 M242.31,341.32 L237.37,345.28 M239.84,340.00 V346.60" stroke="#777" stroke-width="0.6"/>
<circle cx="239.84" cy="343.30" r="0.9" fill="#222"/>
<path d="M245.11,320.3 H251.71 L251.61,331 C251.41,333 250.01,334.5 249.41,336 V340.6 H247.41 V336 C246.81,334.5 245.41,333 245.21,331 z" fill="#000"/>
<rect x="246.31" y="321.6" width="4.2" height="9" fill="#6a6a6a"/>
<path d="M247.11,321.8 V330.5 M249.71,321.8 V330.5" stroke="#eee" stroke-width="0.7"/>
<path d="M248.41,321.8 V330.5" stroke="#333" stroke-width="0.6"/>
<circle cx="248.41" cy="343.30" r="3.3" fill="#eee" stroke="#555" stroke-width="1.05"/>
<path d="M245.94,341.32 L250.88,345.28 M250.88,341.32 L245.94,345.28 M248.41,340.00 V346.60" stroke="#777" stroke-width="0.6"/>
<circle cx="248.41" cy="343.30" r="0.9" fill="#222"/>
<path d="M253.68,320.3 H260.28 L260.18,331 C259.98,333 258.58,334.5 257.98,336 V340.6 H255.98 V336 C255.38,334.5 253.98,333 253.78,331 z" fill="#000"/>
<rect x="254.88" y="321.6" width="4.2" height="9" fill="#6a6a6a"/>
<path d="M255.68,321.8 V330.5 M258.28,321.8 V330.5" stroke="#eee" stroke-width="0.7"/>
<path d="M256.98,321.8 V330.5" stroke="#333" stroke-width="0.6"/>
<circle cx="256.98" cy="343.30" r="3.3" fill="#eee" stroke="#555" stroke-width="1.05"/>
<path d="M254.51,341.32 L259.46,345.28 M259.46,341.32 L254.51,345.28 M256.98,340.00 V346.60" stroke="#777" stroke-width="0.6"/>
<circle cx="256.98" cy="343.30" r="0.9" fill="#222"/>
<path d="M262.25,320.3 H268.85 L268.75,331 C268.55,333 267.15,334.5 266.55,336 V340.6 H264.55 V336 C263.95,334.5 262.55,333 262.35,331 z" fill="#000"/>
<rect x="263.45" y="321.6" width="4.2" height="9" fill="#6a6a6a"/>
<path d="M264.25,321.8 V330.5 M266.85,321.8 V330.5" stroke="#eee" stroke-width="0.7"/>
<path d="M265.55,321.8 V330.5" stroke="#333" stroke-width="0.6"/>
<circle cx="265.55" cy="343.30" r="3.3" fill="#eee" stroke="#555" stroke-width="1.05"/>
<path d="M263.07,341.32 L268.03,345.28 M268.03,341.32 L263.07,345.28 M265.55,340.00 V346.60" stroke="#777" stroke-width="0.6"/>
<circle cx="265.55" cy="343.30" r="0.9" fill="#222"/>
<path d="M270.82,320.3 H277.42 L277.32,331 C277.12,333 275.72,334.5 275.12,336 V340.6 H273.12 V336 C272.52,334.5 271.12,333 270.92,331 z" fill="#000"/>
<rect x="272.02" y="321.6" width="4.2" height="9" fill="#6a6a6a"/>
<path d="M272.82,321.8 V330.5 M275.42,321.8 V330.5" stroke="#eee" stroke-width="0.7"/>
<path d="M274.12,321.8 V330.5" stroke="#333" stroke-width="0.6"/>
<circle cx="274.12" cy="343.30" r="3.3" fill="#eee" stroke="#555" stroke-width="1.05"/>
<path d="M271.64,341.32 L276.60,345.28 M276.60,341.32 L271.64,345.28 M274.12,340.00 V346.60" stroke="#777" stroke-width="0.6"/>
<circle cx="274.12" cy="343.30" r="0.9" fill="#222"/>
<path d="M279.39,320.3 H285.99 L285.89,331 C285.69,333 284.29,334.5 283.69,336 V340.6 H281.69 V336 C281.09,334.5 279.69,333 279.49,331 z" fill="#000"/>
<rect x="280.59" y="321.6" width="4.2" height="9" fill="#6a6a6a"/>
<path d="M281.39,321.8 V330.5 M283.99,321.8 V330.5" stroke="#eee" stroke-width="0.7"/>
<path d="M282.69,321.8 V330.5" stroke="#333" stroke-width="0.6"/>
<circle cx="282.69" cy="343.30" r="3.3" fill="#eee" stroke="#555" stroke-width="1.05"/>
<path d="M280.21,341.32 L285.17,345.28 M285.17,341.32 L280.21,345.28 M282.69,340.00 V346.60" stroke="#777" stroke-width="0.6"/>
<circle cx="282.69" cy="343.30" r="0.9" fill="#222"/>
<rect x="290.51" y="313" width="1.5" height="4.5" fill="#000"/>
<path d="M290.06,316.5 h2.4 l1.4,4 h-5.2 z" fill="#000"/>
<path d="M287.96,320.3 H294.56 L294.46,331 C294.26,333 292.86,334.5 292.26,336 V340.6 H290.26 V336 C289.66,334.5 288.26,333 288.06,331 z" fill="#000"/>
<rect x="289.16" y="321.6" width="4.2" height="9" fill="#6a6a6a"/>
<path d="M289.96,321.8 V330.5 M292.56,321.8 V330.5" stroke="#eee" stroke-width="0.7"/>
<path d="M291.26,321.8 V330.5" stroke="#333" stroke-width="0.6"/>
<circle cx="291.26" cy="343.30" r="3.3" fill="#eee" stroke="#555" stroke-width="1.05"/>
<path d="M288.78,341.32 L293.74,345.28 M293.74,341.32 L288.78,345.28 M291.26,340.00 V346.60" stroke="#777" stroke-width="0.6"/>
<circle cx="291.26" cy="343.30" r="0.9" fill="#222"/>
<rect x="299.08" y="313" width="1.5" height="4.5" fill="#000"/>
<path d="M298.63,316.5 h2.4 l1.4,4 h-5.2 z" fill="#000"/>
<path d="M296.53,320.3 H303.13 L303.03,331 C302.83,333 301.43,334.5 300.83,336 V340.6 H298.83 V336 C298.23,334.5 296.83,333 296.63,331 z" fill="#000"/>
<rect x="297.73" y="321.6" width="4.2" height="9" fill="#6a6a6a"/>
<path d="M298.53,321.8 V330.5 M301.13,321.8 V330.5" stroke="#eee" stroke-width="0.7"/>
<path d="M299.83,321.8 V330.5" stroke="#333" stroke-width="0.6"/>
<circle cx="299.83" cy="343.30" r="3.3" fill="#eee" stroke="#555" stroke-width="1.05"/>
<path d="M297.36,341.32 L302.31,345.28 M302.31,341.32 L297.36,345.28 M299.83,340.00 V346.60" stroke="#777" stroke-width="0.6"/>
<circle cx="299.83" cy="343.30" r="0.9" fill="#222"/>
<rect x="307.65" y="313" width="1.5" height="4.5" fill="#000"/>
<path d="M307.20,316.5 h2.4 l1.4,4 h-5.2 z" fill="#000"/>
<path d="M305.10,320.3 H311.70 L311.60,331 C311.40,333 310.00,334.5 309.40,336 V340.6 H307.40 V336 C306.80,334.5 305.40,333 305.20,331 z" fill="#000"/>
<rect x="306.30" y="321.6" width="4.2" height="9" fill="#6a6a6a"/>
<path d="M307.10,321.8 V330.5 M309.70,321.8 V330.5" stroke="#eee" stroke-width="0.7"/>
<path d="M308.40,321.8 V330.5" stroke="#333" stroke-width="0.6"/>
<circle cx="308.40" cy="343.30" r="3.3" fill="#eee" stroke="#555" stroke-width="1.05"/>
<path d="M305.92,341.32 L310.88,345.28 M310.88,341.32 L305.92,345.28 M308.40,340.00 V346.60" stroke="#777" stroke-width="0.6"/>
<circle cx="308.40" cy="343.30" r="0.9" fill="#222"/>
<rect x="316.22" y="313" width="1.5" height="4.5" fill="#000"/>
<path d="M315.77,316.5 h2.4 l1.4,4 h-5.2 z" fill="#000"/>
<path d="M313.67,320.3 H320.27 L320.17,331 C319.97,333 318.57,334.5 317.97,336 V340.6 H315.97 V336 C315.37,334.5 313.97,333 313.77,331 z" fill="#000"/>
<rect x="314.87" y="321.6" width="4.2" height="9" fill="#6a6a6a"/>
<path d="M315.67,321.8 V330.5 M318.27,321.8 V330.5" stroke="#eee" stroke-width="0.7"/>
<path d="M316.97,321.8 V330.5" stroke="#333" stroke-width="0.6"/>
<circle cx="316.97" cy="343.30" r="3.3" fill="#eee" stroke="#555" stroke-width="1.05"/>
<path d="M314.50,341.32 L319.45,345.28 M319.45,341.32 L314.50,345.28 M316.97,340.00 V346.60" stroke="#777" stroke-width="0.6"/>
<circle cx="316.97" cy="343.30" r="0.9" fill="#222"/>
<rect x="324.79" y="313" width="1.5" height="4.5" fill="#000"/>
<path d="M324.34,316.5 h2.4 l1.4,4 h-5.2 z" fill="#000"/>
<path d="M322.24,320.3 H328.84 L328.74,331 C328.54,333 327.14,334.5 326.54,336 V340.6 H324.54 V336 C323.94,334.5 322.54,333 322.34,331 z" fill="#000"/>
<rect x="323.44" y="321.6" width="4.2" height="9" fill="#6a6a6a"/>
<path d="M324.24,321.8 V330.5 M326.84,321.8 V330.5" stroke="#eee" stroke-width="0.7"/>
<path d="M325.54,321.8 V330.5" stroke="#333" stroke-width="0.6"/>
<circle cx="325.54" cy="343.30" r="3.3" fill="#eee" stroke="#555" stroke-width="1.05"/>
<path d="M323.06,341.32 L328.02,345.28 M328.02,341.32 L323.06,345.28 M325.54,340.00 V346.60" stroke="#777" stroke-width="0.6"/>
<circle cx="325.54" cy="343.30" r="0.9" fill="#222"/>
<rect x="333.36" y="313" width="1.5" height="4.5" fill="#000"/>
<path d="M332.91,316.5 h2.4 l1.4,4 h-5.2 z" fill="#000"/>
<path d="M330.81,320.3 H337.41 L337.31,331 C337.11,333 335.71,334.5 335.11,336 V340.6 H333.11 V336 C332.51,334.5 331.11,333 330.91,331 z" fill="#000"/>
<rect x="332.01" y="321.6" width="4.2" height="9" fill="#6a6a6a"/>
<path d="M332.81,321.8 V330.5 M335.41,321.8 V330.5" stroke="#eee" stroke-width="0.7"/>
<path d="M334.11,321.8 V330.5" stroke="#333" stroke-width="0.6"/>
<circle cx="334.11" cy="343.30" r="3.3" fill="#eee" stroke="#555" stroke-width="1.05"/>
<path d="M331.63,341.32 L336.59,345.28 M336.59,341.32 L331.63,345.28 M334.11,340.00 V346.60" stroke="#777" stroke-width="0.6"/>
<circle cx="334.11" cy="343.30" r="0.9" fill="#222"/>
<rect x="341.93" y="313" width="1.5" height="4.5" fill="#000"/>
<path d="M341.48,316.5 h2.4 l1.4,4 h-5.2 z" fill="#000"/>
<path d="M339.38,320.3 H345.98 L345.88,331 C345.68,333 344.28,334.5 343.68,336 V340.6 H341.68 V336 C341.08,334.5 339.68,333 339.48,331 z" fill="#000"/>
<rect x="340.58" y="321.6" width="4.2" height="9" fill="#6a6a6a"/>
<path d="M341.38,321.8 V330.5 M343.98,321.8 V330.5" stroke="#eee" stroke-width="0.7"/>
<path d="M342.68,321.8 V330.5" stroke="#333" stroke-width="0.6"/>
<circle cx="342.68" cy="343.30" r="3.3" fill="#eee" stroke="#555" stroke-width="1.05"/>
<path d="M340.20,341.32 L345.16,345.28 M345.16,341.32 L340.20,345.28 M342.68,340.00 V346.60" stroke="#777" stroke-width="0.6"/>
<circle cx="342.68" cy="343.30" r="0.9" fill="#222"/>
<rect x="350.50" y="313" width="1.5" height="4.5" fill="#000"/>
<path d="M350.05,316.5 h2.4 l1.4,4 h-5.2 z" fill="#000"/>
<path d="M347.95,320.3 H354.55 L354.45,331 C354.25,333 352.85,334.5 352.25,336 V340.6 H350.25 V336 C349.65,334.5 348.25,333 348.05,331 z" fill="#000"/>
<rect x="349.15" y="321.6" width="4.2" height="9" fill="#6a6a6a"/>
<path d="M349.95,321.8 V330.5 M352.55,321.8 V330.5" stroke="#eee" stroke-width="0.7"/>
<path d="M351.25,321.8 V330.5" stroke="#333" stroke-width="0.6"/>
<circle cx="351.25" cy="343.30" r="3.3" fill="#eee" stroke="#555" stroke-width="1.05"/>
<path d="M348.77,341.32 L353.73,345.28 M353.73,341.32 L348.77,345.28 M351.25,340.00 V346.60" stroke="#777" stroke-width="0.6"/>
<circle cx="351.25" cy="343.30" r="0.9" fill="#222"/>
<rect x="359.07" y="313" width="1.5" height="4.5" fill="#000"/>
<path d="M358.62,316.5 h2.4 l1.4,4 h-5.2 z" fill="#000"/>
<path d="M356.52,320.3 H363.12 L363.02,331 C362.82,333 361.42,334.5 360.82,336 V340.6 H358.82 V336 C358.22,334.5 356.82,333 356.62,331 z" fill="#000"/>
<rect x="357.72" y="321.6" width="4.2" height="9" fill="#6a6a6a"/>
<path d="M358.52,321.8 V330.5 M361.12,321.8 V330.5" stroke="#eee" stroke-width="0.7"/>
<path d="M359.82,321.8 V330.5" stroke="#333" stroke-width="0.6"/>
<circle cx="359.82" cy="343.30" r="3.3" fill="#eee" stroke="#555" stroke-width="1.05"/>
<path d="M357.34,341.32 L362.30,345.28 M362.30,341.32 L357.34,345.28 M359.82,340.00 V346.60" stroke="#777" stroke-width="0.6"/>
<circle cx="359.82" cy="343.30" r="0.9" fill="#222"/>
<rect x="367.64" y="313" width="1.5" height="4.5" fill="#000"/>
<path d="M367.19,316.5 h2.4 l1.4,4 h-5.2 z" fill="#000"/>
<path d="M365.09,320.3 H371.69 L371.59,331 C371.39,333 369.99,334.5 369.39,336 V340.6 H367.39 V336 C366.79,334.5 365.39,333 365.19,331 z" fill="#000"/>
<rect x="366.29" y="321.6" width="4.2" height="9" fill="#6a6a6a"/>
<path d="M367.09,321.8 V330.5 M369.69,321.8 V330.5" stroke="#eee" stroke-width="0.7"/>
<path d="M368.39,321.8 V330.5" stroke="#333" stroke-width="0.6"/>
<circle cx="368.39" cy="343.30" r="3.3" fill="#eee" stroke="#555" stroke-width="1.05"/>
<path d="M365.91,341.32 L370.87,345.28 M370.87,341.32 L365.91,345.28 M368.39,340.00 V346.60" stroke="#777" stroke-width="0.6"/>
<circle cx="368.39" cy="343.30" r="0.9" fill="#222"/>
<rect x="376.21" y="313" width="1.5" height="4.5" fill="#000"/>
<path d="M375.76,316.5 h2.4 l1.4,4 h-5.2 z" fill="#000"/>
<path d="M373.66,320.3 H380.26 L380.16,331 C379.96,333 378.56,334.5 377.96,336 V340.6 H375.96 V336 C375.36,334.5 373.96,333 373.76,331 z" fill="#000"/>
<rect x="374.86" y="321.6" width="4.2" height="9" fill="#6a6a6a"/>
<path d="M375.66,321.8 V330.5 M378.26,321.8 V330.5" stroke="#eee" stroke-width="0.7"/>
<path d="M376.96,321.8 V330.5" stroke="#333" stroke-width="0.6"/>
<circle cx="376.96" cy="343.30" r="3.3" fill="#eee" stroke="#555" stroke-width="1.05"/>
<path d="M374.49,341.32 L379.44,345.28 M379.44,341.32 L374.49,345.28 M376.96,340.00 V346.60" stroke="#777" stroke-width="0.6"/>
<circle cx="376.96" cy="343.30" r="0.9" fill="#222"/>
<rect x="384.78" y="313" width="1.5" height="4.5" fill="#000"/>
<path d="M384.33,316.5 h2.4 l1.4,4 h-5.2 z" fill="#000"/>
<path d="M382.23,320.3 H388.83 L388.73,331 C388.53,333 387.13,334.5 386.53,336 V340.6 H384.53 V336 C383.93,334.5 382.53,333 382.33,331 z" fill="#000"/>
<rect x="383.43" y="321.6" width="4.2" height="9" fill="#6a6a6a"/>
<path d="M384.23,321.8 V330.5 M386.83,321.8 V330.5" stroke="#eee" stroke-width="0.7"/>
<path d="M385.53,321.8 V330.5" stroke="#333" stroke-width="0.6"/>
<circle cx="385.53" cy="343.30" r="3.3" fill="#eee" stroke="#555" stroke-width="1.05"/>
<path d="M383.05,341.32 L388.00,345.28 M388.00,341.32 L383.05,345.28 M385.53,340.00 V346.60" stroke="#777" stroke-width="0.6"/>
<circle cx="385.53" cy="343.30" r="0.9" fill="#222"/>
<rect x="393.35" y="313" width="1.5" height="4.5" fill="#000"/>
<path d="M392.90,316.5 h2.4 l1.4,4 h-5.2 z" fill="#000"/>
<path d="M390.80,320.3 H397.40 L397.30,331 C397.10,333 395.70,334.5 395.10,336 V340.6 H393.10 V336 C392.50,334.5 391.10,333 390.90,331 z" fill="#000"/>
<rect x="392.00" y="321.6" width="4.2" height="9" fill="#6a6a6a"/>
<path d="M392.80,321.8 V330.5 M395.40,321.8 V330.5" stroke="#eee" stroke-width="0.7"/>
<path d="M394.10,321.8 V330.5" stroke="#333" stroke-width="0.6"/>
<circle cx="394.10" cy="343.30" r="3.3" fill="#eee" stroke="#555" stroke-width="1.05"/>
<path d="M391.62,341.32 L396.58,345.28 M396.58,341.32 L391.62,345.28 M394.10,340.00 V346.60" stroke="#777" stroke-width="0.6"/>
<circle cx="394.10" cy="343.30" r="0.9" fill="#222"/>
<rect x="401.92" y="313" width="1.5" height="4.5" fill="#000"/>
<path d="M401.47,316.5 h2.4 l1.4,4 h-5.2 z" fill="#000"/>
<path d="M399.37,320.3 H405.97 L405.87,331 C405.67,333 404.27,334.5 403.67,336 V340.6 H401.67 V336 C401.07,334.5 399.67,333 399.47,331 z" fill="#000"/>
<rect x="400.57" y="321.6" width="4.2" height="9" fill="#6a6a6a"/>
<path d="M401.37,321.8 V330.5 M403.97,321.8 V330.5" stroke="#eee" stroke-width="0.7"/>
<path d="M402.67,321.8 V330.5" stroke="#333" stroke-width="0.6"/>
<circle cx="402.67" cy="343.30" r="3.3" fill="#eee" stroke="#555" stroke-width="1.05"/>
<path d="M400.19,341.32 L405.15,345.28 M405.15,341.32 L400.19,345.28 M402.67,340.00 V346.60" stroke="#777" stroke-width="0.6"/>
<circle cx="402.67" cy="343.30" r="0.9" fill="#222"/>
<rect x="410.49" y="313" width="1.5" height="4.5" fill="#000"/>
<path d="M410.04,316.5 h2.4 l1.4,4 h-5.2 z" fill="#000"/>
<path d="M407.94,320.3 H414.54 L414.44,331 C414.24,333 412.84,334.5 412.24,336 V340.6 H410.24 V336 C409.64,334.5 408.24,333 408.04,331 z" fill="#000"/>
<rect x="409.14" y="321.6" width="4.2" height="9" fill="#6a6a6a"/>
<path d="M409.94,321.8 V330.5 M412.54,321.8 V330.5" stroke="#eee" stroke-width="0.7"/>
<path d="M411.24,321.8 V330.5" stroke="#333" stroke-width="0.6"/>
<circle cx="411.24" cy="343.30" r="3.3" fill="#eee" stroke="#555" stroke-width="1.05"/>
<path d="M408.76,341.32 L413.72,345.28 M413.72,341.32 L408.76,345.28 M411.24,340.00 V346.60" stroke="#777" stroke-width="0.6"/>
<circle cx="411.24" cy="343.30" r="0.9" fill="#222"/>
<rect x="419.06" y="313" width="1.5" height="4.5" fill="#000"/>
<path d="M418.61,316.5 h2.4 l1.4,4 h-5.2 z" fill="#000"/>
<path d="M416.51,320.3 H423.11 L423.01,331 C422.81,333 421.41,334.5 420.81,336 V340.6 H418.81 V336 C418.21,334.5 416.81,333 416.61,331 z" fill="#000"/>
<rect x="417.71" y="321.6" width="4.2" height="9" fill="#6a6a6a"/>
<path d="M418.51,321.8 V330.5 M421.11,321.8 V330.5" stroke="#eee" stroke-width="0.7"/>
<path d="M419.81,321.8 V330.5" stroke="#333" stroke-width="0.6"/>
<circle cx="419.81" cy="343.30" r="3.3" fill="#eee" stroke="#555" stroke-width="1.05"/>
<path d="M417.33,341.32 L422.29,345.28 M422.29,341.32 L417.33,345.28 M419.81,340.00 V346.60" stroke="#777" stroke-width="0.6"/>
<circle cx="419.81" cy="343.30" r="0.9" fill="#222"/>
<rect x="427.63" y="313" width="1.5" height="4.5" fill="#000"/>
<path d="M427.18,316.5 h2.4 l1.4,4 h-5.2 z" fill="#000"/>
<path d="M425.08,320.3 H431.68 L431.58,331 C431.38,333 429.98,334.5 429.38,336 V340.6 H427.38 V336 C426.78,334.5 425.38,333 425.18,331 z" fill="#000"/>
<rect x="426.28" y="321.6" width="4.2" height="9" fill="#6a6a6a"/>
<path d="M427.08,321.8 V330.5 M429.68,321.8 V330.5" stroke="#eee" stroke-width="0.7"/>
<path d="M428.38,321.8 V330.5" stroke="#333" stroke-width="0.6"/>
<circle cx="428.38" cy="343.30" r="3.3" fill="#eee" stroke="#555" stroke-width="1.05"/>
<path d="M425.90,341.32 L430.86,345.28 M430.86,341.32 L425.90,345.28 M428.38,340.00 V346.60" stroke="#777" stroke-width="0.6"/>
<circle cx="428.38" cy="343.30" r="0.9" fill="#222"/>
<rect x="436.35" y="313" width="1.5" height="4.5" fill="#000"/>
<path d="M435.90,316.5 h2.4 l1.4,4 h-5.2 z" fill="#000"/>
<path d="M433.90,320.3 h6.4 l0.2,10 L437.10,336.3 L433.70,330.3 z" fill="#111"/>
<path d="M436.20,322 V331 M438.00,322 V331" stroke="#aaa" stroke-width="0.6"/>
<rect x="444.65" y="313" width="1.3" height="7" fill="#111"/>
<rect x="444.65" y="320" width="1.3" height="12" fill="#111"/>
<rect x="447.85" y="313" width="1.3" height="7" fill="#111"/>
<rect x="447.85" y="320" width="1.3" height="12" fill="#111"/>
<path d="M441.40,322.5 L443.90,320.6 H449.90 L452.40,322.5 L449.90,324.6 H443.90 Z M443.90,320.6 L449.90,324.6 M449.90,320.6 L443.90,324.6" fill="none" stroke="#888" stroke-width="0.8"/>
<path d="M441.70,332.3 L444.20,328.6 H449.60 L452.10,332.3 L449.60,336 H444.20 Z M444.20,328.6 L449.60,336 M449.60,328.6 L444.20,336 M441.70,332.3 H452.10" fill="none" stroke="#666" stroke-width="0.9"/>
<rect x="444.65" y="334" width="1.3" height="6.5" fill="#111"/>
<circle cx="445.30" cy="343.30" r="3.5" fill="#eee" stroke="#666" stroke-width="1.0"/>
<path d="M442.68,341.20 L447.93,345.40 M447.93,341.20 L442.68,345.40 M445.30,339.80 V346.80" stroke="#777" stroke-width="0.6"/>
<circle cx="445.30" cy="343.30" r="0.9" fill="#222"/>
<rect x="549.15" y="320" width="1.3" height="12" fill="#111"/>
<rect x="545.95" y="320" width="1.3" height="12" fill="#111"/>
<path d="M542.70,322.5 L545.20,320.6 H551.20 L553.70,322.5 L551.20,324.6 H545.20 Z M545.20,320.6 L551.20,324.6 M551.20,320.6 L545.20,324.6" fill="none" stroke="#888" stroke-width="0.8"/>
<path d="M543.00,332.3 L545.50,328.6 H550.90 L553.40,332.3 L550.90,336 H545.50 Z M545.50,328.6 L550.90,336 M550.90,328.6 L545.50,336 M543.00,332.3 H553.40" fill="none" stroke="#666" stroke-width="0.9"/>
<rect x="549.15" y="334" width="1.3" height="6.5" fill="#111"/>
<circle cx="549.80" cy="343.30" r="3.5" fill="#eee" stroke="#666" stroke-width="1.0"/>
<path d="M547.17,341.20 L552.42,345.40 M552.42,341.20 L547.17,345.40 M549.80,339.80 V346.80" stroke="#777" stroke-width="0.6"/>
<circle cx="549.80" cy="343.30" r="0.9" fill="#222"/>
<path d="M556.40,320.3 h6.4 l0.2,10 L559.60,336.3 L556.20,330.3 z" fill="#111"/>
<path d="M558.70,322 V331 M560.50,322 V331" stroke="#aaa" stroke-width="0.6"/>
<path d="M564.50,320.3 H571.10 L571.00,331 C570.80,333 569.40,334.5 568.80,336 V340.6 H566.80 V336 C566.20,334.5 564.80,333 564.60,331 z" fill="#000"/>
<rect x="565.70" y="321.6" width="4.2" height="9" fill="#6a6a6a"/>
<path d="M566.50,321.8 V330.5 M569.10,321.8 V330.5" stroke="#eee" stroke-width="0.7"/>
<path d="M567.80,321.8 V330.5" stroke="#333" stroke-width="0.6"/>
<circle cx="567.80" cy="343.30" r="3.3" fill="#eee" stroke="#555" stroke-width="1.05"/>
<path d="M565.32,341.32 L570.27,345.28 M570.27,341.32 L565.32,345.28 M567.80,340.00 V346.60" stroke="#777" stroke-width="0.6"/>
<circle cx="567.80" cy="343.30" r="0.9" fill="#222"/>
<path d="M573.07,320.3 H579.67 L579.57,331 C579.37,333 577.97,334.5 577.37,336 V340.6 H575.37 V336 C574.77,334.5 573.37,333 573.17,331 z" fill="#000"/>
<rect x="574.27" y="321.6" width="4.2" height="9" fill="#6a6a6a"/>
<path d="M575.07,321.8 V330.5 M577.67,321.8 V330.5" stroke="#eee" stroke-width="0.7"/>
<path d="M576.37,321.8 V330.5" stroke="#333" stroke-width="0.6"/>
<circle cx="576.37" cy="343.30" r="3.3" fill="#eee" stroke="#555" stroke-width="1.05"/>
<path d="M573.89,341.32 L578.85,345.28 M578.85,341.32 L573.89,345.28 M576.37,340.00 V346.60" stroke="#777" stroke-width="0.6"/>
<circle cx="576.37" cy="343.30" r="0.9" fill="#222"/>
<path d="M581.64,320.3 H588.24 L588.14,331 C587.94,333 586.54,334.5 585.94,336 V340.6 H583.94 V336 C583.34,334.5 581.94,333 581.74,331 z" fill="#000"/>
<rect x="582.84" y="321.6" width="4.2" height="9" fill="#6a6a6a"/>
<path d="M583.64,321.8 V330.5 M586.24,321.8 V330.5" stroke="#eee" stroke-width="0.7"/>
<path d="M584.94,321.8 V330.5" stroke="#333" stroke-width="0.6"/>
<circle cx="584.94" cy="343.30" r="3.3" fill="#eee" stroke="#555" stroke-width="1.05"/>
<path d="M582.46,341.32 L587.41,345.28 M587.41,341.32 L582.46,345.28 M584.94,340.00 V346.60" stroke="#777" stroke-width="0.6"/>
<circle cx="584.94" cy="343.30" r="0.9" fill="#222"/>
<rect x="592.76" y="313" width="1.5" height="4.5" fill="#000"/>
<path d="M592.31,316.5 h2.4 l1.4,4 h-5.2 z" fill="#000"/>
<path d="M590.21,320.3 H596.81 L596.71,331 C596.51,333 595.11,334.5 594.51,336 V340.6 H592.51 V336 C591.91,334.5 590.51,333 590.31,331 z" fill="#000"/>
<rect x="591.41" y="321.6" width="4.2" height="9" fill="#6a6a6a"/>
<path d="M592.21,321.8 V330.5 M594.81,321.8 V330.5" stroke="#eee" stroke-width="0.7"/>
<path d="M593.51,321.8 V330.5" stroke="#333" stroke-width="0.6"/>
<circle cx="593.51" cy="343.30" r="3.3" fill="#eee" stroke="#555" stroke-width="1.05"/>
<path d="M591.03,341.32 L595.99,345.28 M595.99,341.32 L591.03,345.28 M593.51,340.00 V346.60" stroke="#777" stroke-width="0.6"/>
<circle cx="593.51" cy="343.30" r="0.9" fill="#222"/>
<rect x="601.33" y="313" width="1.5" height="4.5" fill="#000"/>
<path d="M600.88,316.5 h2.4 l1.4,4 h-5.2 z" fill="#000"/>
<path d="M598.78,320.3 H605.38 L605.28,331 C605.08,333 603.68,334.5 603.08,336 V340.6 H601.08 V336 C600.48,334.5 599.08,333 598.88,331 z" fill="#000"/>
<rect x="599.98" y="321.6" width="4.2" height="9" fill="#6a6a6a"/>
<path d="M600.78,321.8 V330.5 M603.38,321.8 V330.5" stroke="#eee" stroke-width="0.7"/>
<path d="M602.08,321.8 V330.5" stroke="#333" stroke-width="0.6"/>
<circle cx="602.08" cy="343.30" r="3.3" fill="#eee" stroke="#555" stroke-width="1.05"/>
<path d="M599.60,341.32 L604.55,345.28 M604.55,341.32 L599.60,345.28 M602.08,340.00 V346.60" stroke="#777" stroke-width="0.6"/>
<circle cx="602.08" cy="343.30" r="0.9" fill="#222"/>
<rect x="609.90" y="313" width="1.5" height="4.5" fill="#000"/>
<path d="M609.45,316.5 h2.4 l1.4,4 h-5.2 z" fill="#000"/>
<path d="M607.35,320.3 H613.95 L613.85,331 C613.65,333 612.25,334.5 611.65,336 V340.6 H609.65 V336 C609.05,334.5 607.65,333 607.45,331 z" fill="#000"/>
<rect x="608.55" y="321.6" width="4.2" height="9" fill="#6a6a6a"/>
<path d="M609.35,321.8 V330.5 M611.95,321.8 V330.5" stroke="#eee" stroke-width="0.7"/>
<path d="M610.65,321.8 V330.5" stroke="#333" stroke-width="0.6"/>
<circle cx="610.65" cy="343.30" r="3.3" fill="#eee" stroke="#555" stroke-width="1.05"/>
<path d="M608.17,341.32 L613.12,345.28 M613.12,341.32 L608.17,345.28 M610.65,340.00 V346.60" stroke="#777" stroke-width="0.6"/>
<circle cx="610.65" cy="343.30" r="0.9" fill="#222"/>
<rect x="618.47" y="313" width="1.5" height="4.5" fill="#000"/>
<path d="M618.02,316.5 h2.4 l1.4,4 h-5.2 z" fill="#000"/>
<path d="M615.92,320.3 H622.52 L622.42,331 C622.22,333 620.82,334.5 620.22,336 V340.6 H618.22 V336 C617.62,334.5 616.22,333 616.02,331 z" fill="#000"/>
<rect x="617.12" y="321.6" width="4.2" height="9" fill="#6a6a6a"/>
<path d="M617.92,321.8 V330.5 M620.52,321.8 V330.5" stroke="#eee" stroke-width="0.7"/>
<path d="M619.22,321.8 V330.5" stroke="#333" stroke-width="0.6"/>
<circle cx="619.22" cy="343.30" r="3.3" fill="#eee" stroke="#555" stroke-width="1.05"/>
<path d="M616.74,341.32 L621.69,345.28 M621.69,341.32 L616.74,345.28 M619.22,340.00 V346.60" stroke="#777" stroke-width="0.6"/>
<circle cx="619.22" cy="343.30" r="0.9" fill="#222"/>
<rect x="627.45" y="313" width="1.5" height="4.5" fill="#000"/>
<path d="M627.00,316.5 h2.4 l1.4,4 h-5.2 z" fill="#000"/>
<path d="M625.00,320.3 h6.4 l0.2,10 L628.20,336.3 L624.80,330.3 z" fill="#111"/>
<path d="M627.30,322 V331 M629.10,322 V331" stroke="#aaa" stroke-width="0.6"/>
<rect x="635.95" y="313" width="1.3" height="7" fill="#111"/>
<rect x="635.95" y="320" width="1.3" height="12" fill="#111"/>
<rect x="639.15" y="313" width="1.3" height="7" fill="#111"/>
<rect x="639.15" y="320" width="1.3" height="12" fill="#111"/>
<path d="M632.70,322.5 L635.20,320.6 H641.20 L643.70,322.5 L641.20,324.6 H635.20 Z M635.20,320.6 L641.20,324.6 M641.20,320.6 L635.20,324.6" fill="none" stroke="#888" stroke-width="0.8"/>
<path d="M633.00,332.3 L635.50,328.6 H640.90 L643.40,332.3 L640.90,336 H635.50 Z M635.50,328.6 L640.90,336 M640.90,328.6 L635.50,336 M633.00,332.3 H643.40" fill="none" stroke="#666" stroke-width="0.9"/>
<rect x="635.95" y="334" width="1.3" height="6.5" fill="#111"/>
<circle cx="636.60" cy="343.30" r="3.5" fill="#eee" stroke="#666" stroke-width="1.0"/>
<path d="M633.98,341.20 L639.23,345.40 M639.23,341.20 L633.98,345.40 M636.60,339.80 V346.80" stroke="#777" stroke-width="0.6"/>
<circle cx="636.60" cy="343.30" r="0.9" fill="#222"/>
<line x1="109.30" y1="320.10" x2="456.40" y2="320.10" stroke="#111" stroke-width="1.2"/>
<line x1="540.30" y1="320.30" x2="647.10" y2="320.30" stroke="#111" stroke-width="1.2"/>
<defs><clipPath id="cpL"><rect x="109.4" y="240" width="200" height="100"/></clipPath><clipPath id="cpB"><rect x="100" y="262" width="182.6" height="80"/></clipPath><clipPath id="cpS"><rect x="540.3" y="240" width="53.3" height="100"/></clipPath><clipPath id="cpS2"><rect x="530" y="240" width="63.6" height="100"/></clipPath></defs>
<line x1="92.40" y1="260.50" x2="282.60" y2="260.50" stroke="#111" stroke-width="1.1"/>
<g clip-path="url(#cpL)">
<polygon points="112.70,261.30 119.80,257.90 128.40,271.60 103.70,320.80 89.60,291.30" fill="#fff" stroke="#000" stroke-width="1.3" stroke-linejoin="miter" />
<line x1="107.90" y1="290.90" x2="112.40" y2="297.30" stroke="#000" stroke-width="1.3"/>
<line x1="113.00" y1="282.70" x2="117.70" y2="289.90" stroke="#000" stroke-width="1.3"/>
<polygon points="105.70,257.70 121.81,267.00 89.81,322.42 73.70,313.12" fill="#fff" stroke="#000" stroke-width="1.3" stroke-linejoin="miter" />
</g>
<polygon points="143.60,261.30 150.70,257.90 159.30,271.60 134.60,320.80 120.50,291.30" fill="#fff" stroke="#000" stroke-width="1.3" stroke-linejoin="miter" />
<line x1="138.80" y1="290.90" x2="143.30" y2="297.30" stroke="#000" stroke-width="1.3"/>
<line x1="143.90" y1="282.70" x2="148.60" y2="289.90" stroke="#000" stroke-width="1.3"/>
<polygon points="174.50,261.30 181.60,257.90 190.20,271.60 165.50,320.80 151.40,291.30" fill="#fff" stroke="#000" stroke-width="1.3" stroke-linejoin="miter" />
<line x1="169.70" y1="290.90" x2="174.20" y2="297.30" stroke="#000" stroke-width="1.3"/>
<line x1="174.80" y1="282.70" x2="179.50" y2="289.90" stroke="#000" stroke-width="1.3"/>
<polygon points="205.40,261.30 212.50,257.90 221.10,271.60 196.40,320.80 182.30,291.30" fill="#fff" stroke="#000" stroke-width="1.3" stroke-linejoin="miter" />
<line x1="200.60" y1="290.90" x2="205.10" y2="297.30" stroke="#000" stroke-width="1.3"/>
<line x1="205.70" y1="282.70" x2="210.40" y2="289.90" stroke="#000" stroke-width="1.3"/>
<polygon points="236.30,261.30 243.40,257.90 252.00,271.60 227.30,320.80 213.20,291.30" fill="#fff" stroke="#000" stroke-width="1.3" stroke-linejoin="miter" />
<line x1="231.50" y1="290.90" x2="236.00" y2="297.30" stroke="#000" stroke-width="1.3"/>
<line x1="236.60" y1="282.70" x2="241.30" y2="289.90" stroke="#000" stroke-width="1.3"/>
<polygon points="267.20,261.30 274.30,257.90 282.90,271.60 258.20,320.80 244.10,291.30" fill="#fff" stroke="#000" stroke-width="1.3" stroke-linejoin="miter" />
<line x1="262.40" y1="290.90" x2="266.90" y2="297.30" stroke="#000" stroke-width="1.3"/>
<line x1="267.50" y1="282.70" x2="272.20" y2="289.90" stroke="#000" stroke-width="1.3"/>
<polygon points="136.60,257.70 152.71,267.00 120.71,322.42 104.60,313.12" fill="#fff" stroke="#000" stroke-width="1.3" stroke-linejoin="miter" />
<polygon points="167.50,257.70 183.61,267.00 151.61,322.42 135.50,313.12" fill="#fff" stroke="#000" stroke-width="1.3" stroke-linejoin="miter" />
<polygon points="198.40,257.70 214.51,267.00 182.51,322.42 166.40,313.12" fill="#fff" stroke="#000" stroke-width="1.3" stroke-linejoin="miter" />
<polygon points="229.30,257.70 245.41,267.00 213.41,322.42 197.30,313.12" fill="#fff" stroke="#000" stroke-width="1.3" stroke-linejoin="miter" />
<polygon points="260.20,257.70 276.31,267.00 244.31,322.42 228.20,313.12" fill="#fff" stroke="#000" stroke-width="1.3" stroke-linejoin="miter" />
<g clip-path="url(#cpB)">
<polygon points="291.10,257.70 307.21,267.00 275.21,322.42 259.10,313.12" fill="#fff" stroke="#000" stroke-width="1.3" stroke-linejoin="miter" />
</g>
<line x1="520.80" y1="260.50" x2="593.60" y2="260.50" stroke="#111" stroke-width="1.1"/>
<g clip-path="url(#cpS)">
<polygon points="485.70,261.30 492.80,257.90 501.40,271.60 476.70,320.80 462.60,291.30" fill="#fff" stroke="#000" stroke-width="1.3" stroke-linejoin="miter" />
<line x1="480.90" y1="290.90" x2="485.40" y2="297.30" stroke="#000" stroke-width="1.3"/>
<line x1="486.00" y1="282.70" x2="490.70" y2="289.90" stroke="#000" stroke-width="1.3"/>
<polygon points="516.60,261.30 523.70,257.90 532.30,271.60 507.60,320.80 493.50,291.30" fill="#fff" stroke="#000" stroke-width="1.3" stroke-linejoin="miter" />
<line x1="511.80" y1="290.90" x2="516.30" y2="297.30" stroke="#000" stroke-width="1.3"/>
<line x1="516.90" y1="282.70" x2="521.60" y2="289.90" stroke="#000" stroke-width="1.3"/>
<polygon points="547.50,261.30 554.60,257.90 563.20,271.60 538.50,320.80 524.40,291.30" fill="#fff" stroke="#000" stroke-width="1.3" stroke-linejoin="miter" />
<line x1="542.70" y1="290.90" x2="547.20" y2="297.30" stroke="#000" stroke-width="1.3"/>
<line x1="547.80" y1="282.70" x2="552.50" y2="289.90" stroke="#000" stroke-width="1.3"/>
<polygon points="578.40,261.30 585.50,257.90 594.10,271.60 569.40,320.80 555.30,291.30" fill="#fff" stroke="#000" stroke-width="1.3" stroke-linejoin="miter" />
<line x1="573.60" y1="290.90" x2="578.10" y2="297.30" stroke="#000" stroke-width="1.3"/>
<line x1="578.70" y1="282.70" x2="583.40" y2="289.90" stroke="#000" stroke-width="1.3"/>
<polygon points="509.60,257.70 525.71,267.00 493.71,322.42 477.60,313.12" fill="#fff" stroke="#000" stroke-width="1.3" stroke-linejoin="miter" />
<polygon points="540.50,257.70 556.61,267.00 524.61,322.42 508.50,313.12" fill="#fff" stroke="#000" stroke-width="1.3" stroke-linejoin="miter" />
<polygon points="602.30,257.70 618.41,267.00 586.41,322.42 570.30,313.12" fill="#fff" stroke="#000" stroke-width="1.3" stroke-linejoin="miter" />
</g>
<g clip-path="url(#cpS2)">
<polygon points="571.40,257.70 587.51,267.00 555.51,322.42 539.40,313.12" fill="#fff" stroke="#000" stroke-width="1.3" stroke-linejoin="miter" />
</g>
<rect x="282.60" y="261.10" width="173.80" height="52.00" fill="#fff" stroke="none" stroke-width="0"/>
<line x1="286.40" y1="261.20" x2="456.40" y2="261.20" stroke="#111" stroke-width="2.6"/>
<line x1="282.60" y1="270.60" x2="452.00" y2="270.60" stroke="#111" stroke-width="2.0"/>
<line x1="452.00" y1="261.00" x2="452.00" y2="270.50" stroke="#555" stroke-width="0.9"/>
<line x1="282.60" y1="261.00" x2="282.60" y2="313.10" stroke="#111" stroke-width="1.3"/>
<line x1="282.60" y1="313.10" x2="449.40" y2="313.10" stroke="#111" stroke-width="1.2"/>
<circle cx="307" cy="266.8" r="0.8" fill="#555"/>
<line x1="390.00" y1="261.40" x2="390.00" y2="273.00" stroke="#111" stroke-width="1.2"/>
<rect x="388.4" y="271" width="3.2" height="5" rx="1" fill="#000"/>
<path d="M329.3,284.3 C322,281.5 314,280.2 306,281.8 C299,283.5 295,287 293,290.1 C295,293.5 299,297 306,298.8 C314,300.3 322,299 329.3,296.7" fill="none" stroke="#444" stroke-width="0.75"/>
<rect x="329.30" y="283.50" width="29.70" height="14.20" fill="#fff" stroke="#000" stroke-width="1.4"/>
<rect x="359.20" y="272.00" width="6.10" height="21.50" fill="#fff" stroke="#000" stroke-width="1.0"/>
<line x1="359.20" y1="276.30" x2="365.30" y2="276.30" stroke="#111" stroke-width="0.8"/>
<rect x="336.3" y="285.8" width="8.5" height="3.2" fill="#444"/>
<rect x="336.3" y="291.2" width="8.5" height="3.2" fill="#444"/>
<path d="M338.3,285.8 v3.2 M340.5,285.8 v3.2 M342.7,285.8 v3.2 M338.3,291.2 v3.2 M340.5,291.2 v3.2 M342.7,291.2 v3.2" stroke="#ddd" stroke-width="0.6"/>
<path d="M344.8,287 H351 V284.5 M344.8,293.2 H351 V296.5 M351,284.5 V296.5" fill="none" stroke="#444" stroke-width="0.7"/>
<rect x="352.6" y="288" width="3.4" height="4.3" fill="none" stroke="#555" stroke-width="0.6"/>
<rect x="321.3" y="287.6" width="8" height="4.8" fill="#222"/>
<path d="M324,288.2 v3.6 M326.3,288.2 v3.6" stroke="#999" stroke-width="0.5"/>
<path d="M321.5,288 L317.2,284.8 L313.8,287.6 L317.6,290.1 L313.8,292.6 L317.2,295.4 L321.5,292.2" fill="none" stroke="#000" stroke-width="1.3" stroke-linejoin="miter"/>
<path d="M317.2,285 L319.2,290.1 L317.2,295.2 M319.2,290.1 H322" fill="none" stroke="#000" stroke-width="0.9"/>
<g transform="translate(739.3,0) scale(-1,1)">
<path d="M329.3,284.3 C322,281.5 314,280.2 306,281.8 C299,283.5 295,287 293,290.1 C295,293.5 299,297 306,298.8 C314,300.3 322,299 329.3,296.7" fill="none" stroke="#444" stroke-width="0.75"/>
<rect x="329.30" y="283.50" width="29.70" height="14.20" fill="#fff" stroke="#000" stroke-width="1.4"/>
<rect x="359.20" y="272.00" width="6.10" height="21.50" fill="#fff" stroke="#000" stroke-width="1.0"/>
<line x1="359.20" y1="276.30" x2="365.30" y2="276.30" stroke="#111" stroke-width="0.8"/>
<rect x="336.3" y="285.8" width="8.5" height="3.2" fill="#444"/>
<rect x="336.3" y="291.2" width="8.5" height="3.2" fill="#444"/>
<path d="M338.3,285.8 v3.2 M340.5,285.8 v3.2 M342.7,285.8 v3.2 M338.3,291.2 v3.2 M340.5,291.2 v3.2 M342.7,291.2 v3.2" stroke="#ddd" stroke-width="0.6"/>
<path d="M344.8,287 H351 V284.5 M344.8,293.2 H351 V296.5 M351,284.5 V296.5" fill="none" stroke="#444" stroke-width="0.7"/>
<rect x="352.6" y="288" width="3.4" height="4.3" fill="none" stroke="#555" stroke-width="0.6"/>
<rect x="321.3" y="287.6" width="8" height="4.8" fill="#222"/>
<path d="M324,288.2 v3.6 M326.3,288.2 v3.6" stroke="#999" stroke-width="0.5"/>
<path d="M321.5,288 L317.2,284.8 L313.8,287.6 L317.6,290.1 L313.8,292.6 L317.2,295.4 L321.5,292.2" fill="none" stroke="#000" stroke-width="1.3" stroke-linejoin="miter"/>
<path d="M317.2,285 L319.2,290.1 L317.2,295.2 M319.2,290.1 H322" fill="none" stroke="#000" stroke-width="0.9"/>
</g>
<rect x="438.7" y="268.2" width="3.2" height="5.6" rx="1" fill="#000"/>
<path d="M452,288 h4 v4.4 h-4 l-0.8,-2.2 z" fill="#000"/>
<line x1="109.30" y1="258.20" x2="109.30" y2="369.00" stroke="#111" stroke-width="1.6"/>
<line x1="456.40" y1="257.90" x2="456.40" y2="325.00" stroke="#111" stroke-width="2.2"/>
<line x1="456.40" y1="325.00" x2="456.40" y2="369.30" stroke="#111" stroke-width="1.5"/>
<rect x="594.00" y="260.30" width="53.10" height="52.70" fill="#fff" stroke="none" stroke-width="0"/>
<line x1="594.00" y1="260.30" x2="646.40" y2="260.30" stroke="#111" stroke-width="1.2"/>
<line x1="540.30" y1="257.60" x2="540.30" y2="369.00" stroke="#555" stroke-width="1.3"/>
<line x1="647.10" y1="257.90" x2="647.10" y2="325.00" stroke="#111" stroke-width="2.2"/>
<line x1="647.10" y1="325.00" x2="647.10" y2="369.00" stroke="#111" stroke-width="1.4"/>
<line x1="594.10" y1="260.00" x2="594.10" y2="313.00" stroke="#111" stroke-width="1.2"/>
<rect x="594.10" y="260.50" width="7.30" height="10.20" fill="#fff" stroke="#000" stroke-width="1.8"/>
<rect x="598.3" y="263.6" width="3.8" height="3" fill="#000"/>
<rect x="594.10" y="271.40" width="3.00" height="4.30" fill="#fff" stroke="#000" stroke-width="0.9"/>
<path d="M594.1,280.7 A9.6,9.7 0 0 1 594.1,300.1" fill="none" stroke="#000" stroke-width="1.1"/>
<path d="M594.1,283 A7.4,7.4 0 0 1 594.1,297.8" fill="none" stroke="#000" stroke-width="1.1"/>
<path d="M601.8,265 L604.5,264.5 L636,312.5" fill="none" stroke="#555" stroke-width="0.8"/>
<ellipse cx="606.57" cy="272.79" rx="2.9" ry="1.9" transform="rotate(53 606.57 272.79)" fill="#bbb" stroke="#222" stroke-width="1"/>
<ellipse cx="610.71" cy="278.36" rx="2.9" ry="1.3" transform="rotate(53 610.71 278.36)" fill="#fff" stroke="#333" stroke-width="0.9"/>
<ellipse cx="614.86" cy="283.93" rx="2.9" ry="1.9" transform="rotate(53 614.86 283.93)" fill="#bbb" stroke="#222" stroke-width="1"/>
<ellipse cx="619.00" cy="289.50" rx="2.9" ry="1.3" transform="rotate(53 619.00 289.50)" fill="#fff" stroke="#333" stroke-width="0.9"/>
<ellipse cx="623.14" cy="295.07" rx="2.9" ry="1.9" transform="rotate(53 623.14 295.07)" fill="#bbb" stroke="#222" stroke-width="1"/>
<ellipse cx="627.29" cy="300.64" rx="2.9" ry="1.3" transform="rotate(53 627.29 300.64)" fill="#fff" stroke="#333" stroke-width="0.9"/>
<ellipse cx="631.43" cy="306.21" rx="2.9" ry="1.9" transform="rotate(53 631.43 306.21)" fill="#bbb" stroke="#222" stroke-width="1"/>
<path d="M643.5,288.5 h3.6 v4.6 h-3.6 l-1.2,-2.3 z" fill="#000"/>
<line x1="594.10" y1="313.00" x2="640.70" y2="313.00" stroke="#111" stroke-width="1.2"/>
<line x1="540.20" y1="363.90" x2="647.10" y2="363.90" stroke="#111" stroke-width="1.1"/>
<path d="M540.20,363.90 l4.20,-0.85 l0,1.7 z" fill="#000"/>
<path d="M647.10,363.90 l-4.20,-0.85 l0,1.7 z" fill="#000"/>
<text x="0" y="0" font-family="Liberation Serif"  font-size="14.5" text-anchor="middle" fill="#000" stroke="#000" stroke-width="0.45" transform="translate(593.60,363.60) scale(0.95,1)">218</text>
</svg></body></html>
